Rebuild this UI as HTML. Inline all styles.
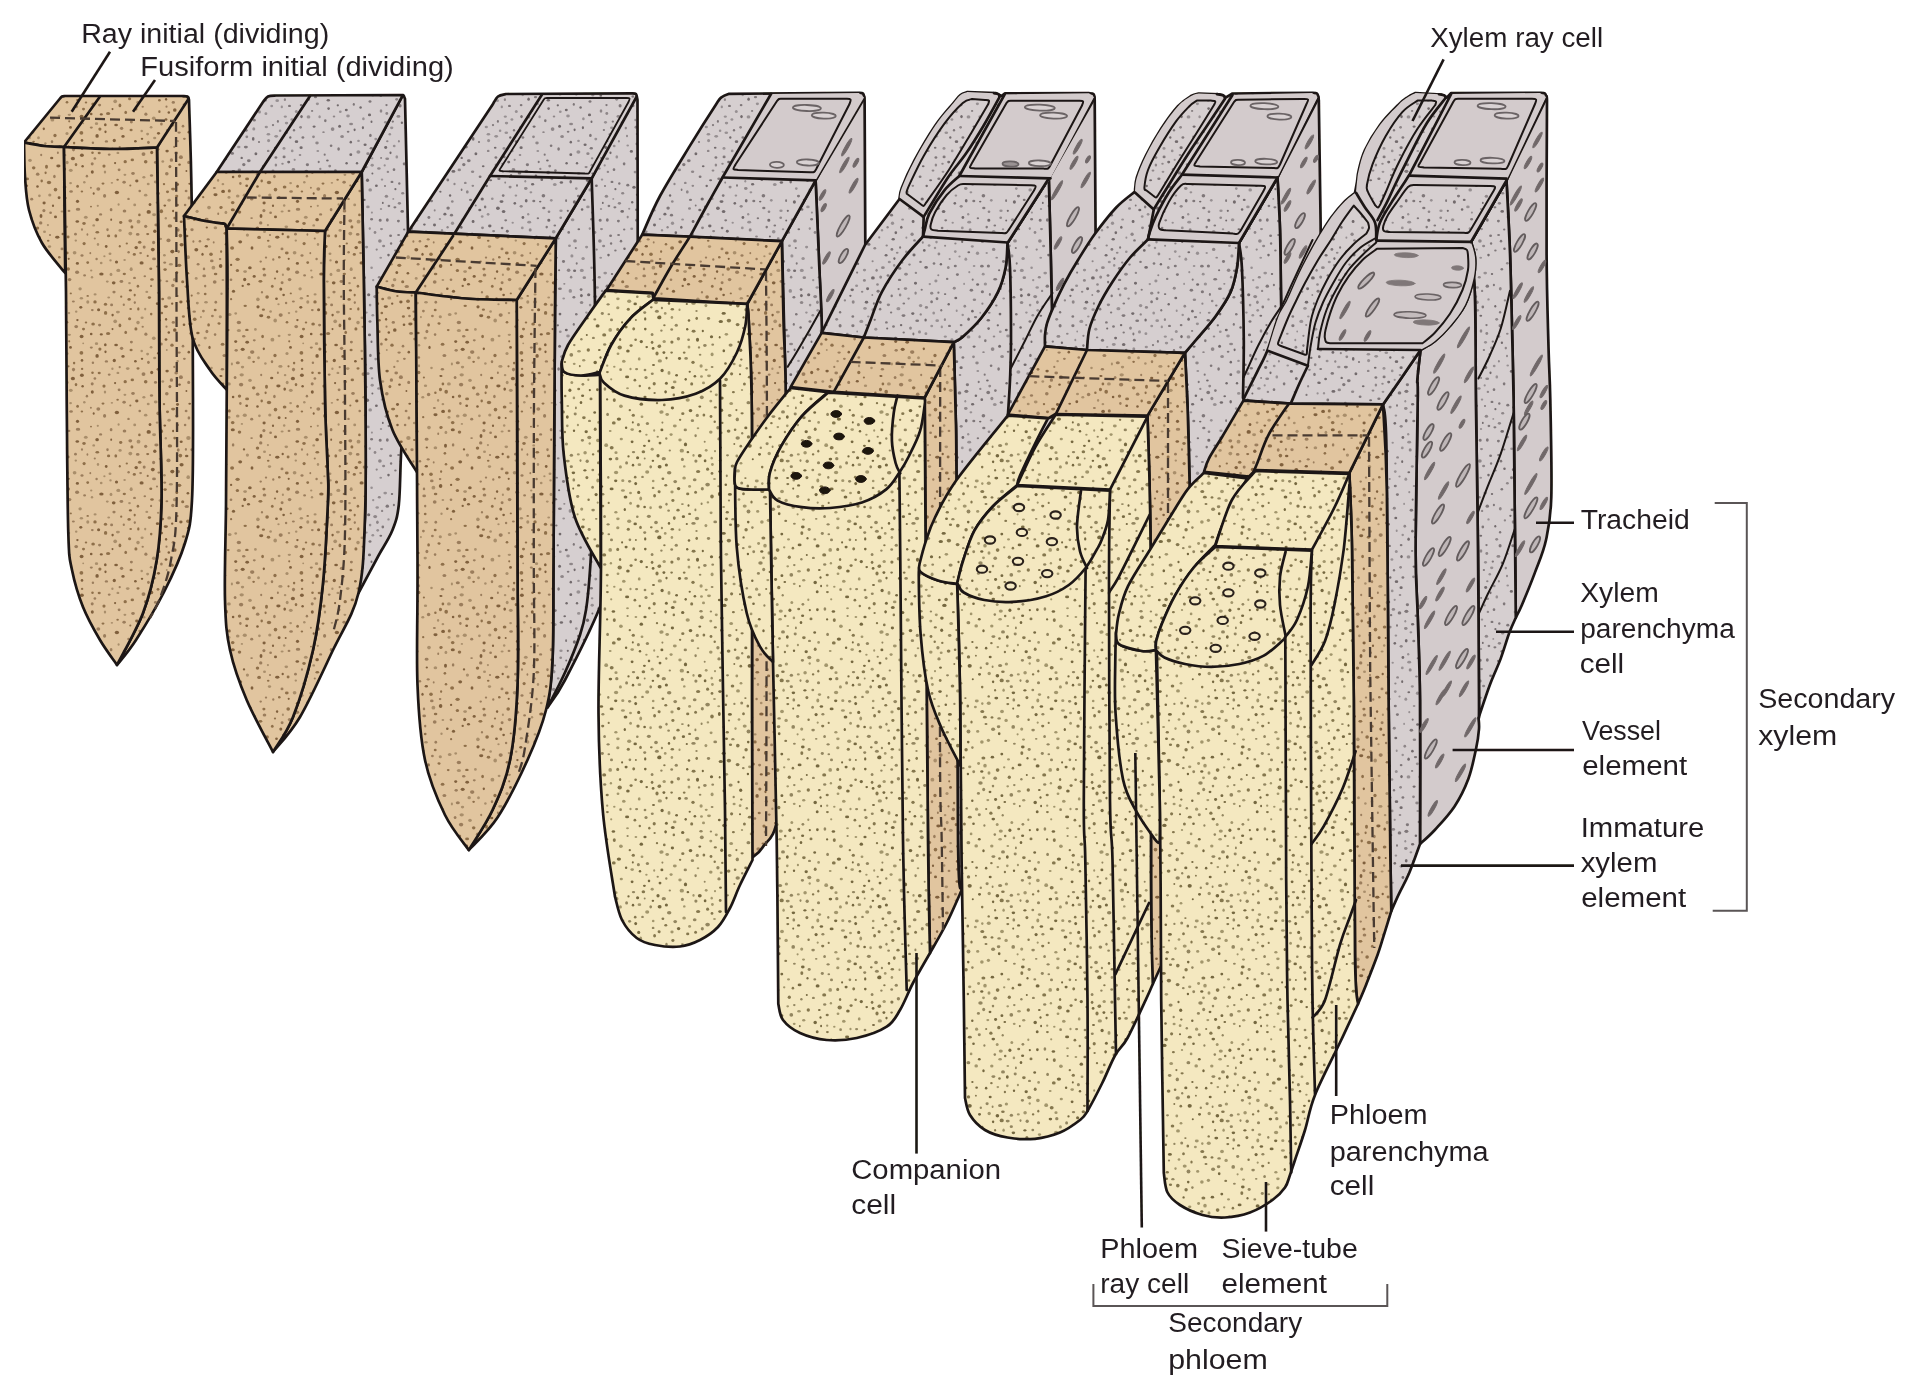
<!DOCTYPE html>
<html><head><meta charset="utf-8"><title>Vascular cambium derivatives</title>
<style>
html,body{margin:0;padding:0;background:#fff;}
svg{display:block;}
text{font-family:"Liberation Sans",sans-serif;fill:#231f20;}
</style></head><body>
<svg width="1920" height="1392" viewBox="0 0 1920 1392" stroke-linejoin="round" stroke-linecap="round">
<defs><pattern id="ptan" width="220" height="220" patternUnits="userSpaceOnUse"><rect width="220" height="220" fill="#e1c59f"/><g fill="#8f6f4a"><ellipse cx="81.4" cy="132.9" rx="1.89" ry="1.83"/><ellipse cx="219" cy="103.5" rx="1.60" ry="1.16"/><ellipse cx="-1" cy="103.5" rx="1.60" ry="1.16"/><ellipse cx="147.7" cy="14.1" rx="1.56" ry="1.05"/><ellipse cx="137.9" cy="66.2" rx="1.27" ry="1.44"/><ellipse cx="147.7" cy="35.9" rx="1.05" ry="1.12"/><ellipse cx="19.5" cy="176.1" rx="1.68" ry="1.69"/><ellipse cx="68.1" cy="16.9" rx="1.47" ry="1.49"/><ellipse cx="131.9" cy="6.9" rx="1.46" ry="1.54"/><ellipse cx="43.4" cy="89.7" rx="1.63" ry="1.15"/><ellipse cx="134.3" cy="34.4" rx="1.60" ry="1.36"/><ellipse cx="9.3" cy="190.9" rx="1.52" ry="1.71"/><ellipse cx="52.3" cy="66.2" rx="1.37" ry="1.53"/><ellipse cx="120.7" cy="2.5" rx="1.68" ry="1.42"/><ellipse cx="120.7" cy="222.5" rx="1.68" ry="1.42"/><ellipse cx="149.4" cy="77.6" rx="1.69" ry="1.37"/><ellipse cx="4.9" cy="13.3" rx="1.32" ry="1.38"/><ellipse cx="169.9" cy="5.9" rx="2.25" ry="1.56"/><ellipse cx="125.2" cy="161.7" rx="1.66" ry="1.67"/><ellipse cx="68.2" cy="49" rx="1.82" ry="1.67"/><ellipse cx="70.8" cy="73.4" rx="1.07" ry="0.96"/><ellipse cx="183.4" cy="96.5" rx="1.54" ry="1.21"/><ellipse cx="74.1" cy="143.1" rx="1.20" ry="1.45"/><ellipse cx="194.7" cy="99.2" rx="1.87" ry="1.71"/><ellipse cx="40.4" cy="61.3" rx="1.93" ry="1.38"/><ellipse cx="177.4" cy="76" rx="1.19" ry="0.97"/><ellipse cx="1" cy="207.5" rx="1.66" ry="1.48"/><ellipse cx="221" cy="207.5" rx="1.66" ry="1.48"/><ellipse cx="164" cy="184.1" rx="1.21" ry="1.20"/><ellipse cx="198.8" cy="152.6" rx="1.61" ry="1.74"/><ellipse cx="203.2" cy="197.2" rx="1.16" ry="1.12"/><ellipse cx="2.9" cy="164" rx="1.36" ry="1.45"/><ellipse cx="222.9" cy="164" rx="1.36" ry="1.45"/><ellipse cx="91" cy="206.6" rx="0.96" ry="0.90"/><ellipse cx="134.7" cy="75.1" rx="1.10" ry="1.47"/><ellipse cx="55.5" cy="189.6" rx="1.79" ry="1.85"/><ellipse cx="117.6" cy="179.7" rx="1.28" ry="0.93"/><ellipse cx="93.1" cy="104" rx="1.81" ry="1.51"/><ellipse cx="12.1" cy="27.9" rx="2.00" ry="1.75"/><ellipse cx="129.1" cy="79.4" rx="1.71" ry="1.43"/><ellipse cx="17.6" cy="39.3" rx="2.14" ry="1.58"/><ellipse cx="95" cy="81.9" rx="1.70" ry="1.59"/><ellipse cx="92.5" cy="152.7" rx="1.28" ry="1.21"/><ellipse cx="27.1" cy="178.9" rx="1.98" ry="1.45"/><ellipse cx="1.1" cy="31.6" rx="1.07" ry="1.34"/><ellipse cx="221.1" cy="31.6" rx="1.07" ry="1.34"/><ellipse cx="55" cy="135.5" rx="1.63" ry="1.82"/><ellipse cx="105.5" cy="84.2" rx="1.64" ry="1.51"/><ellipse cx="103" cy="183.6" rx="1.47" ry="1.15"/><ellipse cx="161.4" cy="211.3" rx="1.66" ry="1.98"/><ellipse cx="119.8" cy="26.2" rx="1.04" ry="1.20"/><ellipse cx="169.9" cy="166.6" rx="1.46" ry="1.63"/><ellipse cx="158" cy="149.3" rx="1.40" ry="1.34"/><ellipse cx="162.7" cy="79" rx="1.42" ry="1.34"/><ellipse cx="77.6" cy="186.3" rx="1.38" ry="1.51"/><ellipse cx="87.7" cy="42.6" rx="1.39" ry="1.28"/><ellipse cx="176.7" cy="196.1" rx="1.63" ry="1.34"/><ellipse cx="139.4" cy="214.9" rx="1.28" ry="1.41"/><ellipse cx="132.3" cy="159.9" rx="1.73" ry="1.39"/><ellipse cx="0.5" cy="169.5" rx="1.51" ry="1.73"/><ellipse cx="220.5" cy="169.5" rx="1.51" ry="1.73"/><ellipse cx="42.6" cy="116.5" rx="1.38" ry="1.64"/><ellipse cx="8.2" cy="110.1" rx="1.41" ry="1.06"/><ellipse cx="11.1" cy="79.2" rx="1.12" ry="1.12"/><ellipse cx="203.9" cy="157.5" rx="1.07" ry="1.02"/><ellipse cx="67" cy="102.2" rx="1.35" ry="1.24"/><ellipse cx="6" cy="24.2" rx="1.29" ry="1.28"/><ellipse cx="48.2" cy="20.7" rx="1.30" ry="1.04"/><ellipse cx="55" cy="58.5" rx="1.15" ry="1.07"/><ellipse cx="37.5" cy="8.1" rx="1.73" ry="1.66"/><ellipse cx="64.6" cy="187" rx="1.84" ry="1.58"/><ellipse cx="25.2" cy="85.8" rx="1.67" ry="1.17"/><ellipse cx="59.3" cy="37.3" rx="1.30" ry="1.23"/><ellipse cx="33.6" cy="141.8" rx="1.33" ry="1.09"/><ellipse cx="39.1" cy="17.4" rx="1.89" ry="1.60"/><ellipse cx="49" cy="182.5" rx="2.14" ry="1.81"/><ellipse cx="167.5" cy="191.8" rx="1.53" ry="1.34"/><ellipse cx="179.3" cy="45.3" rx="2.01" ry="1.60"/><ellipse cx="161.8" cy="93" rx="1.34" ry="1.33"/><ellipse cx="47.1" cy="77.1" rx="1.80" ry="1.75"/><ellipse cx="33.7" cy="167.8" rx="1.75" ry="1.67"/><ellipse cx="215.4" cy="172.8" rx="1.24" ry="1.31"/><ellipse cx="138" cy="148.5" rx="1.57" ry="1.13"/><ellipse cx="211" cy="34.2" rx="1.80" ry="1.80"/><ellipse cx="17.4" cy="50.5" rx="1.65" ry="1.56"/><ellipse cx="41.7" cy="181" rx="1.23" ry="1.46"/><ellipse cx="84.1" cy="23.6" rx="1.58" ry="1.65"/><ellipse cx="215.6" cy="54.1" rx="1.77" ry="1.26"/><ellipse cx="76" cy="164.6" rx="1.30" ry="1.56"/><ellipse cx="172" cy="125.2" rx="1.71" ry="1.62"/><ellipse cx="215.2" cy="90" rx="1.46" ry="1.23"/><ellipse cx="174.7" cy="218.1" rx="1.41" ry="1.34"/><ellipse cx="174.7" cy="-1.9" rx="1.41" ry="1.34"/><ellipse cx="105.6" cy="92.9" rx="1.67" ry="1.87"/><ellipse cx="48.5" cy="97.3" rx="1.74" ry="1.44"/><ellipse cx="124.3" cy="54" rx="1.69" ry="1.16"/><ellipse cx="97.3" cy="12.3" rx="1.84" ry="1.22"/><ellipse cx="173.1" cy="189.1" rx="2.06" ry="1.41"/><ellipse cx="150.8" cy="48.8" rx="1.51" ry="1.28"/><ellipse cx="126.8" cy="23.5" rx="1.18" ry="1.11"/><ellipse cx="208.6" cy="104.9" rx="1.34" ry="1.65"/><ellipse cx="125.7" cy="112.4" rx="1.35" ry="1.65"/><ellipse cx="43.9" cy="49.1" rx="1.57" ry="1.34"/><ellipse cx="165.1" cy="49.6" rx="1.73" ry="1.34"/><ellipse cx="81.9" cy="191.5" rx="1.26" ry="1.11"/><ellipse cx="151.2" cy="94.1" rx="1.24" ry="1.36"/><ellipse cx="46.5" cy="166.8" rx="1.50" ry="1.95"/><ellipse cx="145.7" cy="161.8" rx="1.79" ry="1.69"/><ellipse cx="26.9" cy="109.9" rx="1.76" ry="1.19"/><ellipse cx="19.5" cy="212.1" rx="1.75" ry="1.59"/><ellipse cx="86" cy="102.4" rx="1.24" ry="1.01"/><ellipse cx="180.4" cy="15.6" rx="1.76" ry="1.84"/><ellipse cx="68.5" cy="146.3" rx="1.06" ry="1.10"/><ellipse cx="87.7" cy="75.9" rx="1.24" ry="0.96"/><ellipse cx="191.7" cy="75.6" rx="1.08" ry="1.05"/><ellipse cx="119.9" cy="105.4" rx="1.41" ry="1.91"/><ellipse cx="182.7" cy="61.7" rx="1.54" ry="1.57"/><ellipse cx="130.7" cy="89" rx="1.33" ry="1.08"/><ellipse cx="135.9" cy="108.9" rx="1.54" ry="1.69"/><ellipse cx="12.7" cy="202.6" rx="1.80" ry="1.62"/><ellipse cx="194.3" cy="0" rx="1.31" ry="0.97"/><ellipse cx="194.3" cy="220" rx="1.31" ry="0.97"/><ellipse cx="129.6" cy="98.7" rx="1.58" ry="1.53"/><ellipse cx="104" cy="166.1" rx="1.59" ry="1.54"/><ellipse cx="2.6" cy="124.3" rx="1.84" ry="1.51"/><ellipse cx="222.6" cy="124.3" rx="1.84" ry="1.51"/><ellipse cx="45.6" cy="172.8" rx="1.11" ry="1.36"/><ellipse cx="83.5" cy="109.1" rx="1.50" ry="1.43"/><ellipse cx="82.1" cy="148.9" rx="1.20" ry="1.06"/><ellipse cx="138.3" cy="88.9" rx="1.18" ry="1.57"/><ellipse cx="159.4" cy="100.3" rx="1.36" ry="1.18"/><ellipse cx="130.3" cy="185.5" rx="1.06" ry="0.99"/><ellipse cx="159.4" cy="111.7" rx="1.18" ry="1.34"/><ellipse cx="121.2" cy="76.7" rx="1.12" ry="1.14"/><ellipse cx="205.2" cy="74" rx="1.36" ry="1.28"/><ellipse cx="115.8" cy="15.9" rx="1.38" ry="1.57"/><ellipse cx="139.7" cy="22.3" rx="1.73" ry="1.56"/><ellipse cx="188" cy="81.2" rx="1.91" ry="1.73"/><ellipse cx="66.8" cy="33" rx="1.87" ry="1.49"/><ellipse cx="99.9" cy="129.1" rx="1.58" ry="1.69"/><ellipse cx="131.1" cy="130.1" rx="1.52" ry="1.27"/><ellipse cx="152" cy="59.6" rx="1.82" ry="1.24"/><ellipse cx="69.2" cy="121.3" rx="1.03" ry="1.11"/><ellipse cx="99.2" cy="153" rx="1.54" ry="1.32"/><ellipse cx="108.6" cy="15.9" rx="1.59" ry="1.43"/><ellipse cx="84" cy="3.5" rx="1.75" ry="1.40"/><ellipse cx="108.1" cy="113.5" rx="2.09" ry="1.61"/><ellipse cx="6.2" cy="171.7" rx="1.81" ry="1.93"/></g><g fill="#9b7d5c"><ellipse cx="137.7" cy="14.4" rx="1.79" ry="1.40"/><ellipse cx="140.6" cy="33.1" rx="1.42" ry="1.08"/><ellipse cx="139.7" cy="191" rx="1.29" ry="1.26"/><ellipse cx="158.1" cy="193.3" rx="1.72" ry="1.92"/><ellipse cx="86.9" cy="176.2" rx="1.21" ry="1.40"/><ellipse cx="193.4" cy="21.4" rx="1.00" ry="1.25"/><ellipse cx="212.4" cy="96" rx="1.39" ry="1.27"/><ellipse cx="111.6" cy="84.9" rx="1.49" ry="1.44"/><ellipse cx="128.5" cy="198.9" rx="1.26" ry="1.17"/><ellipse cx="157" cy="46.4" rx="1.04" ry="1.01"/><ellipse cx="183" cy="126.2" rx="1.33" ry="1.38"/><ellipse cx="90.3" cy="33.2" rx="0.93" ry="1.12"/><ellipse cx="192" cy="9.7" rx="1.66" ry="1.47"/><ellipse cx="69" cy="210.9" rx="1.44" ry="1.06"/><ellipse cx="206.9" cy="111.5" rx="1.48" ry="1.72"/><ellipse cx="94.9" cy="158.5" rx="1.35" ry="1.36"/><ellipse cx="215.1" cy="114.6" rx="1.27" ry="1.43"/><ellipse cx="91.3" cy="127.6" rx="1.56" ry="1.04"/><ellipse cx="4.4" cy="135.5" rx="1.92" ry="1.53"/><ellipse cx="155.5" cy="162.4" rx="1.60" ry="1.32"/><ellipse cx="66.1" cy="83" rx="1.19" ry="1.35"/><ellipse cx="153.6" cy="22.4" rx="1.58" ry="1.73"/><ellipse cx="92.3" cy="90.1" rx="1.42" ry="1.15"/><ellipse cx="204" cy="48.9" rx="1.22" ry="1.32"/><ellipse cx="145.9" cy="114.2" rx="1.59" ry="1.59"/><ellipse cx="50" cy="15" rx="1.10" ry="0.96"/><ellipse cx="178.2" cy="9.9" rx="1.45" ry="1.73"/><ellipse cx="37.7" cy="174.2" rx="1.77" ry="1.59"/><ellipse cx="11" cy="59.7" rx="1.35" ry="1.28"/><ellipse cx="214.4" cy="188" rx="1.51" ry="1.12"/><ellipse cx="42" cy="72.3" rx="1.04" ry="1.21"/><ellipse cx="109.2" cy="154.6" rx="1.35" ry="1.21"/><ellipse cx="174.3" cy="146.9" rx="1.12" ry="1.06"/><ellipse cx="161.4" cy="124" rx="1.36" ry="1.53"/><ellipse cx="124.1" cy="182.2" rx="1.73" ry="1.46"/><ellipse cx="53.3" cy="39.5" rx="1.11" ry="1.26"/><ellipse cx="106.4" cy="141.4" rx="1.62" ry="1.22"/><ellipse cx="21.1" cy="164.6" rx="2.15" ry="1.88"/><ellipse cx="90.9" cy="187.8" rx="0.99" ry="0.95"/><ellipse cx="31.6" cy="218.1" rx="1.32" ry="0.93"/><ellipse cx="31.6" cy="-1.9" rx="1.32" ry="0.93"/><ellipse cx="41.2" cy="155" rx="1.07" ry="1.16"/><ellipse cx="188.9" cy="197.9" rx="1.34" ry="1.61"/><ellipse cx="20.4" cy="183.5" rx="1.26" ry="1.40"/><ellipse cx="199.9" cy="21.3" rx="1.28" ry="1.19"/><ellipse cx="144.2" cy="27.1" rx="1.49" ry="1.70"/><ellipse cx="131.4" cy="122.1" rx="1.49" ry="1.34"/><ellipse cx="15.1" cy="157.5" rx="1.39" ry="1.54"/><ellipse cx="119.1" cy="169.8" rx="1.44" ry="1.41"/><ellipse cx="171.4" cy="160" rx="1.67" ry="1.84"/><ellipse cx="40.7" cy="41.6" rx="1.26" ry="1.11"/><ellipse cx="44.5" cy="55" rx="1.83" ry="1.61"/><ellipse cx="121.6" cy="128.3" rx="1.67" ry="1.67"/><ellipse cx="151.1" cy="65.9" rx="1.10" ry="1.18"/><ellipse cx="124.5" cy="211" rx="1.80" ry="1.60"/><ellipse cx="71.1" cy="191.5" rx="1.82" ry="1.36"/><ellipse cx="189.5" cy="96.1" rx="1.29" ry="1.26"/><ellipse cx="166.5" cy="106.7" rx="1.06" ry="1.08"/><ellipse cx="92.9" cy="142.8" rx="1.21" ry="1.23"/><ellipse cx="46" cy="37.6" rx="1.19" ry="1.05"/><ellipse cx="13.1" cy="4.9" rx="1.28" ry="1.66"/><ellipse cx="173.3" cy="102.4" rx="1.67" ry="1.44"/><ellipse cx="205.2" cy="66.1" rx="1.17" ry="1.32"/><ellipse cx="130.3" cy="0.8" rx="1.87" ry="1.61"/><ellipse cx="130.3" cy="220.8" rx="1.87" ry="1.61"/><ellipse cx="198.1" cy="44.2" rx="1.45" ry="1.26"/><ellipse cx="208.2" cy="19.3" rx="1.51" ry="1.17"/><ellipse cx="73.5" cy="149.6" rx="1.57" ry="1.82"/><ellipse cx="156.4" cy="5" rx="2.08" ry="1.39"/><ellipse cx="73.4" cy="81.4" rx="1.50" ry="0.98"/><ellipse cx="17.8" cy="142.8" rx="2.01" ry="1.53"/><ellipse cx="50.6" cy="212.8" rx="1.34" ry="1.31"/><ellipse cx="133" cy="173.5" rx="1.80" ry="1.49"/><ellipse cx="18.9" cy="102.4" rx="2.16" ry="1.75"/><ellipse cx="76.2" cy="106.6" rx="1.86" ry="1.60"/><ellipse cx="94.8" cy="18.5" rx="1.09" ry="1.10"/><ellipse cx="60.7" cy="95.1" rx="2.05" ry="1.81"/><ellipse cx="82" cy="35.5" rx="1.56" ry="1.17"/><ellipse cx="40.7" cy="2.9" rx="1.68" ry="1.68"/><ellipse cx="40.7" cy="222.9" rx="1.68" ry="1.68"/><ellipse cx="54.4" cy="176.5" rx="1.29" ry="1.73"/><ellipse cx="166.8" cy="173.7" rx="1.79" ry="1.77"/><ellipse cx="121.4" cy="61.5" rx="1.87" ry="1.46"/><ellipse cx="179.1" cy="132.6" rx="1.73" ry="1.15"/><ellipse cx="69.6" cy="59.6" rx="1.80" ry="1.58"/><ellipse cx="62" cy="28.9" rx="1.51" ry="1.41"/><ellipse cx="184.4" cy="138.8" rx="1.43" ry="1.13"/><ellipse cx="31.7" cy="199.2" rx="1.55" ry="1.33"/><ellipse cx="148.4" cy="142.3" rx="1.36" ry="1.65"/><ellipse cx="206.6" cy="219.3" rx="1.95" ry="1.47"/><ellipse cx="206.6" cy="-0.7" rx="1.95" ry="1.47"/><ellipse cx="78" cy="209.2" rx="2.25" ry="1.52"/><ellipse cx="168.5" cy="20.4" rx="2.11" ry="1.82"/><ellipse cx="32.2" cy="132.1" rx="2.21" ry="1.78"/><ellipse cx="99.6" cy="105.1" rx="1.55" ry="1.35"/><ellipse cx="128.6" cy="32.2" rx="1.22" ry="1.28"/><ellipse cx="104.6" cy="195.9" rx="1.58" ry="1.78"/><ellipse cx="188.7" cy="162.4" rx="1.49" ry="1.54"/><ellipse cx="57.9" cy="152.7" rx="1.01" ry="1.25"/><ellipse cx="23.7" cy="116.2" rx="1.69" ry="1.29"/><ellipse cx="194.6" cy="119.1" rx="1.38" ry="1.41"/><ellipse cx="2.4" cy="149.3" rx="1.66" ry="1.27"/><ellipse cx="222.4" cy="149.3" rx="1.66" ry="1.27"/><ellipse cx="123.8" cy="84.8" rx="1.10" ry="1.19"/><ellipse cx="191.1" cy="113.4" rx="1.90" ry="1.35"/><ellipse cx="87.4" cy="14.5" rx="0.90" ry="1.24"/><ellipse cx="211.8" cy="40.9" rx="1.80" ry="1.38"/><ellipse cx="100.6" cy="214.4" rx="1.53" ry="1.17"/><ellipse cx="111.1" cy="209.7" rx="1.35" ry="1.65"/><ellipse cx="82" cy="9.6" rx="1.04" ry="1.25"/><ellipse cx="119.7" cy="147.1" rx="1.13" ry="1.20"/><ellipse cx="134.5" cy="57.9" rx="1.44" ry="1.18"/><ellipse cx="114" cy="72.1" rx="1.62" ry="1.34"/><ellipse cx="213.7" cy="22.4" rx="0.95" ry="1.16"/><ellipse cx="203.4" cy="91.1" rx="1.40" ry="1.34"/><ellipse cx="204.2" cy="55.9" rx="1.85" ry="1.34"/><ellipse cx="214.7" cy="62" rx="1.87" ry="1.65"/><ellipse cx="145.7" cy="6.3" rx="1.60" ry="1.66"/><ellipse cx="172.8" cy="65.6" rx="1.67" ry="1.73"/><ellipse cx="0.1" cy="39.1" rx="1.30" ry="1.14"/><ellipse cx="220.1" cy="39.1" rx="1.30" ry="1.14"/><ellipse cx="43.9" cy="210.6" rx="1.56" ry="1.55"/><ellipse cx="107.5" cy="9.8" rx="1.23" ry="1.45"/><ellipse cx="75.5" cy="14.2" rx="1.42" ry="1.40"/><ellipse cx="185.1" cy="205" rx="1.30" ry="1.31"/><ellipse cx="185.9" cy="9.4" rx="1.07" ry="1.32"/><ellipse cx="142.7" cy="106.8" rx="1.16" ry="1.04"/><ellipse cx="166.9" cy="61.2" rx="1.43" ry="0.98"/><ellipse cx="218.2" cy="213.8" rx="0.97" ry="1.31"/><ellipse cx="-1.8" cy="213.8" rx="0.97" ry="1.31"/><ellipse cx="52" cy="141.8" rx="1.27" ry="1.49"/><ellipse cx="92.2" cy="163.8" rx="1.50" ry="1.66"/><ellipse cx="180.9" cy="157.2" rx="1.98" ry="1.88"/><ellipse cx="84.6" cy="55.4" rx="1.46" ry="1.15"/><ellipse cx="34.3" cy="120.3" rx="1.47" ry="1.13"/><ellipse cx="178.7" cy="31.6" rx="1.19" ry="1.59"/><ellipse cx="16.2" cy="130.3" rx="1.68" ry="1.41"/><ellipse cx="134.8" cy="82.6" rx="1.13" ry="1.35"/><ellipse cx="154" cy="38.9" rx="1.93" ry="1.45"/><ellipse cx="208.6" cy="174.4" rx="1.74" ry="1.77"/><ellipse cx="186.8" cy="66.5" rx="2.18" ry="1.60"/><ellipse cx="62.1" cy="62.8" rx="1.48" ry="1.45"/><ellipse cx="144.8" cy="56.2" rx="1.27" ry="1.00"/><ellipse cx="194.2" cy="91.7" rx="1.80" ry="1.14"/><ellipse cx="198.8" cy="137.6" rx="1.34" ry="1.23"/><ellipse cx="143.5" cy="154.1" rx="1.95" ry="1.85"/><ellipse cx="77.1" cy="52.3" rx="2.03" ry="1.80"/><ellipse cx="215.8" cy="82.2" rx="1.36" ry="1.48"/><ellipse cx="151.5" cy="175.6" rx="1.62" ry="1.23"/><ellipse cx="164.7" cy="42.6" rx="1.43" ry="1.19"/><ellipse cx="96.6" cy="39" rx="1.21" ry="1.28"/><ellipse cx="176.2" cy="152.9" rx="1.83" ry="1.49"/><ellipse cx="186.1" cy="191" rx="1.42" ry="1.35"/><ellipse cx="98.3" cy="189" rx="1.94" ry="1.65"/><ellipse cx="158.8" cy="32.6" rx="1.43" ry="1.12"/></g><g fill="#a98e6b"><ellipse cx="52.4" cy="119.7" rx="1.93" ry="1.88"/><ellipse cx="2.9" cy="184.2" rx="1.37" ry="1.09"/><ellipse cx="222.9" cy="184.2" rx="1.37" ry="1.09"/><ellipse cx="166.8" cy="130" rx="0.97" ry="1.07"/><ellipse cx="66.3" cy="6.8" rx="1.79" ry="1.36"/><ellipse cx="157.1" cy="202.6" rx="1.28" ry="1.20"/><ellipse cx="97.8" cy="205.8" rx="1.12" ry="1.15"/><ellipse cx="188.4" cy="218" rx="2.20" ry="1.96"/><ellipse cx="188.4" cy="-2" rx="2.20" ry="1.96"/><ellipse cx="199" cy="125.2" rx="1.27" ry="1.28"/><ellipse cx="158.1" cy="72.8" rx="1.20" ry="1.16"/><ellipse cx="197.3" cy="83.1" rx="1.49" ry="1.44"/><ellipse cx="141.7" cy="131" rx="1.23" ry="1.22"/><ellipse cx="138" cy="102.6" rx="1.73" ry="1.79"/><ellipse cx="55.2" cy="100.4" rx="1.79" ry="2.00"/><ellipse cx="80.1" cy="68.8" rx="1.69" ry="1.67"/><ellipse cx="188.2" cy="37.2" rx="1.78" ry="1.90"/><ellipse cx="49.5" cy="26.6" rx="1.68" ry="1.31"/><ellipse cx="177.6" cy="141.2" rx="1.27" ry="1.09"/><ellipse cx="174.6" cy="59.7" rx="1.75" ry="1.67"/><ellipse cx="76.2" cy="91.7" rx="1.27" ry="1.13"/><ellipse cx="129.5" cy="63.1" rx="1.35" ry="1.17"/><ellipse cx="105" cy="172.1" rx="1.21" ry="1.51"/><ellipse cx="202.8" cy="177.3" rx="1.52" ry="1.27"/><ellipse cx="59.1" cy="116" rx="1.44" ry="1.14"/><ellipse cx="27.4" cy="15.1" rx="1.60" ry="1.66"/><ellipse cx="18.9" cy="110.5" rx="2.05" ry="1.59"/><ellipse cx="117.9" cy="152.9" rx="1.43" ry="1.20"/><ellipse cx="15.7" cy="93.5" rx="1.46" ry="1.13"/><ellipse cx="206" cy="82.3" rx="1.78" ry="1.32"/><ellipse cx="197.5" cy="174" rx="1.51" ry="1.22"/><ellipse cx="145.7" cy="195.2" rx="1.73" ry="1.35"/><ellipse cx="148.2" cy="184" rx="1.46" ry="1.30"/><ellipse cx="164.4" cy="35.3" rx="1.39" ry="1.29"/><ellipse cx="65.1" cy="155.2" rx="1.30" ry="1.12"/><ellipse cx="47.9" cy="5.1" rx="1.11" ry="1.12"/><ellipse cx="37.9" cy="79.3" rx="1.75" ry="1.91"/><ellipse cx="70.8" cy="170.3" rx="1.90" ry="1.60"/><ellipse cx="69" cy="93.1" rx="1.27" ry="1.12"/><ellipse cx="160.4" cy="18.9" rx="1.68" ry="1.08"/><ellipse cx="127.7" cy="148.6" rx="1.82" ry="1.31"/><ellipse cx="1.5" cy="73.7" rx="1.16" ry="1.31"/><ellipse cx="221.5" cy="73.7" rx="1.16" ry="1.31"/><ellipse cx="60.4" cy="146.4" rx="2.09" ry="1.38"/><ellipse cx="24.8" cy="195.2" rx="2.07" ry="1.70"/><ellipse cx="143.9" cy="177.3" rx="1.52" ry="1.24"/><ellipse cx="211.5" cy="148" rx="1.30" ry="1.16"/><ellipse cx="108.7" cy="77.5" rx="1.42" ry="1.09"/><ellipse cx="124.6" cy="40" rx="1.27" ry="0.92"/><ellipse cx="39.4" cy="195.8" rx="1.37" ry="1.34"/><ellipse cx="58.5" cy="84.3" rx="1.16" ry="1.00"/><ellipse cx="111" cy="54.4" rx="1.42" ry="1.64"/><ellipse cx="169.2" cy="77.9" rx="1.98" ry="1.55"/><ellipse cx="115.2" cy="101.3" rx="1.85" ry="1.85"/><ellipse cx="142.1" cy="97.7" rx="1.56" ry="1.25"/><ellipse cx="118.6" cy="204.6" rx="1.03" ry="1.27"/><ellipse cx="35.4" cy="109.4" rx="1.37" ry="1.39"/><ellipse cx="153.8" cy="118.2" rx="1.86" ry="1.72"/><ellipse cx="131.2" cy="49.2" rx="1.49" ry="1.89"/><ellipse cx="101.2" cy="43" rx="1.35" ry="1.31"/><ellipse cx="5.9" cy="212.4" rx="1.40" ry="1.56"/><ellipse cx="104.4" cy="36.2" rx="1.14" ry="1.01"/><ellipse cx="160.1" cy="60.5" rx="1.54" ry="1.30"/><ellipse cx="75.8" cy="20.6" rx="1.24" ry="1.13"/><ellipse cx="11.9" cy="143.9" rx="1.10" ry="1.48"/><ellipse cx="67" cy="133.5" rx="1.57" ry="1.54"/><ellipse cx="162.8" cy="161.5" rx="1.39" ry="1.37"/><ellipse cx="91.2" cy="50.5" rx="1.16" ry="1.04"/><ellipse cx="98" cy="24.4" rx="1.21" ry="1.48"/><ellipse cx="134.7" cy="204.9" rx="1.45" ry="1.40"/><ellipse cx="117.9" cy="92.1" rx="1.98" ry="1.42"/><ellipse cx="64.2" cy="205.5" rx="1.23" ry="1.36"/><ellipse cx="8.9" cy="163.9" rx="1.90" ry="1.55"/><ellipse cx="154.1" cy="214.8" rx="1.97" ry="1.44"/><ellipse cx="215.4" cy="7.7" rx="1.81" ry="1.56"/><ellipse cx="95.1" cy="74.4" rx="1.51" ry="1.05"/><ellipse cx="92" cy="57.3" rx="1.19" ry="1.32"/><ellipse cx="9.7" cy="94.5" rx="1.84" ry="1.55"/><ellipse cx="111.9" cy="182.8" rx="1.23" ry="0.91"/><ellipse cx="69.3" cy="114.8" rx="1.69" ry="1.13"/><ellipse cx="107.3" cy="61.6" rx="1.46" ry="1.14"/><ellipse cx="22.5" cy="147.1" rx="1.70" ry="1.30"/><ellipse cx="197.1" cy="211.3" rx="1.57" ry="1.63"/><ellipse cx="84.3" cy="182.2" rx="1.26" ry="1.18"/><ellipse cx="209" cy="207.6" rx="1.86" ry="1.79"/><ellipse cx="62.1" cy="211.5" rx="1.51" ry="1.03"/><ellipse cx="120.1" cy="10.4" rx="1.62" ry="1.34"/><ellipse cx="85.8" cy="217.3" rx="1.86" ry="1.52"/><ellipse cx="85.8" cy="-2.7" rx="1.86" ry="1.52"/><ellipse cx="44.5" cy="11.7" rx="1.49" ry="1.27"/><ellipse cx="87.8" cy="82" rx="1.53" ry="1.71"/><ellipse cx="200.9" cy="97.1" rx="1.03" ry="1.15"/><ellipse cx="165.8" cy="218.2" rx="1.15" ry="1.30"/><ellipse cx="165.8" cy="-1.8" rx="1.15" ry="1.30"/><ellipse cx="169.1" cy="200.2" rx="1.73" ry="1.47"/><ellipse cx="147.6" cy="134.1" rx="1.46" ry="1.35"/><ellipse cx="21.7" cy="154.8" rx="2.17" ry="1.58"/><ellipse cx="146.8" cy="71.9" rx="1.47" ry="1.16"/><ellipse cx="50.6" cy="91.5" rx="1.33" ry="1.24"/><ellipse cx="21.9" cy="203.9" rx="1.19" ry="0.93"/><ellipse cx="29.2" cy="137.7" rx="1.73" ry="1.61"/><ellipse cx="67.2" cy="162.4" rx="1.45" ry="1.73"/><ellipse cx="198.2" cy="73.3" rx="1.42" ry="1.22"/><ellipse cx="205.5" cy="165.7" rx="1.65" ry="1.30"/><ellipse cx="17.7" cy="196" rx="1.80" ry="1.53"/><ellipse cx="213.4" cy="47.7" rx="1.89" ry="1.88"/><ellipse cx="30" cy="160.3" rx="1.81" ry="1.60"/><ellipse cx="0.3" cy="96.7" rx="1.58" ry="1.51"/><ellipse cx="220.3" cy="96.7" rx="1.58" ry="1.51"/><ellipse cx="62.9" cy="54.8" rx="1.07" ry="1.21"/><ellipse cx="81.4" cy="78.2" rx="1.67" ry="1.21"/><ellipse cx="45.4" cy="143.6" rx="1.26" ry="1.23"/><ellipse cx="199" cy="145.8" rx="1.10" ry="1.51"/><ellipse cx="83.2" cy="123.3" rx="0.94" ry="0.90"/><ellipse cx="110" cy="33.8" rx="1.46" ry="1.19"/><ellipse cx="93.7" cy="5.4" rx="1.36" ry="1.21"/><ellipse cx="49.8" cy="195" rx="1.59" ry="1.53"/><ellipse cx="25.1" cy="51.6" rx="1.86" ry="1.47"/><ellipse cx="130.3" cy="13.6" rx="1.94" ry="1.79"/><ellipse cx="154.7" cy="138" rx="1.61" ry="1.18"/><ellipse cx="96.5" cy="123.7" rx="1.65" ry="1.33"/><ellipse cx="138.5" cy="1.7" rx="1.89" ry="1.92"/><ellipse cx="138.5" cy="221.7" rx="1.89" ry="1.92"/><ellipse cx="151.1" cy="127.3" rx="1.39" ry="1.31"/><ellipse cx="112.4" cy="148.7" rx="1.15" ry="1.28"/><ellipse cx="74.6" cy="32.8" rx="1.84" ry="1.80"/><ellipse cx="110.5" cy="40.4" rx="1.22" ry="1.16"/><ellipse cx="70.6" cy="183.1" rx="1.36" ry="1.17"/><ellipse cx="170.9" cy="44.3" rx="1.93" ry="1.23"/><ellipse cx="218.1" cy="180.4" rx="1.13" ry="1.30"/><ellipse cx="-1.9" cy="180.4" rx="1.13" ry="1.30"/><ellipse cx="2.9" cy="60" rx="1.38" ry="1.04"/><ellipse cx="222.9" cy="60" rx="1.38" ry="1.04"/><ellipse cx="155.7" cy="182" rx="1.87" ry="1.48"/><ellipse cx="196.2" cy="58.4" rx="1.46" ry="1.34"/><ellipse cx="9" cy="197.4" rx="1.53" ry="1.39"/><ellipse cx="38.5" cy="137.8" rx="1.39" ry="1.55"/><ellipse cx="124.9" cy="174.8" rx="1.45" ry="1.16"/><ellipse cx="118.3" cy="50.4" rx="2.02" ry="1.67"/><ellipse cx="205.2" cy="118.1" rx="1.66" ry="1.34"/><ellipse cx="145.2" cy="89.1" rx="1.11" ry="1.29"/><ellipse cx="194.3" cy="202.9" rx="1.40" ry="1.27"/></g><g fill="#80603d"><ellipse cx="57.1" cy="51.6" rx="1.17" ry="1.47"/><ellipse cx="184" cy="104.8" rx="1.31" ry="1.27"/><ellipse cx="115.1" cy="163.1" rx="1.11" ry="1.10"/><ellipse cx="190.4" cy="104" rx="2.17" ry="1.47"/><ellipse cx="29.9" cy="47.7" rx="1.81" ry="1.54"/><ellipse cx="150" cy="204.4" rx="1.39" ry="1.51"/><ellipse cx="62.7" cy="14" rx="1.14" ry="1.26"/><ellipse cx="64.7" cy="169.1" rx="1.34" ry="1.56"/><ellipse cx="111.2" cy="219.7" rx="0.96" ry="1.14"/><ellipse cx="111.2" cy="-0.3" rx="0.96" ry="1.14"/><ellipse cx="101.3" cy="114.4" rx="1.62" ry="1.13"/><ellipse cx="123" cy="136.4" rx="1.65" ry="1.45"/><ellipse cx="148.7" cy="211.9" rx="2.16" ry="1.91"/><ellipse cx="130.4" cy="70.4" rx="1.63" ry="1.14"/><ellipse cx="176.8" cy="52.5" rx="1.38" ry="1.50"/><ellipse cx="41.2" cy="95.8" rx="2.10" ry="1.48"/><ellipse cx="116.5" cy="42" rx="1.56" ry="1.58"/><ellipse cx="177.5" cy="184.5" rx="1.52" ry="1.40"/><ellipse cx="28.5" cy="64.2" rx="1.52" ry="1.29"/><ellipse cx="202.5" cy="34.3" rx="1.15" ry="1.51"/><ellipse cx="63.6" cy="75" rx="1.33" ry="1.15"/><ellipse cx="77.4" cy="43.4" rx="1.59" ry="1.46"/><ellipse cx="181.2" cy="1.7" rx="1.53" ry="1.25"/><ellipse cx="181.2" cy="221.7" rx="1.53" ry="1.25"/><ellipse cx="27.2" cy="122.2" rx="1.83" ry="1.48"/><ellipse cx="157.5" cy="83.7" rx="1.69" ry="1.38"/><ellipse cx="172.2" cy="83.7" rx="1.18" ry="1.16"/><ellipse cx="101.4" cy="53.9" rx="2.20" ry="1.52"/><ellipse cx="93.7" cy="193.5" rx="1.01" ry="1.30"/><ellipse cx="22.7" cy="129.3" rx="2.02" ry="1.60"/><ellipse cx="20.2" cy="21.8" rx="1.93" ry="1.59"/><ellipse cx="26.7" cy="185.7" rx="1.38" ry="1.20"/><ellipse cx="209.5" cy="127.4" rx="1.18" ry="1.56"/><ellipse cx="168.8" cy="112.5" rx="1.25" ry="1.36"/><ellipse cx="164.8" cy="205.6" rx="1.38" ry="1.07"/><ellipse cx="13.5" cy="71.3" rx="1.62" ry="1.52"/><ellipse cx="165.8" cy="86.6" rx="2.13" ry="1.47"/><ellipse cx="80.8" cy="87.3" rx="1.55" ry="1.40"/><ellipse cx="43.8" cy="128.8" rx="1.14" ry="1.39"/><ellipse cx="105.5" cy="131.8" rx="1.12" ry="1.37"/><ellipse cx="188.5" cy="88.1" rx="1.72" ry="1.40"/><ellipse cx="51.7" cy="157.9" rx="1.64" ry="1.27"/><ellipse cx="187.9" cy="53.3" rx="1.33" ry="1.29"/><ellipse cx="58.4" cy="165.9" rx="2.13" ry="1.48"/><ellipse cx="142" cy="138.8" rx="1.25" ry="1.11"/><ellipse cx="72.9" cy="158.5" rx="2.03" ry="1.86"/><ellipse cx="68.7" cy="38.8" rx="1.06" ry="1.14"/><ellipse cx="166" cy="119.5" rx="1.40" ry="1.19"/><ellipse cx="24.7" cy="59.5" rx="1.61" ry="1.79"/><ellipse cx="179.5" cy="164.7" rx="1.37" ry="1.11"/><ellipse cx="116.1" cy="125" rx="1.86" ry="1.37"/><ellipse cx="196.3" cy="29.8" rx="1.97" ry="1.72"/><ellipse cx="152.8" cy="29.6" rx="1.98" ry="1.83"/><ellipse cx="188.8" cy="132.2" rx="1.26" ry="1.34"/><ellipse cx="177.5" cy="205" rx="1.27" ry="1.21"/><ellipse cx="24" cy="9.4" rx="1.19" ry="1.16"/><ellipse cx="81.6" cy="116.5" rx="1.96" ry="1.82"/><ellipse cx="0.6" cy="46" rx="1.76" ry="1.89"/><ellipse cx="220.6" cy="46" rx="1.76" ry="1.89"/><ellipse cx="172.3" cy="31.6" rx="2.09" ry="1.82"/><ellipse cx="98.6" cy="89.7" rx="1.57" ry="1.53"/><ellipse cx="154.8" cy="11.2" rx="1.66" ry="1.80"/><ellipse cx="206.8" cy="7.5" rx="1.14" ry="1.00"/><ellipse cx="158.5" cy="133.3" rx="1.53" ry="1.40"/><ellipse cx="197.3" cy="161.2" rx="1.53" ry="1.23"/><ellipse cx="92.3" cy="171.9" rx="1.51" ry="1.76"/><ellipse cx="181.6" cy="24.8" rx="2.05" ry="1.78"/><ellipse cx="135.4" cy="141.2" rx="1.35" ry="1.22"/><ellipse cx="15.7" cy="121.6" rx="1.53" ry="1.31"/><ellipse cx="114.3" cy="140.6" rx="1.62" ry="1.73"/><ellipse cx="22.7" cy="65.9" rx="1.19" ry="1.14"/><ellipse cx="11.1" cy="44.9" rx="1.17" ry="1.11"/><ellipse cx="91.2" cy="114.1" rx="1.33" ry="1.24"/><ellipse cx="77.4" cy="100.1" rx="1.22" ry="1.10"/><ellipse cx="141.6" cy="42.9" rx="2.04" ry="1.58"/><ellipse cx="32" cy="27.9" rx="1.42" ry="1.77"/><ellipse cx="77.5" cy="201.3" rx="1.58" ry="1.60"/><ellipse cx="3.1" cy="191.4" rx="1.89" ry="1.65"/><ellipse cx="189.7" cy="183.7" rx="1.38" ry="0.97"/><ellipse cx="116.9" cy="192.5" rx="2.15" ry="1.79"/><ellipse cx="97.1" cy="135.9" rx="1.70" ry="1.84"/><ellipse cx="186.4" cy="171" rx="0.96" ry="1.03"/><ellipse cx="77.3" cy="1.6" rx="1.80" ry="1.27"/><ellipse cx="77.3" cy="221.6" rx="1.80" ry="1.27"/><ellipse cx="112.6" cy="95.1" rx="1.18" ry="1.45"/><ellipse cx="196.8" cy="181.8" rx="1.43" ry="1.48"/><ellipse cx="65.7" cy="198" rx="1.00" ry="1.01"/><ellipse cx="206.3" cy="26.3" rx="1.68" ry="1.19"/><ellipse cx="59.1" cy="197.7" rx="1.48" ry="1.43"/><ellipse cx="105.3" cy="124.8" rx="1.31" ry="1.52"/><ellipse cx="38" cy="86.8" rx="1.58" ry="1.62"/><ellipse cx="60.8" cy="69.1" rx="1.49" ry="1.54"/><ellipse cx="5.5" cy="5.8" rx="1.49" ry="1.98"/><ellipse cx="174.8" cy="110" rx="1.77" ry="1.84"/><ellipse cx="1" cy="155.9" rx="1.54" ry="1.01"/><ellipse cx="221" cy="155.9" rx="1.54" ry="1.01"/><ellipse cx="56.5" cy="78.7" rx="1.36" ry="1.21"/><ellipse cx="44.1" cy="203" rx="1.60" ry="1.45"/><ellipse cx="106.2" cy="26.5" rx="1.37" ry="1.49"/><ellipse cx="37.5" cy="186.5" rx="1.29" ry="1.17"/><ellipse cx="41" cy="215.9" rx="1.42" ry="1.98"/><ellipse cx="57.3" cy="17.2" rx="2.15" ry="1.43"/><ellipse cx="166.1" cy="99.3" rx="1.13" ry="1.33"/><ellipse cx="186.7" cy="16" rx="1.75" ry="1.30"/><ellipse cx="167.1" cy="151.1" rx="1.74" ry="1.46"/><ellipse cx="113.7" cy="62.8" rx="1.86" ry="1.62"/><ellipse cx="215.5" cy="194.8" rx="2.06" ry="1.45"/><ellipse cx="136.2" cy="27.6" rx="1.72" ry="1.71"/><ellipse cx="136.8" cy="180.9" rx="1.66" ry="1.49"/><ellipse cx="70.5" cy="127.4" rx="1.41" ry="1.47"/><ellipse cx="34.2" cy="56.4" rx="1.58" ry="1.43"/><ellipse cx="81.9" cy="155.2" rx="1.93" ry="1.79"/><ellipse cx="55.5" cy="216.9" rx="1.49" ry="1.35"/><ellipse cx="180.9" cy="82" rx="1.67" ry="1.43"/><ellipse cx="97.1" cy="219.6" rx="1.78" ry="1.72"/><ellipse cx="97.1" cy="-0.4" rx="1.78" ry="1.72"/><ellipse cx="82" cy="140.4" rx="1.30" ry="1.41"/><ellipse cx="7.3" cy="68.7" rx="1.30" ry="1.26"/><ellipse cx="82.6" cy="166.2" rx="1.23" ry="1.31"/><ellipse cx="151.7" cy="152.6" rx="1.52" ry="1.77"/><ellipse cx="12.8" cy="209.8" rx="2.03" ry="1.57"/><ellipse cx="13.1" cy="177" rx="1.29" ry="1.29"/><ellipse cx="53" cy="205.7" rx="1.10" ry="1.20"/><ellipse cx="112.5" cy="109.1" rx="1.02" ry="1.04"/><ellipse cx="173.1" cy="211" rx="1.02" ry="1.28"/><ellipse cx="197.9" cy="112.9" rx="1.72" ry="1.26"/></g></pattern><pattern id="pgrey" width="220" height="220" patternUnits="userSpaceOnUse"><rect width="220" height="220" fill="#d6cfd0"/><g fill="#7f7779"><ellipse cx="174.9" cy="207.3" rx="1.55" ry="1.12"/><ellipse cx="6.4" cy="102.4" rx="1.33" ry="1.22"/><ellipse cx="175.4" cy="30.5" rx="1.24" ry="1.09"/><ellipse cx="135.8" cy="27.9" rx="1.05" ry="1.01"/><ellipse cx="118.6" cy="149.1" rx="1.32" ry="1.77"/><ellipse cx="45.1" cy="207" rx="1.25" ry="1.43"/><ellipse cx="0.7" cy="149.1" rx="1.37" ry="1.01"/><ellipse cx="220.7" cy="149.1" rx="1.37" ry="1.01"/><ellipse cx="180.1" cy="105.8" rx="1.52" ry="1.71"/><ellipse cx="69.5" cy="105.9" rx="1.46" ry="1.19"/><ellipse cx="165" cy="185.9" rx="0.99" ry="1.00"/><ellipse cx="115.4" cy="170.6" rx="1.34" ry="1.32"/><ellipse cx="23.8" cy="164.6" rx="1.66" ry="1.54"/><ellipse cx="8.1" cy="208.1" rx="1.73" ry="1.61"/><ellipse cx="119.9" cy="68.7" rx="1.95" ry="1.29"/><ellipse cx="151.6" cy="219.3" rx="1.53" ry="1.19"/><ellipse cx="151.6" cy="-0.7" rx="1.53" ry="1.19"/><ellipse cx="217.1" cy="117.4" rx="1.25" ry="0.87"/><ellipse cx="-2.9" cy="117.4" rx="1.25" ry="0.87"/><ellipse cx="23.5" cy="95.6" rx="1.92" ry="1.32"/><ellipse cx="214.7" cy="99.8" rx="1.20" ry="1.13"/><ellipse cx="109.9" cy="74.5" rx="1.04" ry="1.42"/><ellipse cx="19.6" cy="59.9" rx="1.64" ry="1.19"/><ellipse cx="79.5" cy="172.9" rx="1.83" ry="1.66"/><ellipse cx="2.5" cy="120.3" rx="1.57" ry="1.50"/><ellipse cx="222.5" cy="120.3" rx="1.57" ry="1.50"/><ellipse cx="77" cy="185.4" rx="1.00" ry="1.25"/><ellipse cx="11.9" cy="29.4" rx="1.42" ry="1.38"/><ellipse cx="0.1" cy="89.2" rx="1.25" ry="1.42"/><ellipse cx="220.1" cy="89.2" rx="1.25" ry="1.42"/><ellipse cx="61.3" cy="90.2" rx="1.04" ry="1.23"/><ellipse cx="180.1" cy="92.2" rx="1.19" ry="1.22"/><ellipse cx="133.9" cy="77.2" rx="1.47" ry="1.25"/><ellipse cx="138.5" cy="196.1" rx="1.54" ry="1.36"/><ellipse cx="213.9" cy="83.6" rx="1.04" ry="1.24"/><ellipse cx="211.5" cy="201" rx="1.51" ry="1.28"/><ellipse cx="91.4" cy="70.2" rx="1.76" ry="1.43"/><ellipse cx="172" cy="181.9" rx="1.46" ry="1.20"/><ellipse cx="133.8" cy="104.4" rx="1.09" ry="1.42"/><ellipse cx="167.3" cy="66.2" rx="1.73" ry="1.67"/><ellipse cx="163.9" cy="130" rx="1.12" ry="1.10"/><ellipse cx="8" cy="55.5" rx="1.44" ry="1.28"/><ellipse cx="200.3" cy="31.4" rx="1.45" ry="1.32"/><ellipse cx="105.3" cy="120.8" rx="1.26" ry="1.49"/><ellipse cx="178.6" cy="15.1" rx="1.46" ry="1.00"/><ellipse cx="23.8" cy="83.4" rx="1.34" ry="0.99"/><ellipse cx="12.3" cy="153.4" rx="1.72" ry="1.29"/><ellipse cx="57.9" cy="121.4" rx="1.05" ry="1.28"/><ellipse cx="51.6" cy="81.7" rx="1.38" ry="1.56"/><ellipse cx="20.1" cy="27.5" rx="1.04" ry="1.21"/><ellipse cx="192.9" cy="105.7" rx="1.62" ry="1.45"/><ellipse cx="71.1" cy="175.2" rx="1.23" ry="1.13"/><ellipse cx="162.8" cy="87" rx="1.33" ry="1.41"/><ellipse cx="167.3" cy="0.1" rx="1.44" ry="1.77"/><ellipse cx="167.3" cy="220.1" rx="1.44" ry="1.77"/><ellipse cx="103.4" cy="195.8" rx="1.82" ry="1.76"/><ellipse cx="136.3" cy="94.3" rx="1.28" ry="1.27"/><ellipse cx="151.3" cy="148.2" rx="1.65" ry="1.25"/><ellipse cx="103.8" cy="208" rx="1.67" ry="1.21"/><ellipse cx="25.9" cy="147.1" rx="2.00" ry="1.33"/><ellipse cx="161.1" cy="157.9" rx="0.96" ry="0.94"/><ellipse cx="18.6" cy="69.1" rx="1.07" ry="1.06"/><ellipse cx="82.9" cy="137.5" rx="1.42" ry="1.23"/><ellipse cx="181.8" cy="49.3" rx="1.32" ry="1.20"/><ellipse cx="197.1" cy="143.9" rx="1.57" ry="1.36"/><ellipse cx="58.9" cy="178.7" rx="1.62" ry="1.27"/><ellipse cx="206.5" cy="174.9" rx="1.08" ry="1.07"/><ellipse cx="95.5" cy="97.1" rx="1.64" ry="1.22"/><ellipse cx="168.9" cy="206" rx="1.35" ry="1.14"/><ellipse cx="11.5" cy="215.2" rx="1.61" ry="1.41"/><ellipse cx="77.4" cy="54.6" rx="1.54" ry="1.32"/><ellipse cx="104.7" cy="154.7" rx="1.07" ry="1.14"/><ellipse cx="197.1" cy="52.6" rx="1.06" ry="1.10"/><ellipse cx="67.2" cy="58.9" rx="1.26" ry="1.12"/><ellipse cx="40.5" cy="41.9" rx="1.30" ry="1.15"/><ellipse cx="13.5" cy="106.6" rx="1.35" ry="1.27"/><ellipse cx="34.5" cy="20.4" rx="1.31" ry="1.17"/><ellipse cx="11.1" cy="92.6" rx="1.19" ry="1.00"/><ellipse cx="178.4" cy="1.1" rx="1.44" ry="1.47"/><ellipse cx="178.4" cy="221.1" rx="1.44" ry="1.47"/><ellipse cx="86.4" cy="171.3" rx="2.00" ry="1.63"/><ellipse cx="92.7" cy="59.6" rx="0.98" ry="1.20"/><ellipse cx="37.2" cy="100.7" rx="1.89" ry="1.26"/><ellipse cx="33.4" cy="114" rx="1.02" ry="1.41"/><ellipse cx="214.5" cy="154.4" rx="1.29" ry="1.65"/><ellipse cx="81.1" cy="105.1" rx="1.37" ry="1.17"/><ellipse cx="53" cy="125.1" rx="1.11" ry="1.16"/><ellipse cx="92.1" cy="110.9" rx="1.15" ry="0.91"/><ellipse cx="208.9" cy="217.4" rx="1.46" ry="1.49"/><ellipse cx="208.9" cy="-2.6" rx="1.46" ry="1.49"/><ellipse cx="98.7" cy="162" rx="1.05" ry="1.15"/><ellipse cx="116.3" cy="85.5" rx="1.25" ry="1.00"/><ellipse cx="192.8" cy="96.5" rx="1.35" ry="1.20"/><ellipse cx="65.7" cy="0.3" rx="1.45" ry="1.09"/><ellipse cx="65.7" cy="220.3" rx="1.45" ry="1.09"/><ellipse cx="126.1" cy="200.7" rx="1.00" ry="1.35"/><ellipse cx="57" cy="78.7" rx="1.40" ry="1.45"/><ellipse cx="23.7" cy="112.5" rx="1.21" ry="0.93"/><ellipse cx="74" cy="130.2" rx="1.16" ry="1.21"/><ellipse cx="160.2" cy="0.2" rx="1.43" ry="1.53"/><ellipse cx="160.2" cy="220.2" rx="1.43" ry="1.53"/><ellipse cx="174" cy="169.7" rx="1.35" ry="1.33"/><ellipse cx="184.2" cy="9.5" rx="1.17" ry="1.12"/><ellipse cx="114.8" cy="5.5" rx="1.35" ry="1.05"/><ellipse cx="19.6" cy="48.4" rx="1.74" ry="1.41"/><ellipse cx="166.5" cy="105.1" rx="1.16" ry="1.11"/><ellipse cx="75.3" cy="46" rx="1.54" ry="1.21"/><ellipse cx="150" cy="101.6" rx="1.51" ry="1.26"/><ellipse cx="21.6" cy="189.7" rx="0.91" ry="1.23"/><ellipse cx="187.8" cy="185.2" rx="1.53" ry="1.41"/><ellipse cx="7.8" cy="180" rx="1.41" ry="1.46"/><ellipse cx="35.7" cy="205.5" rx="0.93" ry="0.93"/><ellipse cx="62.1" cy="8" rx="1.33" ry="1.19"/><ellipse cx="184.1" cy="163.8" rx="1.33" ry="1.66"/><ellipse cx="173.9" cy="65" rx="1.06" ry="1.28"/><ellipse cx="26.2" cy="130.2" rx="1.44" ry="1.57"/><ellipse cx="111.1" cy="145.7" rx="1.32" ry="1.25"/><ellipse cx="218.1" cy="71.2" rx="1.58" ry="1.49"/><ellipse cx="-1.9" cy="71.2" rx="1.58" ry="1.49"/><ellipse cx="93.8" cy="200.9" rx="1.52" ry="1.25"/><ellipse cx="115.2" cy="59.2" rx="1.90" ry="1.23"/><ellipse cx="108.4" cy="46.1" rx="1.58" ry="1.51"/><ellipse cx="64.1" cy="156.9" rx="1.54" ry="1.39"/><ellipse cx="108.2" cy="172.5" rx="1.87" ry="1.73"/><ellipse cx="63.2" cy="195.6" rx="1.34" ry="1.34"/><ellipse cx="58.4" cy="72.7" rx="1.09" ry="1.14"/><ellipse cx="128.1" cy="131.7" rx="1.33" ry="0.99"/><ellipse cx="28.8" cy="160.8" rx="1.85" ry="1.44"/><ellipse cx="181" cy="21.2" rx="1.26" ry="1.37"/><ellipse cx="196.7" cy="134" rx="0.90" ry="0.94"/><ellipse cx="101.9" cy="46.2" rx="1.77" ry="1.42"/><ellipse cx="196.4" cy="209.7" rx="1.38" ry="1.18"/><ellipse cx="102.4" cy="71.7" rx="1.58" ry="1.57"/><ellipse cx="40.1" cy="176.7" rx="1.42" ry="1.29"/><ellipse cx="150.4" cy="135.4" rx="1.31" ry="1.54"/><ellipse cx="8.1" cy="62.1" rx="1.13" ry="1.35"/><ellipse cx="191.5" cy="37.8" rx="1.49" ry="1.43"/><ellipse cx="97.9" cy="218.3" rx="1.23" ry="1.07"/><ellipse cx="97.9" cy="-1.7" rx="1.23" ry="1.07"/><ellipse cx="54" cy="43.6" rx="1.33" ry="1.24"/><ellipse cx="203.4" cy="125.6" rx="1.13" ry="1.39"/><ellipse cx="179.3" cy="183.5" rx="1.19" ry="1.36"/><ellipse cx="39" cy="142" rx="1.08" ry="1.08"/><ellipse cx="128.7" cy="12.4" rx="1.33" ry="1.33"/><ellipse cx="136.7" cy="43.5" rx="1.03" ry="1.13"/><ellipse cx="106.7" cy="7.1" rx="1.22" ry="1.35"/><ellipse cx="41.7" cy="69.7" rx="1.10" ry="1.00"/><ellipse cx="30.5" cy="199.9" rx="1.55" ry="1.12"/><ellipse cx="11.7" cy="75.9" rx="1.20" ry="1.39"/><ellipse cx="170.6" cy="15.7" rx="1.43" ry="1.22"/><ellipse cx="34.3" cy="120.2" rx="1.49" ry="1.39"/><ellipse cx="55.9" cy="157.4" rx="1.43" ry="1.25"/><ellipse cx="141.1" cy="69.6" rx="1.42" ry="1.45"/><ellipse cx="123.5" cy="41.5" rx="1.56" ry="1.38"/><ellipse cx="87.4" cy="164.8" rx="1.61" ry="1.43"/><ellipse cx="172.8" cy="121.6" rx="1.19" ry="1.10"/><ellipse cx="171.1" cy="23.5" rx="1.17" ry="1.32"/></g><g fill="#8e8688"><ellipse cx="2.9" cy="47.7" rx="1.87" ry="1.37"/><ellipse cx="222.9" cy="47.7" rx="1.87" ry="1.37"/><ellipse cx="32.1" cy="14.3" rx="1.65" ry="1.79"/><ellipse cx="74.3" cy="68.2" rx="1.54" ry="1.43"/><ellipse cx="155" cy="12.5" rx="1.37" ry="1.42"/><ellipse cx="80.6" cy="127.3" rx="1.37" ry="1.39"/><ellipse cx="204.5" cy="207.2" rx="0.95" ry="0.95"/><ellipse cx="20.1" cy="75" rx="1.31" ry="1.49"/><ellipse cx="69.7" cy="39" rx="1.07" ry="1.12"/><ellipse cx="17.2" cy="32.8" rx="1.34" ry="1.03"/><ellipse cx="12.3" cy="201.5" rx="1.33" ry="1.25"/><ellipse cx="32.8" cy="185.8" rx="1.31" ry="1.14"/><ellipse cx="64.9" cy="99.7" rx="1.14" ry="1.33"/><ellipse cx="146.1" cy="167.1" rx="1.61" ry="1.13"/><ellipse cx="80" cy="155" rx="1.30" ry="1.00"/><ellipse cx="214.7" cy="210.4" rx="0.99" ry="1.04"/><ellipse cx="114" cy="116.5" rx="1.27" ry="1.07"/><ellipse cx="206.2" cy="105" rx="1.09" ry="1.12"/><ellipse cx="97" cy="143" rx="1.74" ry="1.38"/><ellipse cx="48.2" cy="150.9" rx="1.34" ry="1.18"/><ellipse cx="42.5" cy="7.8" rx="1.44" ry="1.37"/><ellipse cx="102.4" cy="83.7" rx="1.11" ry="1.09"/><ellipse cx="25.3" cy="182.9" rx="1.34" ry="1.17"/><ellipse cx="135" cy="20.9" rx="1.88" ry="1.56"/><ellipse cx="178.9" cy="141.3" rx="0.92" ry="1.25"/><ellipse cx="131.1" cy="124" rx="1.98" ry="1.30"/><ellipse cx="196.6" cy="0.2" rx="1.60" ry="1.43"/><ellipse cx="196.6" cy="220.2" rx="1.60" ry="1.43"/><ellipse cx="131.1" cy="57.2" rx="1.25" ry="1.40"/><ellipse cx="26.8" cy="136.8" rx="1.40" ry="1.42"/><ellipse cx="58.9" cy="34" rx="1.39" ry="1.43"/><ellipse cx="217.5" cy="64.5" rx="1.31" ry="1.24"/><ellipse cx="-2.5" cy="64.5" rx="1.31" ry="1.24"/><ellipse cx="163.6" cy="26" rx="1.56" ry="1.22"/><ellipse cx="84.8" cy="86.2" rx="1.37" ry="1.46"/><ellipse cx="187.4" cy="43.2" rx="1.41" ry="1.23"/><ellipse cx="65.2" cy="182.6" rx="0.95" ry="1.16"/><ellipse cx="14.5" cy="184" rx="1.12" ry="1.25"/><ellipse cx="156.7" cy="29.6" rx="1.11" ry="1.11"/><ellipse cx="122.1" cy="136.6" rx="1.84" ry="1.50"/><ellipse cx="55.9" cy="165.1" rx="1.24" ry="1.52"/><ellipse cx="113.7" cy="29.4" rx="1.72" ry="1.56"/><ellipse cx="209.4" cy="149.8" rx="1.39" ry="1.12"/><ellipse cx="51.7" cy="73.3" rx="1.63" ry="1.48"/><ellipse cx="187.3" cy="113.8" rx="1.31" ry="1.01"/><ellipse cx="102.4" cy="21.9" rx="1.52" ry="0.99"/><ellipse cx="81.2" cy="206.3" rx="1.59" ry="1.38"/><ellipse cx="35.9" cy="52.9" rx="1.24" ry="1.16"/><ellipse cx="90.2" cy="9.9" rx="1.50" ry="1.62"/><ellipse cx="120.7" cy="217.7" rx="1.35" ry="1.19"/><ellipse cx="120.7" cy="-2.3" rx="1.35" ry="1.19"/><ellipse cx="205.9" cy="11.8" rx="1.77" ry="1.42"/><ellipse cx="53.6" cy="11.1" rx="1.46" ry="1.20"/><ellipse cx="25.5" cy="68.6" rx="1.74" ry="1.47"/><ellipse cx="19.3" cy="169.9" rx="1.72" ry="1.30"/><ellipse cx="180.3" cy="68.8" rx="1.43" ry="1.81"/><ellipse cx="28.6" cy="78.6" rx="1.31" ry="1.09"/><ellipse cx="94.4" cy="79.7" rx="1.75" ry="1.31"/><ellipse cx="159.9" cy="21" rx="1.83" ry="1.64"/><ellipse cx="116.7" cy="37.7" rx="1.31" ry="0.88"/><ellipse cx="187" cy="136" rx="1.00" ry="1.25"/><ellipse cx="112.6" cy="129.1" rx="1.82" ry="1.84"/><ellipse cx="179.4" cy="203.3" rx="1.63" ry="1.40"/><ellipse cx="204.4" cy="60.4" rx="1.48" ry="1.39"/><ellipse cx="157.4" cy="82.3" rx="1.33" ry="1.78"/><ellipse cx="182.7" cy="193.3" rx="1.56" ry="1.24"/><ellipse cx="212.6" cy="41.2" rx="1.06" ry="0.93"/><ellipse cx="6.7" cy="25.4" rx="1.20" ry="1.01"/><ellipse cx="70.1" cy="187.1" rx="1.54" ry="1.32"/><ellipse cx="22.2" cy="42.6" rx="1.19" ry="1.05"/><ellipse cx="109" cy="211.8" rx="1.35" ry="1.29"/><ellipse cx="167.2" cy="158.7" rx="1.91" ry="1.32"/><ellipse cx="65.1" cy="25.7" rx="1.03" ry="1.02"/><ellipse cx="166.4" cy="196.2" rx="1.71" ry="1.57"/><ellipse cx="32.6" cy="171.8" rx="1.65" ry="1.29"/><ellipse cx="40.7" cy="94.4" rx="1.11" ry="1.18"/><ellipse cx="141.6" cy="82.5" rx="1.73" ry="1.52"/><ellipse cx="8.4" cy="84.8" rx="1.67" ry="1.33"/><ellipse cx="15.3" cy="141.5" rx="1.10" ry="1.32"/><ellipse cx="166.8" cy="113.5" rx="1.43" ry="1.42"/><ellipse cx="77.6" cy="17.4" rx="1.38" ry="1.19"/><ellipse cx="93.5" cy="136.8" rx="1.36" ry="1.41"/><ellipse cx="30.5" cy="108.1" rx="1.45" ry="1.64"/><ellipse cx="185.8" cy="128.1" rx="1.18" ry="1.42"/><ellipse cx="159.3" cy="57.3" rx="1.48" ry="1.18"/><ellipse cx="124.3" cy="63.8" rx="1.08" ry="0.91"/><ellipse cx="118.2" cy="18.4" rx="1.39" ry="1.11"/><ellipse cx="202.1" cy="71.7" rx="1.25" ry="0.94"/><ellipse cx="178.4" cy="116.4" rx="1.93" ry="1.40"/><ellipse cx="62.5" cy="163.7" rx="1.25" ry="1.06"/><ellipse cx="29.5" cy="44.6" rx="1.35" ry="1.06"/><ellipse cx="214.8" cy="28.2" rx="1.44" ry="1.32"/><ellipse cx="161" cy="111.1" rx="1.30" ry="1.74"/><ellipse cx="100.3" cy="168.9" rx="1.17" ry="1.04"/><ellipse cx="184.9" cy="80.4" rx="1.18" ry="1.07"/><ellipse cx="20.8" cy="133.2" rx="1.07" ry="1.14"/><ellipse cx="176.7" cy="99.3" rx="1.44" ry="1.39"/><ellipse cx="161.5" cy="9.1" rx="1.51" ry="1.10"/><ellipse cx="35.6" cy="73.1" rx="1.24" ry="1.59"/><ellipse cx="85.8" cy="188.5" rx="1.79" ry="1.49"/><ellipse cx="128.6" cy="50.2" rx="1.82" ry="1.81"/><ellipse cx="103.5" cy="132.2" rx="1.26" ry="0.89"/><ellipse cx="42.8" cy="22.5" rx="0.98" ry="1.23"/><ellipse cx="203.6" cy="155.7" rx="0.93" ry="1.00"/><ellipse cx="158.9" cy="168.4" rx="1.78" ry="1.25"/><ellipse cx="208.1" cy="166.3" rx="0.98" ry="1.20"/><ellipse cx="73.4" cy="169.4" rx="1.73" ry="1.29"/><ellipse cx="0.7" cy="57.1" rx="1.43" ry="1.60"/><ellipse cx="220.7" cy="57.1" rx="1.43" ry="1.60"/><ellipse cx="195.9" cy="127.2" rx="1.39" ry="1.47"/><ellipse cx="29.5" cy="208.5" rx="1.47" ry="1.21"/><ellipse cx="162.1" cy="70.9" rx="1.14" ry="1.21"/><ellipse cx="215.2" cy="144.7" rx="1.30" ry="1.47"/><ellipse cx="144.3" cy="57.7" rx="1.76" ry="1.40"/><ellipse cx="187.7" cy="217.1" rx="1.08" ry="1.47"/><ellipse cx="187.7" cy="-2.9" rx="1.08" ry="1.47"/><ellipse cx="109.2" cy="92.8" rx="1.41" ry="0.97"/><ellipse cx="216.6" cy="50.3" rx="1.15" ry="1.50"/><ellipse cx="109.7" cy="166.1" rx="1.41" ry="1.35"/><ellipse cx="75.4" cy="23.4" rx="1.14" ry="0.98"/><ellipse cx="96.5" cy="16.5" rx="1.43" ry="1.09"/><ellipse cx="193.2" cy="82" rx="1.48" ry="1.76"/><ellipse cx="167.9" cy="171.9" rx="1.26" ry="1.13"/><ellipse cx="46.4" cy="87.4" rx="1.62" ry="1.42"/><ellipse cx="203.4" cy="115.8" rx="1.11" ry="1.08"/><ellipse cx="26" cy="54.3" rx="1.84" ry="1.44"/><ellipse cx="111.9" cy="178.4" rx="1.53" ry="1.76"/><ellipse cx="112.2" cy="81" rx="1.30" ry="1.17"/><ellipse cx="155.2" cy="76.6" rx="1.94" ry="1.71"/><ellipse cx="7.6" cy="7.3" rx="1.14" ry="1.18"/><ellipse cx="53" cy="170.6" rx="1.41" ry="1.11"/><ellipse cx="58.3" cy="55.2" rx="1.02" ry="0.95"/><ellipse cx="68.3" cy="47.5" rx="1.33" ry="1.50"/><ellipse cx="27.3" cy="191.9" rx="1.39" ry="1.53"/><ellipse cx="167.3" cy="141.2" rx="1.22" ry="1.03"/><ellipse cx="219.2" cy="17.4" rx="1.04" ry="1.13"/><ellipse cx="-0.8" cy="17.4" rx="1.04" ry="1.13"/><ellipse cx="147.9" cy="153.7" rx="1.64" ry="1.40"/><ellipse cx="212.3" cy="75.1" rx="0.93" ry="0.98"/></g><g fill="#726a6c"><ellipse cx="137" cy="163.2" rx="1.19" ry="1.24"/><ellipse cx="162.8" cy="202.9" rx="0.93" ry="1.03"/><ellipse cx="198.2" cy="24.9" rx="1.50" ry="1.11"/><ellipse cx="119.6" cy="126.3" rx="1.42" ry="1.56"/><ellipse cx="61.5" cy="201.6" rx="2.01" ry="1.34"/><ellipse cx="168.5" cy="35.1" rx="1.27" ry="1.42"/><ellipse cx="0.4" cy="191.7" rx="1.11" ry="0.96"/><ellipse cx="220.4" cy="191.7" rx="1.11" ry="0.96"/><ellipse cx="46.1" cy="47.4" rx="1.76" ry="1.31"/><ellipse cx="63.6" cy="211.5" rx="1.80" ry="1.53"/><ellipse cx="214.5" cy="5" rx="1.51" ry="1.40"/><ellipse cx="39.8" cy="210.1" rx="1.55" ry="1.25"/><ellipse cx="43.2" cy="166.3" rx="1.35" ry="0.96"/><ellipse cx="75.8" cy="78.1" rx="1.46" ry="1.24"/><ellipse cx="175.4" cy="189.1" rx="1.07" ry="1.20"/><ellipse cx="134.4" cy="202" rx="1.56" ry="1.63"/><ellipse cx="74.8" cy="203.3" rx="1.31" ry="1.35"/><ellipse cx="130.7" cy="181.8" rx="1.24" ry="1.68"/><ellipse cx="7.2" cy="108.6" rx="1.07" ry="1.00"/><ellipse cx="184.5" cy="28.7" rx="1.27" ry="1.32"/><ellipse cx="107.4" cy="160.5" rx="1.35" ry="1.08"/><ellipse cx="88.8" cy="32.2" rx="1.40" ry="0.98"/><ellipse cx="82.9" cy="217.4" rx="1.40" ry="1.49"/><ellipse cx="82.9" cy="-2.6" rx="1.40" ry="1.49"/><ellipse cx="211.2" cy="137.9" rx="1.28" ry="1.06"/><ellipse cx="170.5" cy="152.8" rx="1.07" ry="1.35"/><ellipse cx="142.9" cy="127.7" rx="1.12" ry="1.46"/><ellipse cx="55.2" cy="147.8" rx="1.31" ry="0.99"/><ellipse cx="101.8" cy="179.7" rx="1.36" ry="1.42"/><ellipse cx="76.5" cy="141.7" rx="1.76" ry="1.38"/><ellipse cx="191.4" cy="151.4" rx="1.59" ry="1.37"/><ellipse cx="6.1" cy="35.2" rx="1.48" ry="1.27"/><ellipse cx="138.8" cy="9.2" rx="1.31" ry="0.99"/><ellipse cx="134.6" cy="129.8" rx="1.07" ry="1.41"/><ellipse cx="127.8" cy="210.8" rx="1.09" ry="1.11"/><ellipse cx="23.7" cy="124.5" rx="1.73" ry="1.61"/><ellipse cx="97.6" cy="64.5" rx="1.50" ry="1.27"/><ellipse cx="172" cy="54" rx="1.20" ry="1.02"/><ellipse cx="100.2" cy="201.6" rx="1.21" ry="0.90"/><ellipse cx="94.1" cy="126.6" rx="1.47" ry="1.21"/><ellipse cx="50.6" cy="180.3" rx="1.50" ry="1.03"/><ellipse cx="5.6" cy="159" rx="1.40" ry="1.21"/><ellipse cx="142.1" cy="209.5" rx="1.26" ry="1.35"/><ellipse cx="15.8" cy="12.7" rx="1.31" ry="1.49"/><ellipse cx="126.6" cy="163.3" rx="1.20" ry="1.21"/><ellipse cx="193.3" cy="29.6" rx="1.39" ry="1.54"/><ellipse cx="206.5" cy="82.3" rx="1.72" ry="1.45"/><ellipse cx="33.2" cy="138.9" rx="1.32" ry="1.79"/><ellipse cx="21.3" cy="7.3" rx="1.24" ry="1.50"/><ellipse cx="34" cy="35" rx="1.57" ry="1.44"/><ellipse cx="35.5" cy="63.2" rx="1.50" ry="1.49"/><ellipse cx="50.7" cy="17.2" rx="1.42" ry="1.60"/><ellipse cx="13.4" cy="171.4" rx="1.91" ry="1.40"/><ellipse cx="67.3" cy="11.3" rx="1.45" ry="1.49"/><ellipse cx="202.7" cy="131.6" rx="1.32" ry="1.69"/><ellipse cx="82.2" cy="21.7" rx="1.05" ry="1.35"/><ellipse cx="134.6" cy="50.8" rx="1.58" ry="1.23"/><ellipse cx="60.9" cy="44.3" rx="1.19" ry="1.29"/><ellipse cx="216.1" cy="184.8" rx="1.45" ry="1.36"/><ellipse cx="21.7" cy="157.9" rx="1.19" ry="1.18"/><ellipse cx="198" cy="43.8" rx="1.15" ry="1.24"/><ellipse cx="68.7" cy="84.2" rx="1.22" ry="1.20"/><ellipse cx="149.5" cy="114.9" rx="1.55" ry="1.31"/><ellipse cx="165.7" cy="147.4" rx="1.55" ry="1.49"/><ellipse cx="151.5" cy="121.8" rx="0.97" ry="1.18"/><ellipse cx="130.8" cy="142.2" rx="1.23" ry="1.36"/><ellipse cx="65.1" cy="74.1" rx="1.23" ry="0.95"/><ellipse cx="21.1" cy="105.1" rx="1.20" ry="1.19"/><ellipse cx="197.4" cy="194.8" rx="1.51" ry="1.20"/><ellipse cx="182.2" cy="211.4" rx="1.78" ry="1.29"/><ellipse cx="81.5" cy="116.6" rx="1.27" ry="1.53"/><ellipse cx="121.4" cy="182.5" rx="1.70" ry="1.37"/><ellipse cx="45.6" cy="99.9" rx="1.24" ry="1.51"/><ellipse cx="13.2" cy="19.3" rx="1.64" ry="1.23"/><ellipse cx="212.9" cy="57.9" rx="1.91" ry="1.62"/><ellipse cx="208.8" cy="24.4" rx="1.71" ry="1.32"/><ellipse cx="196.3" cy="158.6" rx="1.38" ry="1.56"/><ellipse cx="57.9" cy="208.3" rx="1.89" ry="1.69"/><ellipse cx="49.8" cy="5.9" rx="1.71" ry="1.49"/><ellipse cx="126.3" cy="110" rx="1.48" ry="1.29"/><ellipse cx="35.9" cy="153.7" rx="1.41" ry="1.51"/><ellipse cx="140.6" cy="107.5" rx="1.22" ry="1.33"/><ellipse cx="192.2" cy="202.3" rx="1.18" ry="1.28"/><ellipse cx="92.4" cy="91.2" rx="1.32" ry="1.36"/><ellipse cx="207.6" cy="68.7" rx="1.51" ry="1.48"/><ellipse cx="92.6" cy="184.3" rx="1.60" ry="1.18"/><ellipse cx="148.7" cy="74.8" rx="1.59" ry="1.55"/><ellipse cx="108.8" cy="0.3" rx="1.53" ry="1.56"/><ellipse cx="108.8" cy="220.3" rx="1.53" ry="1.56"/><ellipse cx="117.8" cy="105.3" rx="1.16" ry="1.13"/><ellipse cx="88.6" cy="99.2" rx="1.31" ry="1.65"/><ellipse cx="145.1" cy="144.8" rx="1.57" ry="1.25"/><ellipse cx="32.8" cy="93.6" rx="1.60" ry="1.47"/><ellipse cx="203.4" cy="17.6" rx="1.24" ry="1.17"/><ellipse cx="33.1" cy="1.5" rx="1.42" ry="1.55"/><ellipse cx="33.1" cy="221.5" rx="1.42" ry="1.55"/><ellipse cx="12.9" cy="132.4" rx="1.41" ry="1.47"/><ellipse cx="15.6" cy="118.1" rx="1.46" ry="1.32"/><ellipse cx="70.3" cy="137.5" rx="1.15" ry="1.31"/><ellipse cx="219" cy="162.8" rx="1.78" ry="1.29"/><ellipse cx="-1" cy="162.8" rx="1.78" ry="1.29"/><ellipse cx="14.4" cy="38.6" rx="1.10" ry="1.30"/><ellipse cx="204.4" cy="4.6" rx="1.36" ry="1.09"/><ellipse cx="108.6" cy="108.6" rx="1.29" ry="1.28"/><ellipse cx="192.2" cy="69.8" rx="1.74" ry="1.38"/><ellipse cx="219.3" cy="136.7" rx="1.29" ry="1.46"/><ellipse cx="-0.7" cy="136.7" rx="1.29" ry="1.46"/><ellipse cx="10.1" cy="195.6" rx="1.17" ry="1.24"/><ellipse cx="144.2" cy="199.9" rx="1.46" ry="1.08"/><ellipse cx="160.8" cy="95.8" rx="1.41" ry="1.07"/><ellipse cx="42.2" cy="199.1" rx="1.64" ry="1.52"/><ellipse cx="0.3" cy="82.3" rx="1.33" ry="1.51"/><ellipse cx="220.3" cy="82.3" rx="1.33" ry="1.51"/><ellipse cx="120" cy="94.1" rx="1.37" ry="1.33"/><ellipse cx="181.9" cy="122.8" rx="1.16" ry="1.24"/><ellipse cx="86.2" cy="200.7" rx="1.37" ry="1.75"/><ellipse cx="95.9" cy="175.8" rx="1.26" ry="1.30"/><ellipse cx="109.9" cy="16.4" rx="1.01" ry="1.02"/><ellipse cx="147.5" cy="180.3" rx="1.58" ry="1.77"/><ellipse cx="175.3" cy="86.2" rx="1.05" ry="1.19"/><ellipse cx="81.1" cy="147.7" rx="1.60" ry="1.41"/><ellipse cx="194" cy="187.3" rx="1.72" ry="1.52"/><ellipse cx="44.3" cy="30.4" rx="1.34" ry="1.28"/><ellipse cx="108.3" cy="100.3" rx="1.71" ry="1.25"/><ellipse cx="126.2" cy="0.5" rx="0.96" ry="1.01"/><ellipse cx="126.2" cy="220.5" rx="0.96" ry="1.01"/><ellipse cx="141.4" cy="75.6" rx="1.41" ry="1.53"/><ellipse cx="4.9" cy="214.2" rx="1.56" ry="1.33"/><ellipse cx="156.4" cy="185.8" rx="1.41" ry="1.30"/><ellipse cx="190.4" cy="75.8" rx="1.15" ry="1.09"/><ellipse cx="130.8" cy="154.7" rx="1.43" ry="1.39"/><ellipse cx="119.1" cy="50.2" rx="1.07" ry="1.00"/><ellipse cx="46.7" cy="186" rx="1.23" ry="1.14"/><ellipse cx="124.7" cy="176.2" rx="1.30" ry="1.07"/><ellipse cx="68.7" cy="162.1" rx="1.52" ry="1.29"/><ellipse cx="208.5" cy="191.6" rx="1.29" ry="0.93"/><ellipse cx="152.4" cy="173.5" rx="0.99" ry="1.03"/></g><g fill="#979092"><ellipse cx="207.5" cy="142.8" rx="1.72" ry="1.58"/><ellipse cx="103.2" cy="54.2" rx="1.46" ry="1.42"/><ellipse cx="151.9" cy="212.6" rx="1.03" ry="1.11"/><ellipse cx="196.6" cy="65.7" rx="1.49" ry="1.25"/><ellipse cx="79.5" cy="36.5" rx="1.11" ry="0.89"/><ellipse cx="66.3" cy="132.7" rx="1.79" ry="1.25"/><ellipse cx="4" cy="173.3" rx="1.07" ry="1.26"/><ellipse cx="2" cy="10.3" rx="1.12" ry="1.26"/><ellipse cx="222" cy="10.3" rx="1.12" ry="1.26"/><ellipse cx="89.3" cy="52.2" rx="1.03" ry="1.09"/><ellipse cx="100.2" cy="92.8" rx="0.89" ry="0.99"/><ellipse cx="161" cy="209" rx="1.19" ry="0.94"/><ellipse cx="138.7" cy="173.4" rx="1.70" ry="1.36"/><ellipse cx="105.4" cy="64" rx="1.62" ry="1.54"/><ellipse cx="61.8" cy="106.9" rx="1.16" ry="1.45"/><ellipse cx="152.1" cy="158.3" rx="1.30" ry="1.12"/><ellipse cx="160.7" cy="37.8" rx="1.39" ry="1.06"/><ellipse cx="171.7" cy="127.8" rx="1.67" ry="1.35"/><ellipse cx="146.4" cy="92.6" rx="1.30" ry="1.12"/><ellipse cx="52.3" cy="198.7" rx="1.35" ry="1.22"/><ellipse cx="82.3" cy="7.9" rx="1.40" ry="1.31"/><ellipse cx="82.7" cy="95" rx="1.24" ry="1.14"/><ellipse cx="49.8" cy="64.1" rx="1.23" ry="1.14"/><ellipse cx="215.8" cy="109.2" rx="1.58" ry="1.44"/><ellipse cx="65.3" cy="116.6" rx="1.56" ry="1.21"/><ellipse cx="195.3" cy="120" rx="0.99" ry="1.26"/><ellipse cx="155.8" cy="139.1" rx="1.46" ry="1.31"/><ellipse cx="152.8" cy="95.2" rx="1.40" ry="1.22"/><ellipse cx="63" cy="171.8" rx="1.40" ry="1.13"/><ellipse cx="33.8" cy="128.9" rx="1.47" ry="1.59"/><ellipse cx="174.2" cy="146" rx="1.37" ry="1.32"/><ellipse cx="111.3" cy="200.3" rx="1.33" ry="1.40"/><ellipse cx="18.8" cy="146.9" rx="1.72" ry="1.25"/><ellipse cx="49.1" cy="25.5" rx="1.39" ry="1.32"/><ellipse cx="55.9" cy="61" rx="1.59" ry="1.43"/><ellipse cx="51.7" cy="106" rx="1.45" ry="1.36"/><ellipse cx="64" cy="148.4" rx="1.52" ry="1.41"/><ellipse cx="88.2" cy="214.2" rx="1.14" ry="1.30"/><ellipse cx="147.9" cy="206.9" rx="1.78" ry="1.31"/><ellipse cx="39.5" cy="111.9" rx="1.52" ry="1.53"/><ellipse cx="88.5" cy="116.9" rx="1.90" ry="1.69"/><ellipse cx="165.5" cy="122.3" rx="1.51" ry="1.40"/><ellipse cx="189.2" cy="208.8" rx="1.10" ry="0.98"/><ellipse cx="72.7" cy="2.7" rx="1.18" ry="1.00"/><ellipse cx="72.7" cy="222.7" rx="1.18" ry="1.00"/><ellipse cx="201.3" cy="101.4" rx="1.96" ry="1.59"/><ellipse cx="7.2" cy="126.9" rx="1.12" ry="0.90"/><ellipse cx="123.7" cy="78.5" rx="1.35" ry="0.91"/><ellipse cx="165.2" cy="53.1" rx="1.81" ry="1.46"/><ellipse cx="150.2" cy="189.9" rx="1.79" ry="1.64"/><ellipse cx="40.6" cy="85.6" rx="1.73" ry="1.63"/><ellipse cx="62.5" cy="17.1" rx="0.91" ry="1.18"/><ellipse cx="157.2" cy="67.5" rx="1.75" ry="1.26"/><ellipse cx="45.9" cy="113.7" rx="1.43" ry="1.41"/><ellipse cx="85.8" cy="39.2" rx="1.42" ry="1.59"/><ellipse cx="13.8" cy="124.5" rx="1.91" ry="1.44"/><ellipse cx="162" cy="179.6" rx="1.25" ry="1.16"/><ellipse cx="176.8" cy="156.9" rx="1.32" ry="1.62"/><ellipse cx="14.2" cy="45.4" rx="1.22" ry="1.29"/><ellipse cx="18.4" cy="88.7" rx="1.98" ry="1.62"/><ellipse cx="84.1" cy="63.9" rx="0.92" ry="1.12"/><ellipse cx="168.5" cy="79.4" rx="1.12" ry="1.19"/><ellipse cx="113.7" cy="11.7" rx="1.84" ry="1.71"/><ellipse cx="48.1" cy="214.3" rx="1.39" ry="1.33"/><ellipse cx="97.4" cy="103.8" rx="1.58" ry="1.37"/><ellipse cx="90.9" cy="192.3" rx="1.39" ry="1.12"/><ellipse cx="146.6" cy="27.1" rx="1.54" ry="1.43"/><ellipse cx="75.3" cy="31.6" rx="1.34" ry="1.41"/><ellipse cx="191.7" cy="8.7" rx="1.47" ry="1.27"/><ellipse cx="129.5" cy="25.8" rx="1.45" ry="1.21"/><ellipse cx="143.1" cy="38.5" rx="1.71" ry="1.55"/><ellipse cx="138.5" cy="140.9" rx="1.37" ry="1.12"/><ellipse cx="157.7" cy="90.3" rx="1.37" ry="1.35"/><ellipse cx="197.2" cy="111.4" rx="0.88" ry="0.99"/><ellipse cx="94.1" cy="46" rx="1.34" ry="1.04"/><ellipse cx="22.6" cy="219.5" rx="1.39" ry="1.12"/><ellipse cx="22.6" cy="-0.5" rx="1.39" ry="1.12"/><ellipse cx="136.3" cy="188.6" rx="1.31" ry="1.34"/><ellipse cx="187.7" cy="145.5" rx="1.30" ry="0.97"/><ellipse cx="141.8" cy="50.4" rx="1.95" ry="1.70"/><ellipse cx="97.8" cy="151" rx="1.41" ry="1.06"/><ellipse cx="12.5" cy="3.2" rx="1.63" ry="1.72"/><ellipse cx="151.6" cy="47.7" rx="1.26" ry="1.26"/><ellipse cx="121" cy="210.7" rx="1.65" ry="1.27"/><ellipse cx="97.5" cy="33.3" rx="1.67" ry="1.69"/><ellipse cx="72.2" cy="150.9" rx="1.35" ry="1.29"/><ellipse cx="76.3" cy="111.5" rx="1.47" ry="1.56"/><ellipse cx="205" cy="88.4" rx="1.78" ry="1.36"/><ellipse cx="56.2" cy="136.3" rx="1.86" ry="1.37"/><ellipse cx="217.6" cy="173.4" rx="1.10" ry="1.13"/><ellipse cx="-2.4" cy="173.4" rx="1.10" ry="1.13"/><ellipse cx="42.2" cy="216.5" rx="1.38" ry="1.32"/><ellipse cx="202.5" cy="183.9" rx="1.33" ry="1.23"/><ellipse cx="57.2" cy="100.7" rx="1.81" ry="1.37"/><ellipse cx="26.4" cy="17.7" rx="0.99" ry="1.09"/><ellipse cx="130.3" cy="70.9" rx="1.72" ry="1.84"/><ellipse cx="138.4" cy="152" rx="2.00" ry="1.82"/><ellipse cx="114.8" cy="184.5" rx="1.87" ry="1.54"/><ellipse cx="66.5" cy="123.1" rx="1.69" ry="1.35"/><ellipse cx="106.7" cy="32.9" rx="1.21" ry="1.02"/><ellipse cx="143.4" cy="118.7" rx="1.28" ry="1.52"/><ellipse cx="9.3" cy="41.9" rx="1.52" ry="1.24"/><ellipse cx="53.7" cy="93" rx="1.35" ry="1.51"/><ellipse cx="89.2" cy="2.2" rx="1.96" ry="1.36"/><ellipse cx="89.2" cy="222.2" rx="1.96" ry="1.36"/><ellipse cx="149.8" cy="8.6" rx="1.14" ry="1.46"/><ellipse cx="76.7" cy="90.7" rx="0.99" ry="1.22"/><ellipse cx="48.6" cy="140.6" rx="1.53" ry="1.64"/><ellipse cx="208.3" cy="96.5" rx="1.24" ry="1.05"/><ellipse cx="153.2" cy="60.1" rx="1.14" ry="1.17"/><ellipse cx="0.5" cy="129.9" rx="1.65" ry="1.51"/><ellipse cx="220.5" cy="129.9" rx="1.65" ry="1.51"/><ellipse cx="150.1" cy="85.1" rx="1.27" ry="1.46"/><ellipse cx="48.4" cy="134.2" rx="1.77" ry="1.22"/><ellipse cx="210.4" cy="130" rx="1.21" ry="1.25"/><ellipse cx="128" cy="116" rx="1.83" ry="1.47"/><ellipse cx="60.1" cy="130.8" rx="1.28" ry="1.23"/><ellipse cx="204.5" cy="50.1" rx="1.62" ry="1.41"/><ellipse cx="132.6" cy="219.8" rx="1.81" ry="1.54"/><ellipse cx="132.6" cy="-0.2" rx="1.81" ry="1.54"/><ellipse cx="219.9" cy="219.1" rx="1.18" ry="1.00"/><ellipse cx="219.9" cy="-0.9" rx="1.18" ry="1.00"/><ellipse cx="-0.1" cy="219.1" rx="1.18" ry="1.00"/><ellipse cx="-0.1" cy="-0.9" rx="1.18" ry="1.00"/><ellipse cx="56.5" cy="22.1" rx="1.22" ry="1.38"/><ellipse cx="55" cy="28" rx="1.26" ry="1.16"/><ellipse cx="46.3" cy="127.1" rx="1.64" ry="1.27"/><ellipse cx="75.9" cy="195.6" rx="1.33" ry="1.04"/><ellipse cx="71.9" cy="119.6" rx="1.45" ry="1.26"/><ellipse cx="85.3" cy="181.3" rx="0.98" ry="1.32"/><ellipse cx="26.3" cy="31.8" rx="1.29" ry="1.26"/><ellipse cx="152.2" cy="165.2" rx="1.63" ry="1.48"/><ellipse cx="74.7" cy="159.8" rx="1.15" ry="1.16"/><ellipse cx="164.7" cy="165.4" rx="1.10" ry="1.04"/><ellipse cx="169.8" cy="134.2" rx="1.30" ry="1.29"/><ellipse cx="7.1" cy="141.1" rx="1.46" ry="1.23"/><ellipse cx="195.1" cy="172.1" rx="1.45" ry="1.31"/><ellipse cx="131.9" cy="35.9" rx="1.53" ry="1.65"/><ellipse cx="92.3" cy="26.5" rx="1.59" ry="1.15"/><ellipse cx="99.6" cy="116.8" rx="1.21" ry="1.53"/><ellipse cx="213.1" cy="89.7" rx="1.69" ry="1.36"/><ellipse cx="173.3" cy="198.9" rx="0.96" ry="0.90"/><ellipse cx="120.3" cy="111.7" rx="1.38" ry="1.20"/><ellipse cx="123" cy="9.3" rx="1.24" ry="0.98"/></g></pattern><pattern id="pcream" width="220" height="220" patternUnits="userSpaceOnUse"><rect width="220" height="220" fill="#f4e8c0"/><g fill="#85774e"><ellipse cx="111.4" cy="203.2" rx="1.29" ry="1.14"/><ellipse cx="84.4" cy="164.1" rx="1.46" ry="1.51"/><ellipse cx="43.9" cy="195" rx="1.37" ry="1.59"/><ellipse cx="11.9" cy="122.1" rx="1.59" ry="1.53"/><ellipse cx="155.2" cy="209.2" rx="1.48" ry="1.70"/><ellipse cx="148.3" cy="129.9" rx="1.66" ry="1.74"/><ellipse cx="76.4" cy="190.1" rx="1.09" ry="1.16"/><ellipse cx="88.5" cy="216.9" rx="1.68" ry="1.53"/><ellipse cx="177.7" cy="109.4" rx="1.47" ry="1.70"/><ellipse cx="146.9" cy="37.6" rx="1.51" ry="1.59"/><ellipse cx="217" cy="133.4" rx="1.56" ry="2.00"/><ellipse cx="153.1" cy="14.4" rx="1.26" ry="1.05"/><ellipse cx="195.2" cy="37.2" rx="1.30" ry="1.36"/><ellipse cx="193.7" cy="108.8" rx="1.43" ry="1.64"/><ellipse cx="2.9" cy="38.7" rx="1.40" ry="1.30"/><ellipse cx="222.9" cy="38.7" rx="1.40" ry="1.30"/><ellipse cx="85.4" cy="38.1" rx="1.16" ry="0.97"/><ellipse cx="195.6" cy="119.8" rx="1.31" ry="1.23"/><ellipse cx="66.1" cy="159.5" rx="1.81" ry="1.71"/><ellipse cx="11.6" cy="132.6" rx="1.35" ry="1.07"/><ellipse cx="82.1" cy="193.3" rx="1.62" ry="1.13"/><ellipse cx="14.3" cy="78.1" rx="1.45" ry="1.82"/><ellipse cx="73.4" cy="172.2" rx="1.49" ry="1.09"/><ellipse cx="217" cy="183.2" rx="1.17" ry="1.10"/><ellipse cx="81.3" cy="139.6" rx="1.25" ry="1.15"/><ellipse cx="52" cy="56.4" rx="1.79" ry="1.98"/><ellipse cx="55.3" cy="187.4" rx="1.64" ry="1.15"/><ellipse cx="12.9" cy="60.5" rx="1.60" ry="1.40"/><ellipse cx="214.6" cy="173" rx="1.18" ry="0.97"/><ellipse cx="132.9" cy="108.2" rx="1.30" ry="1.40"/><ellipse cx="87.8" cy="46" rx="1.34" ry="1.51"/><ellipse cx="70.5" cy="84.7" rx="1.59" ry="1.20"/><ellipse cx="191.1" cy="125.6" rx="1.59" ry="1.28"/><ellipse cx="4.4" cy="105.3" rx="1.23" ry="1.07"/><ellipse cx="199.8" cy="166" rx="1.20" ry="1.31"/><ellipse cx="119.5" cy="198.5" rx="1.31" ry="1.35"/><ellipse cx="212.1" cy="122.3" rx="1.32" ry="1.65"/><ellipse cx="118.8" cy="147.5" rx="1.60" ry="1.87"/><ellipse cx="127.8" cy="44.1" rx="1.52" ry="1.05"/><ellipse cx="38.1" cy="31.6" rx="2.07" ry="1.50"/><ellipse cx="173.8" cy="202.9" rx="1.91" ry="1.57"/><ellipse cx="211.3" cy="87.3" rx="1.36" ry="1.09"/><ellipse cx="102.2" cy="27.1" rx="1.25" ry="1.39"/><ellipse cx="4.3" cy="184.9" rx="1.35" ry="1.29"/><ellipse cx="68.9" cy="100.6" rx="2.14" ry="1.87"/><ellipse cx="22.8" cy="193.7" rx="1.62" ry="1.36"/><ellipse cx="141.8" cy="93.1" rx="1.50" ry="1.86"/><ellipse cx="31.7" cy="163.9" rx="1.49" ry="1.54"/><ellipse cx="129.3" cy="117.2" rx="1.63" ry="1.79"/><ellipse cx="33" cy="142.3" rx="1.68" ry="1.61"/><ellipse cx="71.6" cy="153.8" rx="1.55" ry="1.66"/><ellipse cx="106" cy="64" rx="1.48" ry="1.01"/><ellipse cx="214.2" cy="163.7" rx="1.57" ry="1.73"/><ellipse cx="89.8" cy="157.2" rx="1.99" ry="1.36"/><ellipse cx="29.6" cy="73.9" rx="1.44" ry="1.19"/><ellipse cx="13.8" cy="174.9" rx="1.25" ry="1.29"/><ellipse cx="52" cy="33.4" rx="1.38" ry="1.45"/><ellipse cx="91.5" cy="61.9" rx="1.20" ry="1.52"/><ellipse cx="104.9" cy="57.2" rx="1.91" ry="1.37"/><ellipse cx="164.2" cy="114.9" rx="2.02" ry="1.65"/><ellipse cx="74.3" cy="4" rx="0.98" ry="1.09"/><ellipse cx="95.9" cy="215.7" rx="0.98" ry="0.91"/><ellipse cx="200.5" cy="87.4" rx="1.32" ry="1.58"/><ellipse cx="12.3" cy="89.3" rx="1.73" ry="1.26"/><ellipse cx="75.1" cy="209.7" rx="1.31" ry="1.29"/><ellipse cx="77.8" cy="85.6" rx="1.80" ry="1.88"/><ellipse cx="106.2" cy="149" rx="1.05" ry="0.90"/><ellipse cx="158.3" cy="11.2" rx="1.07" ry="1.38"/><ellipse cx="117.6" cy="110.1" rx="1.86" ry="1.81"/><ellipse cx="5.8" cy="45.3" rx="1.52" ry="1.20"/><ellipse cx="194.9" cy="160.2" rx="1.38" ry="1.38"/><ellipse cx="20.1" cy="199.8" rx="1.20" ry="1.14"/><ellipse cx="83.5" cy="53.7" rx="1.36" ry="1.56"/><ellipse cx="148.6" cy="59.7" rx="1.21" ry="1.26"/><ellipse cx="219.3" cy="126.2" rx="1.83" ry="1.75"/><ellipse cx="-0.7" cy="126.2" rx="1.83" ry="1.75"/><ellipse cx="60.2" cy="20.4" rx="1.40" ry="1.48"/><ellipse cx="102.3" cy="51.5" rx="1.97" ry="1.58"/><ellipse cx="188.3" cy="89.3" rx="1.57" ry="1.56"/><ellipse cx="108.7" cy="36.4" rx="1.19" ry="1.19"/><ellipse cx="138.7" cy="168.9" rx="1.49" ry="1.23"/><ellipse cx="72.5" cy="26" rx="1.82" ry="1.57"/><ellipse cx="193.3" cy="195.2" rx="1.63" ry="1.56"/><ellipse cx="112" cy="57.4" rx="1.44" ry="1.21"/><ellipse cx="125.7" cy="80.9" rx="1.47" ry="1.07"/><ellipse cx="219.1" cy="51.7" rx="1.53" ry="1.46"/><ellipse cx="-0.9" cy="51.7" rx="1.53" ry="1.46"/><ellipse cx="103.4" cy="98" rx="1.99" ry="1.56"/><ellipse cx="167.4" cy="152.1" rx="1.45" ry="1.15"/><ellipse cx="24.2" cy="132.6" rx="1.30" ry="1.19"/><ellipse cx="189.8" cy="190.2" rx="1.18" ry="1.13"/><ellipse cx="35.6" cy="52.3" rx="1.42" ry="1.53"/><ellipse cx="143.9" cy="197.8" rx="1.79" ry="1.43"/><ellipse cx="195.9" cy="100" rx="1.00" ry="1.00"/><ellipse cx="18" cy="70.2" rx="1.64" ry="1.37"/><ellipse cx="51" cy="196.4" rx="1.42" ry="1.49"/><ellipse cx="110.9" cy="153.2" rx="1.66" ry="1.67"/><ellipse cx="36.7" cy="98.3" rx="1.30" ry="1.61"/><ellipse cx="214.6" cy="55.8" rx="1.47" ry="1.75"/><ellipse cx="122.9" cy="11.8" rx="1.78" ry="1.28"/><ellipse cx="203.4" cy="11.8" rx="1.77" ry="1.54"/><ellipse cx="168.7" cy="62.9" rx="1.08" ry="1.08"/><ellipse cx="162.7" cy="66.1" rx="1.60" ry="1.35"/><ellipse cx="27.7" cy="53.9" rx="1.61" ry="1.38"/><ellipse cx="47.6" cy="29.2" rx="1.53" ry="1.67"/><ellipse cx="125.2" cy="175.9" rx="1.23" ry="1.25"/><ellipse cx="151" cy="178.9" rx="1.51" ry="1.46"/><ellipse cx="54.7" cy="201.7" rx="1.20" ry="1.30"/><ellipse cx="121.7" cy="20.4" rx="2.05" ry="1.85"/><ellipse cx="124.9" cy="211.9" rx="1.14" ry="1.27"/><ellipse cx="209.3" cy="168.2" rx="1.19" ry="1.38"/><ellipse cx="167.2" cy="135" rx="1.55" ry="1.35"/><ellipse cx="86.1" cy="89.7" rx="1.70" ry="1.73"/><ellipse cx="77.6" cy="104.6" rx="1.89" ry="1.57"/><ellipse cx="80.8" cy="6.2" rx="1.37" ry="1.36"/><ellipse cx="179.7" cy="127.5" rx="2.19" ry="2.02"/><ellipse cx="67.3" cy="72.2" rx="1.61" ry="1.31"/><ellipse cx="68.6" cy="211.1" rx="1.84" ry="1.62"/><ellipse cx="115.1" cy="30.2" rx="1.01" ry="1.21"/><ellipse cx="171.7" cy="7.7" rx="1.94" ry="1.73"/><ellipse cx="198" cy="66.1" rx="1.66" ry="1.66"/><ellipse cx="174.3" cy="180.1" rx="1.52" ry="1.93"/><ellipse cx="180.1" cy="119.5" rx="1.17" ry="1.61"/><ellipse cx="33.6" cy="111.3" rx="1.97" ry="1.48"/><ellipse cx="139.8" cy="146.2" rx="0.95" ry="1.16"/><ellipse cx="62.3" cy="202.9" rx="1.23" ry="1.07"/></g><g fill="#938660"><ellipse cx="1.4" cy="110.6" rx="1.16" ry="1.17"/><ellipse cx="221.4" cy="110.6" rx="1.16" ry="1.17"/><ellipse cx="154.8" cy="99.4" rx="1.45" ry="1.15"/><ellipse cx="22.4" cy="64.1" rx="1.41" ry="0.97"/><ellipse cx="193.5" cy="12.1" rx="1.68" ry="1.22"/><ellipse cx="83.3" cy="108.2" rx="1.36" ry="1.14"/><ellipse cx="131.3" cy="26.7" rx="1.61" ry="1.39"/><ellipse cx="44.7" cy="1.8" rx="0.98" ry="1.04"/><ellipse cx="44.7" cy="221.8" rx="0.98" ry="1.04"/><ellipse cx="18.4" cy="118.7" rx="1.68" ry="1.81"/><ellipse cx="3.8" cy="18.7" rx="2.13" ry="1.65"/><ellipse cx="92.4" cy="87.6" rx="1.25" ry="1.41"/><ellipse cx="140.5" cy="20.6" rx="1.01" ry="1.31"/><ellipse cx="59" cy="218.9" rx="1.65" ry="1.56"/><ellipse cx="59" cy="-1.1" rx="1.65" ry="1.56"/><ellipse cx="162.3" cy="93.5" rx="1.56" ry="1.38"/><ellipse cx="99.3" cy="154.8" rx="1.53" ry="1.44"/><ellipse cx="168.1" cy="84.3" rx="1.52" ry="1.17"/><ellipse cx="100.5" cy="123" rx="2.23" ry="1.83"/><ellipse cx="6.3" cy="218.5" rx="1.14" ry="1.27"/><ellipse cx="6.3" cy="-1.5" rx="1.14" ry="1.27"/><ellipse cx="115.2" cy="118.2" rx="1.86" ry="1.73"/><ellipse cx="141.4" cy="119.3" rx="1.20" ry="1.21"/><ellipse cx="158.5" cy="22.7" rx="1.55" ry="1.51"/><ellipse cx="131.3" cy="134.9" rx="1.87" ry="1.79"/><ellipse cx="149.2" cy="89.5" rx="1.59" ry="1.43"/><ellipse cx="15.2" cy="41.6" rx="1.83" ry="1.56"/><ellipse cx="133.8" cy="39.9" rx="1.36" ry="1.61"/><ellipse cx="50.9" cy="171.6" rx="1.20" ry="0.99"/><ellipse cx="42.3" cy="48.7" rx="1.56" ry="1.73"/><ellipse cx="198.4" cy="204.7" rx="1.50" ry="1.59"/><ellipse cx="134.3" cy="125.1" rx="1.27" ry="1.06"/><ellipse cx="88.5" cy="71.5" rx="1.94" ry="1.91"/><ellipse cx="98.4" cy="133.4" rx="1.55" ry="1.44"/><ellipse cx="167.6" cy="194.4" rx="1.39" ry="1.69"/><ellipse cx="2.4" cy="202.6" rx="1.02" ry="1.03"/><ellipse cx="222.4" cy="202.6" rx="1.02" ry="1.03"/><ellipse cx="9.2" cy="32.8" rx="2.22" ry="1.79"/><ellipse cx="35.9" cy="21.1" rx="1.59" ry="1.56"/><ellipse cx="40.1" cy="134.8" rx="1.30" ry="1.06"/><ellipse cx="164.6" cy="76.5" rx="1.34" ry="1.60"/><ellipse cx="41" cy="171.3" rx="1.66" ry="1.19"/><ellipse cx="147.2" cy="21.2" rx="1.63" ry="1.71"/><ellipse cx="47.6" cy="44.6" rx="2.28" ry="1.89"/><ellipse cx="206" cy="157.4" rx="1.60" ry="1.52"/><ellipse cx="171.5" cy="99.9" rx="1.50" ry="1.46"/><ellipse cx="33.5" cy="83.4" rx="2.16" ry="1.46"/><ellipse cx="212.1" cy="114.5" rx="1.41" ry="1.59"/><ellipse cx="208.9" cy="76.3" rx="2.01" ry="1.65"/><ellipse cx="156.2" cy="78.8" rx="1.26" ry="0.92"/><ellipse cx="122.7" cy="155.2" rx="1.10" ry="1.24"/><ellipse cx="197.3" cy="76.7" rx="1.29" ry="1.28"/><ellipse cx="113.4" cy="196.6" rx="1.95" ry="1.44"/><ellipse cx="180.6" cy="149.7" rx="1.34" ry="1.40"/><ellipse cx="6.5" cy="64.3" rx="1.16" ry="1.48"/><ellipse cx="134.4" cy="83.7" rx="1.44" ry="0.96"/><ellipse cx="104.4" cy="165.4" rx="1.07" ry="1.25"/><ellipse cx="16.3" cy="105.2" rx="1.63" ry="1.51"/><ellipse cx="153.4" cy="117.9" rx="1.47" ry="1.21"/><ellipse cx="212.3" cy="153.8" rx="1.48" ry="1.18"/><ellipse cx="168.3" cy="37.4" rx="1.14" ry="1.32"/><ellipse cx="35.6" cy="215.7" rx="1.20" ry="1.45"/><ellipse cx="153.1" cy="70.1" rx="1.76" ry="1.47"/><ellipse cx="55.2" cy="81.9" rx="1.88" ry="1.47"/><ellipse cx="204.7" cy="18.5" rx="0.98" ry="1.05"/><ellipse cx="48.5" cy="98.5" rx="1.66" ry="1.48"/><ellipse cx="137.7" cy="56.5" rx="1.59" ry="1.48"/><ellipse cx="142.4" cy="0.3" rx="1.66" ry="1.39"/><ellipse cx="142.4" cy="220.3" rx="1.66" ry="1.39"/><ellipse cx="1.9" cy="88" rx="1.11" ry="1.19"/><ellipse cx="221.9" cy="88" rx="1.11" ry="1.19"/><ellipse cx="41.8" cy="177.3" rx="1.92" ry="1.86"/><ellipse cx="39" cy="127.4" rx="1.12" ry="1.21"/><ellipse cx="73.7" cy="137" rx="1.16" ry="1.35"/><ellipse cx="213.1" cy="47.9" rx="1.37" ry="1.20"/><ellipse cx="113.1" cy="69.2" rx="2.01" ry="1.68"/><ellipse cx="9.8" cy="10.5" rx="1.18" ry="1.09"/><ellipse cx="216.9" cy="91.2" rx="1.95" ry="1.53"/><ellipse cx="34.7" cy="39.7" rx="1.84" ry="1.51"/><ellipse cx="74.4" cy="43.9" rx="1.17" ry="1.03"/><ellipse cx="202.5" cy="36.9" rx="1.31" ry="1.19"/><ellipse cx="187.6" cy="175.9" rx="1.12" ry="1.00"/><ellipse cx="0.4" cy="67.1" rx="1.83" ry="1.61"/><ellipse cx="220.4" cy="67.1" rx="1.83" ry="1.61"/><ellipse cx="112.6" cy="6.8" rx="0.97" ry="1.27"/><ellipse cx="186.6" cy="22.9" rx="1.46" ry="1.57"/><ellipse cx="103.7" cy="129.5" rx="1.52" ry="1.73"/><ellipse cx="72.9" cy="79.2" rx="1.61" ry="1.17"/><ellipse cx="168.8" cy="94.2" rx="1.34" ry="1.03"/><ellipse cx="164.9" cy="169" rx="1.36" ry="1.70"/><ellipse cx="100.8" cy="7.7" rx="1.16" ry="1.20"/><ellipse cx="205" cy="150" rx="1.36" ry="1.30"/><ellipse cx="77.7" cy="218" rx="2.20" ry="1.78"/><ellipse cx="77.7" cy="-2" rx="2.20" ry="1.78"/><ellipse cx="204.7" cy="92.6" rx="1.54" ry="1.45"/><ellipse cx="135.2" cy="194" rx="1.54" ry="1.40"/><ellipse cx="86.8" cy="148.2" rx="1.23" ry="1.26"/><ellipse cx="120.1" cy="5.6" rx="2.05" ry="1.51"/><ellipse cx="133.2" cy="66.9" rx="1.83" ry="1.93"/><ellipse cx="135.9" cy="187.9" rx="0.98" ry="1.28"/><ellipse cx="70.6" cy="125.1" rx="2.04" ry="1.61"/><ellipse cx="22.4" cy="19.4" rx="1.50" ry="1.55"/><ellipse cx="41.6" cy="63.8" rx="1.06" ry="1.25"/><ellipse cx="52.7" cy="124.7" rx="1.42" ry="1.11"/><ellipse cx="28.6" cy="119.8" rx="1.36" ry="1.19"/><ellipse cx="216" cy="82.6" rx="1.87" ry="1.76"/><ellipse cx="88.4" cy="182.7" rx="1.90" ry="1.58"/><ellipse cx="152.6" cy="47.2" rx="1.36" ry="1.56"/><ellipse cx="107.1" cy="3.7" rx="1.58" ry="1.44"/><ellipse cx="113" cy="126.1" rx="1.27" ry="1.39"/><ellipse cx="196.6" cy="149.1" rx="1.51" ry="1.21"/><ellipse cx="11.7" cy="109.5" rx="1.40" ry="1.33"/><ellipse cx="69" cy="60.5" rx="1.15" ry="0.94"/><ellipse cx="189.6" cy="41.3" rx="1.56" ry="1.39"/><ellipse cx="119.1" cy="58.4" rx="1.77" ry="1.18"/><ellipse cx="189.9" cy="99.8" rx="1.34" ry="1.42"/><ellipse cx="164.7" cy="124.4" rx="1.65" ry="1.26"/><ellipse cx="67.5" cy="15.3" rx="1.51" ry="1.13"/><ellipse cx="36.5" cy="91.1" rx="1.19" ry="1.00"/><ellipse cx="77.3" cy="199.4" rx="1.65" ry="1.93"/><ellipse cx="93.7" cy="111.8" rx="1.43" ry="1.43"/><ellipse cx="69.7" cy="195.5" rx="1.82" ry="1.39"/><ellipse cx="123" cy="191.9" rx="1.97" ry="1.61"/><ellipse cx="26.1" cy="138.4" rx="1.79" ry="1.40"/><ellipse cx="162.9" cy="54.2" rx="1.53" ry="1.22"/><ellipse cx="210.7" cy="26.8" rx="1.35" ry="1.58"/><ellipse cx="25.3" cy="209.9" rx="1.66" ry="1.35"/><ellipse cx="149.5" cy="200.9" rx="1.50" ry="1.22"/><ellipse cx="142.9" cy="164.3" rx="1.39" ry="1.33"/><ellipse cx="37.3" cy="195.4" rx="1.56" ry="1.53"/><ellipse cx="66.8" cy="35.8" rx="1.02" ry="1.36"/><ellipse cx="207.4" cy="203.6" rx="1.63" ry="1.50"/><ellipse cx="44.9" cy="125.4" rx="1.77" ry="1.48"/><ellipse cx="127.7" cy="21.1" rx="2.02" ry="1.44"/><ellipse cx="131.4" cy="15.3" rx="1.68" ry="1.50"/><ellipse cx="35.4" cy="69.9" rx="1.04" ry="1.46"/><ellipse cx="8.6" cy="70.7" rx="1.40" ry="1.14"/><ellipse cx="32.4" cy="200.7" rx="1.70" ry="1.37"/><ellipse cx="82.2" cy="213.3" rx="1.12" ry="1.20"/><ellipse cx="52.1" cy="147" rx="1.42" ry="0.97"/><ellipse cx="217.7" cy="216.7" rx="1.16" ry="1.04"/><ellipse cx="-2.3" cy="216.7" rx="1.16" ry="1.04"/><ellipse cx="149.3" cy="217.5" rx="2.06" ry="1.76"/><ellipse cx="149.3" cy="-2.5" rx="2.06" ry="1.76"/><ellipse cx="57.9" cy="207.7" rx="1.64" ry="1.71"/><ellipse cx="176.8" cy="18.7" rx="1.66" ry="1.63"/><ellipse cx="114.8" cy="174.6" rx="1.25" ry="1.29"/><ellipse cx="152.8" cy="29.9" rx="1.40" ry="1.24"/><ellipse cx="37" cy="78.5" rx="2.13" ry="1.83"/><ellipse cx="118.6" cy="66.8" rx="1.79" ry="1.43"/><ellipse cx="81.7" cy="43" rx="1.48" ry="1.53"/></g><g fill="#75673f"><ellipse cx="30.5" cy="190.6" rx="1.80" ry="1.71"/><ellipse cx="197.6" cy="17.8" rx="1.56" ry="1.57"/><ellipse cx="121.9" cy="135.7" rx="1.44" ry="1.34"/><ellipse cx="9" cy="83.4" rx="1.22" ry="1.46"/><ellipse cx="129.9" cy="170.3" rx="1.54" ry="1.74"/><ellipse cx="92.8" cy="19.3" rx="1.03" ry="0.99"/><ellipse cx="61.9" cy="178.1" rx="1.80" ry="1.55"/><ellipse cx="127.3" cy="197" rx="1.44" ry="1.63"/><ellipse cx="127.6" cy="38" rx="1.47" ry="1.11"/><ellipse cx="134" cy="210.8" rx="1.16" ry="1.22"/><ellipse cx="133.4" cy="32.8" rx="1.76" ry="1.35"/><ellipse cx="219.6" cy="26.7" rx="1.96" ry="1.78"/><ellipse cx="-0.4" cy="26.7" rx="1.96" ry="1.78"/><ellipse cx="170.4" cy="19.1" rx="1.80" ry="1.47"/><ellipse cx="19.5" cy="138.5" rx="1.57" ry="1.45"/><ellipse cx="22.7" cy="172.5" rx="1.67" ry="1.58"/><ellipse cx="5.6" cy="171.8" rx="1.32" ry="1.60"/><ellipse cx="156.1" cy="54.6" rx="1.57" ry="1.65"/><ellipse cx="88.2" cy="82.1" rx="1.29" ry="1.46"/><ellipse cx="185.5" cy="57" rx="1.86" ry="1.53"/><ellipse cx="157.4" cy="169.8" rx="1.33" ry="1.47"/><ellipse cx="116.3" cy="38.1" rx="1.93" ry="1.33"/><ellipse cx="171.6" cy="48.9" rx="2.00" ry="1.47"/><ellipse cx="106.1" cy="208.2" rx="1.25" ry="1.41"/><ellipse cx="160.5" cy="137.5" rx="1.10" ry="1.36"/><ellipse cx="1.9" cy="209.9" rx="1.49" ry="1.46"/><ellipse cx="221.9" cy="209.9" rx="1.49" ry="1.46"/><ellipse cx="23.4" cy="76.7" rx="1.64" ry="1.42"/><ellipse cx="96.6" cy="207.7" rx="1.35" ry="1.11"/><ellipse cx="133.2" cy="48.6" rx="1.02" ry="1.11"/><ellipse cx="192.8" cy="202.4" rx="1.00" ry="1.06"/><ellipse cx="212.9" cy="20.8" rx="1.29" ry="1.15"/><ellipse cx="69.9" cy="54.4" rx="1.97" ry="1.43"/><ellipse cx="60.8" cy="101.6" rx="2.15" ry="1.52"/><ellipse cx="37.5" cy="119.7" rx="1.59" ry="1.99"/><ellipse cx="144.9" cy="30.3" rx="1.53" ry="1.17"/><ellipse cx="161.4" cy="46.5" rx="1.77" ry="1.24"/><ellipse cx="119.2" cy="73.8" rx="1.33" ry="1.46"/><ellipse cx="103.5" cy="190.7" rx="1.21" ry="1.56"/><ellipse cx="113.1" cy="21.8" rx="1.21" ry="1.35"/><ellipse cx="117.4" cy="15.7" rx="1.81" ry="1.71"/><ellipse cx="142.8" cy="87" rx="1.84" ry="1.49"/><ellipse cx="29.7" cy="151.8" rx="1.13" ry="0.95"/><ellipse cx="2.1" cy="150.5" rx="1.61" ry="1.65"/><ellipse cx="222.1" cy="150.5" rx="1.61" ry="1.65"/><ellipse cx="60" cy="31.6" rx="1.78" ry="1.31"/><ellipse cx="204.4" cy="5.8" rx="1.48" ry="1.08"/><ellipse cx="12.4" cy="187.9" rx="1.65" ry="1.49"/><ellipse cx="28.5" cy="65.5" rx="1.00" ry="1.25"/><ellipse cx="146.8" cy="115.1" rx="1.01" ry="0.98"/><ellipse cx="39.8" cy="186.6" rx="1.47" ry="1.14"/><ellipse cx="201.3" cy="121.6" rx="1.64" ry="1.61"/><ellipse cx="6.4" cy="163.2" rx="1.45" ry="1.50"/><ellipse cx="16.6" cy="155.3" rx="1.40" ry="1.27"/><ellipse cx="99.5" cy="14.3" rx="1.47" ry="1.37"/><ellipse cx="142.6" cy="175.7" rx="1.56" ry="1.25"/><ellipse cx="85.8" cy="207.9" rx="1.58" ry="1.42"/><ellipse cx="195.7" cy="43.6" rx="1.45" ry="1.57"/><ellipse cx="149.8" cy="170.1" rx="1.08" ry="1.18"/><ellipse cx="139.6" cy="104.9" rx="1.98" ry="1.47"/><ellipse cx="206.7" cy="127.1" rx="1.30" ry="1.16"/><ellipse cx="112.4" cy="97.2" rx="1.74" ry="1.41"/><ellipse cx="200" cy="211.3" rx="1.23" ry="1.28"/><ellipse cx="99.3" cy="179.2" rx="1.42" ry="1.24"/><ellipse cx="167.1" cy="179.3" rx="1.02" ry="1.17"/><ellipse cx="59.3" cy="54" rx="1.44" ry="1.94"/><ellipse cx="110" cy="132" rx="1.44" ry="1.14"/><ellipse cx="39.8" cy="15.8" rx="1.93" ry="1.80"/><ellipse cx="157.2" cy="151.8" rx="1.43" ry="1.57"/><ellipse cx="124.8" cy="142" rx="1.35" ry="1.01"/><ellipse cx="186.1" cy="207.7" rx="1.22" ry="1.27"/><ellipse cx="187.1" cy="156.9" rx="2.06" ry="1.35"/><ellipse cx="45.1" cy="20.7" rx="1.35" ry="1.56"/><ellipse cx="219.3" cy="97.4" rx="2.08" ry="1.91"/><ellipse cx="-0.7" cy="97.4" rx="2.08" ry="1.91"/><ellipse cx="93.5" cy="163.7" rx="1.31" ry="1.23"/><ellipse cx="141" cy="182.5" rx="1.31" ry="1.58"/><ellipse cx="159.3" cy="130" rx="1.35" ry="1.08"/><ellipse cx="78.5" cy="122" rx="1.09" ry="1.20"/><ellipse cx="26.8" cy="84" rx="1.10" ry="1.02"/><ellipse cx="193" cy="25.2" rx="1.25" ry="1.38"/><ellipse cx="63.7" cy="93.4" rx="2.07" ry="1.38"/><ellipse cx="173.4" cy="171.6" rx="1.77" ry="1.27"/><ellipse cx="61.7" cy="190.2" rx="1.52" ry="1.77"/><ellipse cx="182.1" cy="102.4" rx="1.05" ry="1.03"/><ellipse cx="184.8" cy="69.5" rx="1.17" ry="1.58"/><ellipse cx="3.9" cy="132.6" rx="1.44" ry="1.31"/><ellipse cx="188.5" cy="16.4" rx="1.14" ry="1.09"/><ellipse cx="155.2" cy="142.5" rx="1.73" ry="1.78"/><ellipse cx="59.7" cy="117.3" rx="0.91" ry="1.24"/><ellipse cx="154.7" cy="192.5" rx="1.42" ry="1.21"/><ellipse cx="201.3" cy="184.2" rx="1.75" ry="1.64"/><ellipse cx="65.5" cy="143.5" rx="1.29" ry="1.20"/><ellipse cx="192.1" cy="1.8" rx="1.43" ry="1.38"/><ellipse cx="192.1" cy="221.8" rx="1.43" ry="1.38"/><ellipse cx="60.5" cy="7.6" rx="1.44" ry="1.22"/><ellipse cx="213.1" cy="128.4" rx="1.41" ry="1.45"/><ellipse cx="187.9" cy="130.9" rx="1.78" ry="1.51"/><ellipse cx="42.8" cy="111.1" rx="1.08" ry="1.25"/><ellipse cx="205.2" cy="98.9" rx="1.16" ry="1.54"/><ellipse cx="92.4" cy="202.1" rx="1.16" ry="1.00"/><ellipse cx="92.3" cy="140.7" rx="1.22" ry="1.26"/><ellipse cx="178.9" cy="199.1" rx="2.12" ry="1.68"/><ellipse cx="175.7" cy="40.8" rx="1.64" ry="1.38"/><ellipse cx="27.9" cy="12.2" rx="1.33" ry="1.16"/><ellipse cx="147.5" cy="98.3" rx="1.06" ry="1.30"/><ellipse cx="12.8" cy="167.6" rx="1.91" ry="1.52"/><ellipse cx="198.7" cy="52.4" rx="1.54" ry="1.60"/><ellipse cx="6.5" cy="138.1" rx="1.12" ry="1.38"/><ellipse cx="18.6" cy="48.6" rx="1.71" ry="1.58"/><ellipse cx="205" cy="177" rx="1.60" ry="1.26"/><ellipse cx="186.1" cy="107.1" rx="1.51" ry="1.36"/><ellipse cx="157.6" cy="105.9" rx="1.95" ry="1.61"/><ellipse cx="65.8" cy="44.8" rx="1.28" ry="1.19"/><ellipse cx="161.1" cy="146" rx="0.95" ry="1.20"/><ellipse cx="195.2" cy="83.9" rx="1.75" ry="1.43"/><ellipse cx="34.9" cy="156.2" rx="1.32" ry="1.20"/><ellipse cx="213.5" cy="145" rx="1.52" ry="1.07"/><ellipse cx="110.2" cy="217" rx="1.50" ry="1.24"/><ellipse cx="110.2" cy="-3" rx="1.50" ry="1.24"/><ellipse cx="59.3" cy="160" rx="1.40" ry="1.31"/><ellipse cx="121.8" cy="94.1" rx="1.43" ry="1.30"/><ellipse cx="138.6" cy="45.4" rx="1.55" ry="1.21"/><ellipse cx="115.6" cy="139.5" rx="1.53" ry="1.38"/><ellipse cx="87.9" cy="114" rx="1.18" ry="1.20"/><ellipse cx="101.8" cy="111.5" rx="1.61" ry="1.34"/><ellipse cx="89.7" cy="5.8" rx="2.10" ry="1.88"/><ellipse cx="27.2" cy="109.2" rx="1.19" ry="1.24"/><ellipse cx="113.3" cy="159.1" rx="1.79" ry="1.45"/><ellipse cx="218" cy="15.7" rx="1.59" ry="1.68"/><ellipse cx="-2" cy="15.7" rx="1.59" ry="1.68"/><ellipse cx="29" cy="100.4" rx="1.28" ry="1.27"/><ellipse cx="83.6" cy="97.4" rx="1.12" ry="1.22"/><ellipse cx="146.2" cy="211.8" rx="1.65" ry="1.43"/><ellipse cx="63.8" cy="130.7" rx="1.29" ry="1.53"/><ellipse cx="66.5" cy="78.8" rx="1.44" ry="1.21"/><ellipse cx="204.6" cy="66.9" rx="1.32" ry="1.27"/><ellipse cx="51.5" cy="116.7" rx="1.59" ry="1.54"/><ellipse cx="0" cy="3.1" rx="1.45" ry="1.36"/><ellipse cx="220" cy="3.1" rx="1.45" ry="1.36"/><ellipse cx="25.5" cy="4.4" rx="1.59" ry="1.92"/><ellipse cx="209" cy="0.9" rx="1.25" ry="1.29"/><ellipse cx="209" cy="220.9" rx="1.25" ry="1.29"/><ellipse cx="205.3" cy="109.1" rx="1.28" ry="1.43"/><ellipse cx="80.7" cy="130.2" rx="1.61" ry="1.73"/><ellipse cx="6.4" cy="25" rx="1.57" ry="1.57"/><ellipse cx="25.7" cy="159.3" rx="1.21" ry="1.35"/><ellipse cx="80" cy="154.3" rx="1.08" ry="0.93"/><ellipse cx="64.4" cy="165.4" rx="2.22" ry="1.66"/></g><g fill="#a2966c"><ellipse cx="101.9" cy="82.1" rx="1.80" ry="1.74"/><ellipse cx="159.5" cy="34.6" rx="1.65" ry="1.37"/><ellipse cx="52.4" cy="24.4" rx="1.40" ry="1.49"/><ellipse cx="148.3" cy="159.7" rx="1.08" ry="1.19"/><ellipse cx="58.7" cy="46.2" rx="1.46" ry="0.95"/><ellipse cx="5.2" cy="93.4" rx="1.36" ry="1.40"/><ellipse cx="199.4" cy="24.7" rx="1.81" ry="1.37"/><ellipse cx="52.1" cy="134.4" rx="1.52" ry="1.79"/><ellipse cx="128.5" cy="99.3" rx="1.44" ry="1.17"/><ellipse cx="126.4" cy="4" rx="1.64" ry="1.53"/><ellipse cx="175.9" cy="72.3" rx="1.59" ry="1.32"/><ellipse cx="95.4" cy="47" rx="1.44" ry="1.36"/><ellipse cx="97.7" cy="71.4" rx="1.60" ry="1.38"/><ellipse cx="50.8" cy="212.1" rx="1.77" ry="1.66"/><ellipse cx="189.2" cy="81.3" rx="2.09" ry="1.71"/><ellipse cx="11.1" cy="214.6" rx="1.57" ry="1.45"/><ellipse cx="38" cy="208.2" rx="1.28" ry="1.06"/><ellipse cx="45.9" cy="85.6" rx="1.45" ry="1.62"/><ellipse cx="78" cy="30.9" rx="1.93" ry="1.70"/><ellipse cx="123.6" cy="30.2" rx="1.19" ry="1.59"/><ellipse cx="21.8" cy="10.7" rx="2.16" ry="1.90"/><ellipse cx="117.8" cy="207.1" rx="1.31" ry="1.12"/><ellipse cx="107.8" cy="140.1" rx="1.52" ry="1.07"/><ellipse cx="50.8" cy="181.1" rx="1.49" ry="1.31"/><ellipse cx="103.5" cy="117.8" rx="1.43" ry="1.39"/><ellipse cx="24.3" cy="26.4" rx="1.23" ry="1.19"/><ellipse cx="206.4" cy="214.8" rx="1.20" ry="1.02"/><ellipse cx="176" cy="12.7" rx="1.58" ry="1.41"/><ellipse cx="96.8" cy="41" rx="1.98" ry="1.45"/><ellipse cx="41.5" cy="156.6" rx="1.46" ry="1.27"/><ellipse cx="137.6" cy="74.3" rx="1.08" ry="1.11"/><ellipse cx="4.2" cy="121.5" rx="1.66" ry="1.50"/><ellipse cx="71.2" cy="183.4" rx="1.86" ry="1.50"/><ellipse cx="157.7" cy="62.6" rx="1.01" ry="1.21"/><ellipse cx="181.3" cy="219" rx="1.57" ry="1.28"/><ellipse cx="181.3" cy="-1" rx="1.57" ry="1.28"/><ellipse cx="79" cy="59.4" rx="1.36" ry="1.23"/><ellipse cx="190.5" cy="149" rx="1.10" ry="1.27"/><ellipse cx="51.1" cy="72.8" rx="1.48" ry="1.42"/><ellipse cx="29.6" cy="46.4" rx="1.49" ry="1.43"/><ellipse cx="109.2" cy="13.4" rx="1.67" ry="1.76"/><ellipse cx="177.8" cy="87.7" rx="1.62" ry="1.51"/><ellipse cx="213.2" cy="41" rx="1.30" ry="1.29"/><ellipse cx="212.2" cy="9.2" rx="1.60" ry="1.44"/><ellipse cx="127.8" cy="185.9" rx="1.36" ry="0.99"/><ellipse cx="46.2" cy="10.3" rx="1.42" ry="1.36"/><ellipse cx="111.8" cy="186.1" rx="1.70" ry="1.51"/><ellipse cx="80.1" cy="145.7" rx="1.38" ry="1.40"/><ellipse cx="117.2" cy="164.5" rx="1.46" ry="1.59"/><ellipse cx="214.2" cy="210.5" rx="1.01" ry="1.33"/><ellipse cx="141.7" cy="69.1" rx="1.53" ry="1.71"/><ellipse cx="19.5" cy="89.7" rx="1.05" ry="1.25"/><ellipse cx="171.2" cy="159.3" rx="1.09" ry="1.15"/><ellipse cx="1.5" cy="192.1" rx="2.14" ry="1.74"/><ellipse cx="221.5" cy="192.1" rx="2.14" ry="1.74"/><ellipse cx="82" cy="170" rx="1.16" ry="1.06"/><ellipse cx="56.3" cy="174.8" rx="1.49" ry="1.41"/><ellipse cx="133.9" cy="177.9" rx="1.30" ry="1.36"/><ellipse cx="190.6" cy="63.2" rx="1.36" ry="1.53"/><ellipse cx="49" cy="155.8" rx="1.90" ry="1.33"/><ellipse cx="120.1" cy="179.2" rx="1.78" ry="1.31"/><ellipse cx="177.9" cy="78.8" rx="1.74" ry="1.40"/><ellipse cx="180.4" cy="26.9" rx="1.51" ry="1.70"/><ellipse cx="51.7" cy="18.2" rx="1.17" ry="1.37"/><ellipse cx="182.8" cy="40.7" rx="1.58" ry="1.35"/><ellipse cx="126.1" cy="60.4" rx="1.68" ry="1.54"/><ellipse cx="9" cy="152.9" rx="1.48" ry="1.85"/><ellipse cx="187.5" cy="168.3" rx="1.44" ry="1.07"/><ellipse cx="76.8" cy="16" rx="1.40" ry="1.39"/><ellipse cx="108.8" cy="43.3" rx="2.02" ry="1.80"/><ellipse cx="98.6" cy="103.6" rx="1.47" ry="1.48"/><ellipse cx="33.5" cy="15.4" rx="1.10" ry="1.36"/><ellipse cx="14.8" cy="206" rx="1.94" ry="1.41"/><ellipse cx="127.3" cy="205.8" rx="1.31" ry="1.39"/><ellipse cx="167.2" cy="145.7" rx="1.16" ry="1.15"/><ellipse cx="210.6" cy="67.7" rx="1.31" ry="1.49"/><ellipse cx="143.7" cy="140.2" rx="1.63" ry="1.31"/><ellipse cx="143.5" cy="79.6" rx="1.56" ry="1.10"/><ellipse cx="131.8" cy="162.5" rx="1.44" ry="1.58"/><ellipse cx="157.9" cy="0.5" rx="1.79" ry="1.81"/><ellipse cx="157.9" cy="220.5" rx="1.79" ry="1.81"/><ellipse cx="12" cy="52.1" rx="1.64" ry="1.49"/><ellipse cx="192.2" cy="209.6" rx="1.79" ry="1.32"/><ellipse cx="20" cy="220" rx="1.71" ry="1.47"/><ellipse cx="20" cy="-0" rx="1.71" ry="1.47"/><ellipse cx="109" cy="112.9" rx="1.48" ry="1.77"/><ellipse cx="170.2" cy="211" rx="1.41" ry="1.10"/><ellipse cx="170.2" cy="109.9" rx="1.81" ry="1.88"/><ellipse cx="102.3" cy="43.6" rx="1.21" ry="1.34"/><ellipse cx="176.1" cy="32.5" rx="2.11" ry="1.77"/><ellipse cx="7.2" cy="194.5" rx="1.82" ry="1.44"/><ellipse cx="127.7" cy="126.3" rx="1.36" ry="1.10"/><ellipse cx="96.2" cy="185.9" rx="1.79" ry="1.58"/><ellipse cx="139" cy="131.3" rx="1.79" ry="1.31"/><ellipse cx="137.9" cy="205" rx="1.11" ry="1.18"/><ellipse cx="199.2" cy="138.9" rx="1.37" ry="1.57"/><ellipse cx="219.8" cy="140.9" rx="2.13" ry="1.59"/><ellipse cx="-0.2" cy="140.9" rx="2.13" ry="1.59"/><ellipse cx="178" cy="133.8" rx="1.41" ry="1.28"/><ellipse cx="74.1" cy="144" rx="1.53" ry="1.26"/><ellipse cx="207.2" cy="32" rx="2.07" ry="1.75"/><ellipse cx="180.9" cy="186.2" rx="1.88" ry="1.73"/><ellipse cx="174.3" cy="146.8" rx="1.24" ry="0.94"/><ellipse cx="190.5" cy="52.9" rx="1.45" ry="1.24"/><ellipse cx="55" cy="11.2" rx="1.06" ry="1.08"/><ellipse cx="183.8" cy="141.2" rx="1.78" ry="1.55"/><ellipse cx="91.1" cy="173.9" rx="1.34" ry="1.35"/><ellipse cx="54.5" cy="39" rx="1.41" ry="1.03"/><ellipse cx="158.6" cy="202.4" rx="1.35" ry="1.44"/><ellipse cx="81" cy="23.2" rx="1.42" ry="1.22"/><ellipse cx="108.4" cy="80.3" rx="1.65" ry="1.62"/><ellipse cx="138.3" cy="14.4" rx="1.51" ry="1.14"/><ellipse cx="61.2" cy="212.8" rx="1.48" ry="1.24"/><ellipse cx="105" cy="105.7" rx="1.76" ry="1.85"/><ellipse cx="195.9" cy="177" rx="1.39" ry="1.01"/><ellipse cx="120.8" cy="171.1" rx="2.04" ry="1.62"/><ellipse cx="145.1" cy="12.8" rx="1.74" ry="1.70"/><ellipse cx="27.7" cy="180" rx="2.10" ry="1.80"/><ellipse cx="47.9" cy="62.4" rx="1.30" ry="1.16"/><ellipse cx="29" cy="127" rx="1.40" ry="1.54"/><ellipse cx="75.5" cy="68.6" rx="1.15" ry="1.32"/><ellipse cx="63.6" cy="67" rx="1.49" ry="1.06"/><ellipse cx="41.1" cy="146" rx="1.62" ry="1.79"/><ellipse cx="14.7" cy="161.9" rx="1.79" ry="1.40"/><ellipse cx="202" cy="196.8" rx="1.41" ry="1.24"/><ellipse cx="182.9" cy="50.5" rx="1.96" ry="1.32"/><ellipse cx="66.4" cy="114.3" rx="1.74" ry="1.38"/><ellipse cx="89.7" cy="106.8" rx="1.65" ry="1.41"/><ellipse cx="166.2" cy="5.2" rx="1.90" ry="1.85"/><ellipse cx="122" cy="51.5" rx="1.93" ry="1.83"/><ellipse cx="46.2" cy="149.8" rx="1.53" ry="1.14"/><ellipse cx="11.9" cy="97.6" rx="1.31" ry="1.49"/><ellipse cx="24.1" cy="38" rx="1.81" ry="1.60"/><ellipse cx="43.5" cy="162.9" rx="1.50" ry="1.41"/><ellipse cx="124.2" cy="107.3" rx="1.20" ry="1.08"/><ellipse cx="170.9" cy="123.3" rx="1.18" ry="1.22"/><ellipse cx="157.8" cy="40.5" rx="1.49" ry="1.97"/><ellipse cx="200.7" cy="58.5" rx="1.39" ry="1.88"/><ellipse cx="84.7" cy="66.1" rx="2.02" ry="1.54"/><ellipse cx="134.2" cy="143.8" rx="1.37" ry="1.17"/><ellipse cx="149.7" cy="3.5" rx="1.13" ry="1.20"/><ellipse cx="96.6" cy="149.2" rx="1.60" ry="1.64"/></g></pattern><filter id="soft" x="0" y="0" width="100%" height="100%"><feGaussianBlur stdDeviation="0.7"/></filter></defs>
<rect width="1920" height="1392" fill="#fff"/>
<g filter="url(#soft)">
<path d="M157,147.5L185,97.5C185.5,97.4 187.3,96.6 188,97C188.7,97.4 188.8,99.5 189,100C189.4,117 191,152 191.7,202C192.4,252 192.9,350.3 193,400C193.1,449.7 193.3,476.2 192,500C190.7,523.8 189.7,527.7 185,543C180.3,558.3 172.2,575.8 164,592C155.8,608.2 143.8,627.8 136,640C128.2,652.2 120.2,660.8 117,665C121.3,656.3 136.4,630.5 143,613C149.6,595.5 153.6,578.8 156.7,560C159.8,541.2 161,526.7 161.5,500C162,473.3 159.9,434.7 159.5,400C159.1,365.3 159.4,334.1 159,292C158.6,249.9 157.3,171.6 157,147.5Z" fill="url(#ptan)" stroke="#1d1714" stroke-width="2.7"/>
<path d="M24,142.5L60,98.5C60.3,98.2 61.2,96.9 62,96.5C62.8,96.1 64.5,96.1 65,96L183,96C183.7,96.1 186.1,96 187,96.5C187.9,97 188.2,98.6 188.5,99L157,147.5C149.2,147.8 125.5,149.1 110,149C94.5,148.9 71.7,147.3 64,147C60.7,146.8 50.7,146.8 44,146C37.3,145.2 27.3,143.1 24,142.5Z" fill="url(#ptan)" stroke="#1d1714" stroke-width="2.7"/>
<path d="M100,96.5L64,147" fill="none" stroke="#1d1714" stroke-width="2.7"/>
<path d="M24,142.5C27.3,143.1 37.3,145.2 44,146C50.7,146.8 60.7,146.8 64,147L65.2,273C61.3,268 48,253.5 42,243C36,232.5 31.8,221 29,210C26.2,199 25.8,188.2 25,177C24.2,165.8 24.2,148.2 24,142.5Z" fill="url(#ptan)" stroke="#1d1714" stroke-width="2.7"/>
<path d="M64,147C71.7,147.3 94.5,148.9 110,149C125.5,149.1 149.2,147.8 157,147.5C157.3,171.6 158.6,249.9 159,292C159.4,334.1 159.1,365.3 159.5,400C159.9,434.7 162,473.3 161.5,500C161,526.7 159.8,541.2 156.7,560C153.6,578.8 149.6,595.5 143,613C136.4,630.5 121.3,656.3 117,665C114.2,660.8 105.7,649.7 100,640C94.3,630.3 87.7,618.7 83,607C78.3,595.3 74.5,582.3 72,570C69.5,557.7 69.2,561.3 68.3,533C67.4,504.7 67.1,440.2 66.7,400C66.3,359.8 66.5,334.2 66,292C65.5,249.8 64.3,171.2 64,147Z" fill="url(#ptan)" stroke="#1d1714" stroke-width="2.7"/>
<path d="M50,117.7L175,121" fill="none" stroke="#4a3b30" stroke-width="2.3" stroke-dasharray="10 5" stroke-linecap="butt"/>
<path d="M176,122C176.1,151.7 176.4,237 176.5,300C176.6,363 177.6,456.7 176.7,500C175.8,543.3 173.8,543.7 171,560C168.2,576.3 163.5,588.3 160,598C156.5,607.7 151.7,614.7 150,618" fill="none" stroke="#4a3b30" stroke-width="2.3" stroke-dasharray="10 5" stroke-linecap="butt"/>
<path d="M361.7,172L401.5,97C401.8,96.8 402.9,95.2 403.5,95.5C404.1,95.8 404.8,98.4 405,99L408,230C407.3,258.3 405.2,362.5 404,400C402.8,437.5 401.9,437.5 401,455C400.1,472.5 400.2,492.5 398.8,505C397.3,517.5 396,521.2 392.5,530C389,538.8 383.2,547 377.5,557.5C371.8,568 361.7,587.1 358.5,593C359.6,580.3 363.8,548.3 365,517C366.2,485.7 365.7,444.5 365.5,405C365.3,365.5 364.4,318.8 363.8,280C363.1,241.2 362,190 361.7,172Z" fill="url(#pgrey)" stroke="#1d1714" stroke-width="2.7"/>
<path d="M216.7,172L263,102C263.8,101.1 265.8,97.6 268,96.5C270.2,95.4 274.7,95.7 276,95.5L403,95L361.7,172Z" fill="url(#pgrey)" stroke="#1d1714" stroke-width="2.7"/>
<path d="M310,96L260,172" fill="none" stroke="#1d1714" stroke-width="2.7"/>
<path d="M325,231L361.7,172C362,190 363.1,241.2 363.8,280C364.4,318.8 365.3,365.5 365.5,405C365.7,444.5 366.2,485.7 365,517C363.8,548.3 363.8,570.8 358.5,593C353.2,615.2 342.8,629.3 333,650C323.2,670.7 310,700 300,717C290,734 277.5,746.2 273,752C276.3,746.2 286.3,734 293,717C299.7,700 308,672.3 313,650C318,627.7 320.5,608 323,583C325.5,558 327.2,518.8 328,500C328.8,481.2 328.2,486.7 327.7,470C327.2,453.3 325.6,431.7 325,400C324.4,368.3 323.8,308.2 323.8,280C323.8,251.8 324.8,239.2 325,231Z" fill="url(#ptan)" stroke="#1d1714" stroke-width="2.7"/>
<path d="M184,216L216.7,172L361.7,172L325,231L226.7,228.5L225,224C221.7,223.5 211.8,222.3 205,221C198.2,219.7 187.5,216.8 184,216Z" fill="url(#ptan)" stroke="#1d1714" stroke-width="2.7"/>
<path d="M260,172L226.7,228.5" fill="none" stroke="#1d1714" stroke-width="2.7"/>
<path d="M184,216C187.5,216.8 198.2,219.7 205,221C211.8,222.3 221.7,223.5 225,224L226.7,228.5L227,390C224.2,386.7 215.8,378.8 210,370C204.2,361.2 196.3,352.5 192.5,337.5C188.7,322.5 188.4,300.2 187,280C185.6,259.8 184.5,226.7 184,216Z" fill="url(#ptan)" stroke="#1d1714" stroke-width="2.7"/>
<path d="M226.7,228.5L325,231C324.8,239.2 323.8,251.8 323.8,280C323.8,308.2 324.4,368.3 325,400C325.6,431.7 327.2,453.3 327.7,470C328.2,486.7 328.8,481.2 328,500C327.2,518.8 325.5,558 323,583C320.5,608 318,627.7 313,650C308,672.3 299.7,700 293,717C286.3,734 276.3,746.2 273,752C268.6,743.3 253.9,717 246.7,700C239.5,683 233.6,666.7 230,650C226.4,633.3 225.7,624.2 225,600C224.3,575.8 225.7,538.3 226,505C226.3,471.7 226.4,437.5 226.7,400C226.9,362.5 227.5,308.6 227.5,280C227.5,251.4 226.8,237.1 226.7,228.5Z" fill="url(#ptan)" stroke="#1d1714" stroke-width="2.7"/>
<path d="M246.7,197.5L343,198.5" fill="none" stroke="#4a3b30" stroke-width="2.3" stroke-dasharray="10 5" stroke-linecap="butt"/>
<path d="M344.5,200C344.4,213.3 343.7,246.7 343.8,280C343.8,313.3 344.8,357.8 345,400C345.2,442.2 345.8,499.7 345,533C344.2,566.3 342,583.3 340,600C338,616.7 334.2,627.5 333,633" fill="none" stroke="#4a3b30" stroke-width="2.3" stroke-dasharray="10 5" stroke-linecap="butt"/>
<path d="M555.8,238.3L591.7,178.3L634,96C634.4,96 635.9,95.3 636.5,96C637.1,96.7 637.3,99.3 637.5,100L638,400C636.7,420 636.3,485.5 630,520C623.7,554.5 610.8,580.3 600,607C589.2,633.7 573.8,663.2 565,680C556.2,696.8 550.4,702.9 547.5,707.5C548.3,699.6 551.5,684.6 552.5,660C553.5,635.4 553.1,618 553.5,560C553.9,502 554.6,365.6 555,312C555.4,258.4 555.7,250.6 555.8,238.3Z" fill="url(#pgrey)" stroke="#1d1714" stroke-width="2.7"/>
<path d="M591.7,178.3C592.2,200.6 594.8,258.4 595,312C595.2,365.6 593.8,457 593,500C592.2,543 591.2,551.7 590,570C588.8,588.3 587.7,599.2 586,610C584.3,620.8 583.5,624.6 580,635C576.5,645.4 570.4,660.4 565,672.5C559.6,684.6 550.4,701.7 547.5,707.5" fill="none" stroke="#1d1714" stroke-width="2.7"/>
<path d="M408.3,231.7L493,104C493.8,102.8 495.8,98.2 498,96.5C500.2,94.8 504.7,94.4 506,94L632,93.3C632.7,93.4 635.2,93.4 636,94C636.8,94.6 636.4,96.5 636.5,97L591.7,178.3L555.8,238.3Z" fill="url(#pgrey)" stroke="#1d1714" stroke-width="2.7"/>
<path d="M541.7,95L490,176L453,236" fill="none" stroke="#1d1714" stroke-width="2.7"/>
<path d="M490,176L591.7,178.3" fill="none" stroke="#1d1714" stroke-width="2.7"/>
<path d="M547,98L626,98C626.6,98.1 629.1,97.8 629.5,98.5C629.9,99.2 628.7,101.4 628.5,102L590.5,170.5C590.2,171 589.4,173 588.5,173.5C587.6,174 585.6,173.5 585,173.5L503,171.2C502.4,171.1 499.8,171.1 499.5,170.5C499.2,169.9 500.8,168 501,167.5L543.5,100C543.8,99.7 544.4,98.6 545,98.3C545.6,98 546.7,98 547,98Z" fill="none" stroke="#1d1714" stroke-width="1.8"/>
<path d="M516.7,300L555.8,238.3C555.7,250.6 555.4,258.4 555,312C554.6,365.6 553.9,502 553.5,560C553.1,618 553.8,635 552.5,660C551.2,685 550.2,693.3 546,710C541.8,726.7 535.6,742.1 527.5,760C519.4,777.9 507.3,802.5 497.5,817.5C487.7,832.5 473.5,844.6 468.8,850C472.7,843.3 485.6,825 492.5,810C499.4,795 505.8,780.8 510,760C514.2,739.2 516.2,718.3 517.5,685C518.8,651.7 517.6,624.2 517.5,560C517.4,495.8 516.8,343.3 516.7,300Z" fill="url(#ptan)" stroke="#1d1714" stroke-width="2.7"/>
<path d="M376.7,286.7L408.3,231.7L555.8,238.3L516.7,300C508.1,299.8 481.8,299.8 465,298.5C448.2,297.2 424,293.5 415.8,292.5C412.7,292.3 403.5,292.5 397,291.5C390.5,290.5 380.1,287.5 376.7,286.7Z" fill="url(#ptan)" stroke="#1d1714" stroke-width="2.7"/>
<path d="M453,236L415.8,292.5" fill="none" stroke="#1d1714" stroke-width="2.7"/>
<path d="M376.7,286.7C380.1,287.5 390.5,290.5 397,291.5C403.5,292.5 412.7,292.3 415.8,292.5L417.5,473C413.3,465.8 398.8,445.5 392.5,430C386.2,414.5 382.5,398.3 380,380C377.5,361.7 377.9,335.6 377.3,320C376.8,304.4 376.8,292.2 376.7,286.7Z" fill="url(#ptan)" stroke="#1d1714" stroke-width="2.7"/>
<path d="M415.8,292.5C424,293.5 448.2,297.2 465,298.5C481.8,299.8 508.1,299.8 516.7,300C516.8,343.3 517.4,495.8 517.5,560C517.6,624.2 518.8,651.7 517.5,685C516.2,718.3 514.2,739.2 510,760C505.8,780.8 499.4,795 492.5,810C485.6,825 472.7,843.3 468.8,850C464.8,844.2 452.3,830 445,815C437.7,800 429.6,781.7 425,760C420.4,738.3 418.8,718.3 417.5,685C416.2,651.7 417.8,625.4 417.5,560C417.2,494.6 416.1,337.1 415.8,292.5Z" fill="url(#ptan)" stroke="#1d1714" stroke-width="2.7"/>
<path d="M395.8,257.5L536.7,265.8" fill="none" stroke="#4a3b30" stroke-width="2.3" stroke-dasharray="10 5" stroke-linecap="butt"/>
<path d="M535.5,268C535.2,290 534.3,351.3 534,400C533.7,448.7 533.8,514.6 533.8,560C533.7,605.4 535.2,641.2 533.8,672.5C532.3,703.8 527.5,730.8 525,747.5C522.5,764.2 519.8,768.3 518.8,772.5" fill="none" stroke="#4a3b30" stroke-width="2.3" stroke-dasharray="10 5" stroke-linecap="butt"/>
<path d="M815.6,180.3L862,95.5C862.3,95.6 863.6,95.2 864,96C864.4,96.8 864.5,99.3 864.6,100L865.3,243L866,420L822,420L821.9,329.4Z" fill="#d3cbcc" stroke="#1d1714" stroke-width="2.7"/>
<path d="M781.9,241.2L815.6,180.3C816.2,193.6 818,235.2 819,260C820,284.9 821.4,302.7 821.9,329.4C822.4,356.1 822,404.9 822,420L786,420L785.6,384Z" fill="url(#pgrey)" stroke="#1d1714" stroke-width="2.7"/>
<ellipse cx="846.7" cy="147.2" rx="10" ry="1.6" transform="rotate(-60 846.7 147.2)" fill="#706869" stroke="#706869" stroke-width="1.0"/>
<ellipse cx="844.4" cy="165" rx="9" ry="1.6" transform="rotate(-60 844.4 165)" fill="#706869" stroke="#706869" stroke-width="1.0"/>
<ellipse cx="855.9" cy="162.8" rx="5" ry="1.6" transform="rotate(-60 855.9 162.8)" fill="#706869" stroke="#706869" stroke-width="1.0"/>
<ellipse cx="853.6" cy="185.7" rx="8.5" ry="1.6" transform="rotate(-60 853.6 185.7)" fill="#706869" stroke="#706869" stroke-width="1.0"/>
<ellipse cx="822.5" cy="195" rx="6" ry="1.6" transform="rotate(-60 822.5 195)" fill="#706869" stroke="#706869" stroke-width="1.0"/>
<ellipse cx="823.7" cy="207.6" rx="4.5" ry="1.6" transform="rotate(-60 823.7 207.6)" fill="#706869" stroke="#706869" stroke-width="1.0"/>
<ellipse cx="843.2" cy="226" rx="12" ry="2.7" transform="rotate(-60 843.2 226)" fill="#bfb7b8" stroke="#635c5d" stroke-width="1.8"/>
<ellipse cx="826.5" cy="258" rx="7" ry="1.6" transform="rotate(-60 826.5 258)" fill="#706869" stroke="#706869" stroke-width="1.0"/>
<ellipse cx="843.4" cy="256" rx="8" ry="2.7" transform="rotate(-60 843.4 256)" fill="#bfb7b8" stroke="#635c5d" stroke-width="1.8"/>
<ellipse cx="830.3" cy="295.6" rx="7" ry="1.6" transform="rotate(-60 830.3 295.6)" fill="#706869" stroke="#706869" stroke-width="1.0"/>
<path d="M821.3,309C819.2,312.7 813,324.1 809,331C805,337.9 801,344.7 797.5,350.7C794,356.7 789.3,364.1 787.7,366.8" fill="none" stroke="#1d1714" stroke-width="2.0"/>
<path d="M642.2,234.7C645.2,228.2 652,210.8 660,196C668,181.2 680.7,160.9 690,145.6C699.3,130.3 710.7,112.5 716,104.4C721.3,96.3 719.8,98.8 722,97C724.2,95.2 727.8,94.3 729,93.8L858.8,92.8C859.5,92.9 862.1,92.6 863,93.5C863.9,94.4 864.1,97.2 864.3,98L815.6,180.3L781.9,241.2Z" fill="url(#pgrey)" stroke="#1d1714" stroke-width="2.7"/>
<path d="M771,94L858.8,92.9L864,97.5L815.6,180.3L722.8,177.5Z" fill="#d3cbcc"/>
<path d="M771,94L722.8,177C720.5,181.2 714.2,192.1 708.8,202C703.3,211.9 693.1,230.8 690,236.6" fill="none" stroke="#1d1714" stroke-width="2.7"/>
<path d="M722.8,177.5L815.6,180.3" fill="none" stroke="#1d1714" stroke-width="2.7"/>
<path d="M782,98.8L846,98.8C846.8,98.9 849.9,98.6 850.5,99.5C851.1,100.4 849.7,103.2 849.5,104L816.5,168.5C816.1,169.1 815.1,171.4 814,172C812.9,172.6 810.7,172.2 810,172.2L738,170C737.2,169.8 733.9,169.9 733.5,169C733.1,168.1 735.2,165.2 735.5,164.5L777,101C777.3,100.7 778.2,99.4 779,99C779.8,98.6 781.5,98.8 782,98.8Z" fill="#d3cbcc" stroke="#1d1714" stroke-width="2.0"/>
<ellipse cx="806.9" cy="108" rx="14" ry="3" transform="rotate(2 806.9 108)" fill="#d9d2d3" stroke="#6b6465" stroke-width="1.8"/>
<ellipse cx="823.8" cy="115.6" rx="12" ry="3" transform="rotate(2 823.8 115.6)" fill="#d9d2d3" stroke="#6b6465" stroke-width="1.8"/>
<ellipse cx="776.9" cy="164.8" rx="7" ry="3" transform="rotate(2 776.9 164.8)" fill="#d9d2d3" stroke="#6b6465" stroke-width="1.8"/>
<ellipse cx="807.8" cy="162.5" rx="11" ry="3" transform="rotate(2 807.8 162.5)" fill="#d9d2d3" stroke="#6b6465" stroke-width="1.8"/>
<path d="M747.2,304L781.9,241.2C782.2,254.4 782.9,296.2 783.5,320C784.1,343.8 785.2,354 785.6,384C786,414 786.4,447.3 786,500C785.6,552.7 784.3,647.5 783,700C781.7,752.5 781.4,790.4 778,815C774.6,839.6 766.9,840.3 762.5,847.5C758.1,854.7 753.5,856.2 751.7,858C751.8,831.7 752,773 752,700C752,627 752.4,482.3 751.9,420C751.4,357.7 749.8,345.3 749,326C748.2,306.7 747.5,307.7 747.2,304Z" fill="url(#ptan)" stroke="#1d1714" stroke-width="2.7"/>
<path d="M766,271C766.1,293.8 766.8,336.5 766.9,408C767,479.5 766.6,627 766.5,700C766.4,773 766.1,821.7 766,846" fill="none" stroke="#4a3b30" stroke-width="2.3" stroke-dasharray="10 5" stroke-linecap="butt"/>
<path d="M606.6,290L642.2,234.7L690,236.6L781.9,241.2L747.2,304L654.4,298.4L652.5,292.8Z" fill="url(#ptan)" stroke="#1d1714" stroke-width="2.7"/>
<path d="M690,236.6C686.8,241.6 676.9,256.6 671,266.5C665.1,276.4 657.2,291.1 654.4,296" fill="none" stroke="#1d1714" stroke-width="2.7"/>
<path d="M625.3,261L765,269.4" fill="none" stroke="#4a3b30" stroke-width="2.3" stroke-dasharray="10 5" stroke-linecap="butt"/>
<path d="M600,374L747.2,303.8C747.5,307.5 748.2,306.6 749,326C749.8,345.4 751.4,357.7 751.9,420C752.4,482.3 751.9,626.7 752,700C752.1,773.3 752.4,833.3 752.5,860C750.4,864.2 743.8,877 740,885C736.2,893 733.7,901 730,908C726.3,915 723,921.7 718,927C713,932.3 706.3,936.8 700,940C693.7,943.2 687.5,945.7 680,946.5C672.5,947.3 662.2,946.4 655,945C647.8,943.6 642.2,942.2 636.7,938C631.2,933.8 625.6,926.9 622,920C618.4,913.1 616.2,900.6 615,896.7C613,882.8 605.8,843.6 603,813C600.2,782.4 598.8,754.7 598.5,713C598.2,671.3 600.8,619.5 601,563C601.2,506.5 600.2,405.5 600,374Z" fill="url(#pcream)" stroke="#1d1714" stroke-width="2.7"/>
<path d="M720,380.6C720.2,410.5 720.2,488.4 721,560C721.8,631.6 724.2,751.3 725,810C725.8,868.7 725.8,895 726,912" fill="none" stroke="#1d1714" stroke-width="2.7"/>
<path d="M561.6,363.8C562.1,365.1 561.2,370 564.4,372C567.6,374 575.4,375 581,375.5C586.6,376 595.2,375.1 598,375L600,374L600.7,568C596.4,559.6 581.2,536.3 575,517.5C568.8,498.7 566,474.6 563.8,455C561.5,435.4 562.2,415.2 561.8,400C561.4,384.8 561.6,369.8 561.6,363.8Z" fill="url(#pcream)" stroke="#1d1714" stroke-width="2.7"/>
<path d="M605.6,290.6L652.5,293.4L653.4,299.5C649.5,302.7 637,311.2 630,318.8C623,326.3 616.2,336.1 611.2,345C606.2,353.9 601.9,367.5 600,372C596.8,372.6 586.9,375.5 581,375.5C575.1,375.5 567.6,374.2 564.4,372C561.2,369.8 562.1,363.7 561.6,362C562.7,359.2 563.8,352.5 568,345C572.2,337.5 580.6,326 586.9,316.9C593.2,307.8 602.5,295 605.6,290.6Z" fill="url(#pcream)" stroke="#1d1714" stroke-width="2.7"/>
<path d="M653.4,300L747.2,303.8C746.9,307.5 747,317.9 745.3,326C743.6,334.1 741.1,343.7 736.9,352.5C732.7,361.3 726.9,371.9 720,378.8C713.1,385.6 705.3,390.2 695.6,393.8C685.9,397.3 673.8,399.7 661.9,400C650,400.3 634.1,398.5 624.4,395.6C614.7,392.7 607.9,386.3 603.8,382.5C599.6,378.7 600.2,374.6 599.5,373C601.5,368.3 606.2,354 611.2,345C616.3,336 623,326.3 630,318.8C637,311.2 649.5,302.7 653.4,299.5Z" fill="url(#pcream)" stroke="#1d1714" stroke-width="2.7"/>
<path d="M1048.8,178.4L1091.9,95C1092.2,95.2 1093.5,95.2 1094,96C1094.5,96.8 1094.6,99.3 1094.7,100L1095.6,235.6L1096,430L1053,430C1052.9,415.2 1052.9,371.2 1052.5,341C1052.1,310.8 1051.2,275.9 1050.6,248.8C1050,221.7 1049.1,190.1 1048.8,178.4Z" fill="#d3cbcc" stroke="#1d1714" stroke-width="2.7"/>
<path d="M1007.5,243L1048.8,178.4C1049.1,190.1 1050,221.7 1050.6,248.8C1051.2,275.9 1052.1,310.8 1052.5,341C1052.9,371.2 1052.9,415.2 1053,430L1000,500L963,600L962,890C961.3,881.7 958.9,908.3 958,840C957.1,771.7 956.9,551.2 956.5,480C956.1,408.8 956.1,435.5 955.6,412.5C955.1,389.5 954.1,353.9 953.8,342.2C955.2,341.3 957.9,340.9 962.5,336.9C967.1,332.9 975.3,325.5 981.2,318C987.2,310.5 993.9,300.3 998,291.9C1002.1,283.5 1004,275.6 1005.6,267.5C1007.2,259.4 1007.2,247.1 1007.5,243Z" fill="url(#pgrey)" stroke="#1d1714" stroke-width="2.7"/>
<path d="M1007.5,243C1007.9,247.1 1009.4,251.2 1010,267.5C1010.6,283.8 1011,322.2 1011,341C1011,359.8 1010.5,367.8 1010,380C1009.5,392.2 1008.3,408.7 1008,414.4" fill="none" stroke="#1d1714" stroke-width="2.7"/>
<path d="M1052.5,293C1050,296.7 1042.3,307.4 1037.7,315.4C1033.1,323.3 1029.5,331.9 1025,340.7C1020.5,349.5 1013.3,363.4 1011,368" fill="none" stroke="#1d1714" stroke-width="2.0"/>
<ellipse cx="1077.7" cy="146.7" rx="8.5" ry="1.6" transform="rotate(-60 1077.7 146.7)" fill="#706869" stroke="#706869" stroke-width="1.0"/>
<ellipse cx="1074" cy="162.8" rx="7.5" ry="1.6" transform="rotate(-60 1074 162.8)" fill="#706869" stroke="#706869" stroke-width="1.0"/>
<ellipse cx="1088" cy="159.3" rx="4" ry="1.6" transform="rotate(-60 1088 159.3)" fill="#706869" stroke="#706869" stroke-width="1.0"/>
<ellipse cx="1085.7" cy="180" rx="9" ry="1.6" transform="rotate(-60 1085.7 180)" fill="#706869" stroke="#706869" stroke-width="1.0"/>
<ellipse cx="1057" cy="190.3" rx="11" ry="1.6" transform="rotate(-60 1057 190.3)" fill="#706869" stroke="#706869" stroke-width="1.0"/>
<ellipse cx="1073" cy="216.8" rx="11" ry="2.7" transform="rotate(-60 1073 216.8)" fill="#bfb7b8" stroke="#635c5d" stroke-width="1.8"/>
<ellipse cx="1058" cy="243" rx="7" ry="1.6" transform="rotate(-60 1058 243)" fill="#706869" stroke="#706869" stroke-width="1.0"/>
<ellipse cx="1077" cy="245" rx="9" ry="2.7" transform="rotate(-60 1077 245)" fill="#bfb7b8" stroke="#635c5d" stroke-width="1.8"/>
<ellipse cx="1060" cy="284.4" rx="7" ry="1.6" transform="rotate(-60 1060 284.4)" fill="#706869" stroke="#706869" stroke-width="1.0"/>
<path d="M821.6,332.8L865,245L899.5,199C899.9,197.2 899.3,194.4 901.8,188C904.3,181.6 909,170.8 914.5,160.5C920,150.2 928.5,135.6 935,126C941.5,116.4 949.2,108.2 953.5,103C957.8,97.8 958.2,96.8 960.5,95C962.8,93.2 966.2,92.5 967.4,92L996,93.2L1001.5,96L1005,93.3L1089,93.2C1089.8,93.3 1092.6,93.2 1093.5,94C1094.4,94.8 1094.4,97.3 1094.6,98L1048.8,178.4L1007.5,243C1007.2,247.1 1007.2,259.4 1005.6,267.5C1004,275.6 1002.1,283.5 998,291.9C993.9,300.3 987.2,310.5 981.2,318C975.3,325.5 967.1,332.9 962.5,336.9C957.9,340.9 955.2,341.3 953.8,342.2L863.8,337.5Z" fill="url(#pgrey)" stroke="#1d1714" stroke-width="2.7"/>
<path d="M899.5,199C899.9,197.2 899.3,194.4 901.8,188C904.3,181.6 909,170.8 914.5,160.5C920,150.2 928.5,135.6 935,126C941.5,116.4 949.2,108.2 953.5,103C957.8,97.8 958.2,96.8 960.5,95C962.8,93.2 966.2,92.5 967.4,92L994,93.2C994.8,93.4 997.6,93.6 998.5,94.3C999.4,95 999.3,96.7 999.5,97.2C996.8,102 989,116.6 983.4,126C977.8,135.4 971.9,145 966,153.6C960.1,162.2 954.8,167.2 947.8,177.7C940.8,188.2 927.7,210.3 923.7,216.8Z" fill="#d3cbcc"/>
<path d="M1004.7,94.4L1089,93.2L1094,97L1050.5,178.3L1007.5,242.5L923,236.6C923.3,235.4 923.7,233.3 924.8,229.4C925.9,225.5 926.1,219.8 929.4,213.3C932.7,206.8 939.4,196.5 944.4,190.3C949.4,184.1 956.8,178.4 959.3,176Z" fill="#d3cbcc"/>
<path d="M994,93.2C994.8,93.4 997.6,93.6 998.5,94.3C999.4,95 999.3,96.7 999.5,97.2C996.8,102 989,116.6 983.4,126C977.8,135.4 971.9,145 966,153.6C960.1,162.2 954.8,167.2 947.8,177.7C940.8,188.2 927.7,210.3 923.7,216.8L899.5,199" fill="none" stroke="#1d1714" stroke-width="2.7"/>
<path d="M923.7,216.8L923,236.6" fill="none" stroke="#1d1714" stroke-width="2.7"/>
<path d="M1004.7,94.4L959.3,176C956.8,178.4 949.4,184.1 944.4,190.3C939.4,196.5 932.7,206.8 929.4,213.3C926.1,219.8 925.9,225.5 924.8,229.4C923.7,233.3 923.3,235.4 923,236.6" fill="none" stroke="#1d1714" stroke-width="2.7"/>
<path d="M972,99L985,100C985.7,100.1 988.5,99.9 989,100.6C989.5,101.3 988.4,103.4 988.3,104C985.6,108.6 978.5,120.7 972,131.7C965.5,142.6 956.8,157.7 949,169.7C941.2,181.7 929.4,197.9 925.5,203.5C925.2,203.9 924.3,205.9 923.5,206C922.7,206.1 921,204.3 920.5,204L908.5,195C908.2,194.6 906.2,194.4 906.5,192.5C906.8,190.6 907.1,189.5 910,183.4C912.9,177.3 918,165.8 923.7,155.9C929.4,146 937.9,132.5 944.4,123.7C950.9,114.9 958.2,107.1 962.8,103C967.4,98.9 970.5,99.7 972,99Z" fill="url(#pgrey)" stroke="#1d1714" stroke-width="2.0"/>
<path d="M1011.5,100.7L1078.5,100.7C1079.2,100.8 1082.4,100.5 1083,101.3C1083.6,102.1 1082.2,104.8 1082,105.5L1050.5,165C1050.1,165.6 1049.2,167.9 1048,168.5C1046.8,169.1 1044.2,168.6 1043.5,168.6L975,168.5C974.2,168.3 970.5,168.4 970,167.5C969.5,166.6 971.7,163.8 972,163L1006.5,103C1006.8,102.7 1007.7,101.4 1008.5,101C1009.3,100.6 1011,100.8 1011.5,100.7Z" fill="#d3cbcc" stroke="#1d1714" stroke-width="2.0"/>
<ellipse cx="1039.8" cy="107.6" rx="15" ry="3" transform="rotate(2 1039.8 107.6)" fill="#d9d2d3" stroke="#6b6465" stroke-width="1.8"/>
<ellipse cx="1053.6" cy="115.6" rx="13.5" ry="3" transform="rotate(2 1053.6 115.6)" fill="#d9d2d3" stroke="#6b6465" stroke-width="1.8"/>
<ellipse cx="1010.5" cy="164" rx="8" ry="2.6" transform="rotate(2 1010.5 164)" fill="#9a9293" stroke="#6b6465" stroke-width="1.8"/>
<ellipse cx="1039.8" cy="163.3" rx="11" ry="2.8" transform="rotate(2 1039.8 163.3)" fill="#d9d2d3" stroke="#6b6465" stroke-width="1.8"/>
<path d="M959.3,176L1050.5,178.3" fill="none" stroke="#1d1714" stroke-width="2.7"/>
<path d="M964,184L1030,185.2C1030.9,185.3 1034.8,185.1 1035.5,186C1036.2,186.9 1034.2,189.8 1034,190.5L1009,229.5C1008.5,230.1 1007.3,232.4 1006,233C1004.7,233.6 1001.8,233 1001,233L938,230.7C936.9,230.5 932.7,230.4 931.5,229.5C930.3,228.6 930,227.9 930.6,225C931.2,222.1 932.5,217 935.2,212C937.9,207 942.9,199.4 946.7,195C950.5,190.6 955.1,187.3 958,185.5C960.9,183.7 963,184.2 964,184Z" fill="url(#pgrey)" stroke="#1d1714" stroke-width="2.0"/>
<path d="M923,236.6L1007.5,242.5" fill="none" stroke="#1d1714" stroke-width="2.7"/>
<path d="M923,236.6C919.6,240.5 909.4,250.8 902.5,260C895.6,269.2 887.2,281.9 881.9,291.9C876.6,301.9 873.6,312.4 870.6,320C867.6,327.6 864.9,334.6 863.8,337.5" fill="none" stroke="#1d1714" stroke-width="2.7"/>
<path d="M1048.8,178.4L1007.5,243" fill="none" stroke="#1d1714" stroke-width="2.7"/>
<path d="M924.7,397.5L953.8,342.2C954.1,353.9 955.1,389.5 955.6,412.5C956.1,435.5 956.1,408.8 956.5,480C956.9,551.2 957.1,771.7 958,840C958.9,908.3 961.1,881.7 961.7,890C959.2,895.5 952,912.5 946.7,923C941.4,933.5 932.8,948 930,953C929.7,934.2 928.7,908.2 928,840C927.3,771.8 926.1,617.5 925.6,543.8C925.1,470 924.9,421.9 924.7,397.5Z" fill="url(#ptan)" stroke="#1d1714" stroke-width="2.7"/>
<path d="M940.2,367C940.2,430.3 939.8,667.9 940,746.7C940.2,825.5 941.2,809.5 941.7,840C942.2,870.5 942.8,915 943,930" fill="none" stroke="#4a3b30" stroke-width="2.3" stroke-dasharray="10 5" stroke-linecap="butt"/>
<path d="M790.6,387.2L821.6,332.8L863.8,337.5L953.8,342.2L924.7,397.5L833.8,391.9Z" fill="url(#ptan)" stroke="#1d1714" stroke-width="2.7"/>
<path d="M863.8,337.5L833.8,391.9" fill="none" stroke="#1d1714" stroke-width="2.7"/>
<path d="M850.6,361.9L942.5,365.6" fill="none" stroke="#4a3b30" stroke-width="2.3" stroke-dasharray="10 5" stroke-linecap="butt"/>
<path d="M770,489L924.7,398C924.9,422.3 925.1,470.1 925.6,543.8C926.1,617.4 927.3,771.8 928,840C928.7,908.2 929.7,934.2 930,953C927.2,958 918,973.5 913,983C908,992.5 904.4,1002.7 900,1010C895.6,1017.3 893.9,1022 886.7,1026.7C879.5,1031.4 866.7,1035.8 856.7,1038C846.7,1040.2 836.2,1040.8 826.7,1040C817.2,1039.2 807.3,1036.3 800,1033C792.7,1029.7 786.6,1024.8 783,1020C779.4,1015.2 779.1,1006.7 778.3,1004C778,976.7 777.6,897 776.7,840C775.8,783 774.1,720.2 773,661.7C771.9,603.2 770.5,517.8 770,489Z" fill="url(#pcream)" stroke="#1d1714" stroke-width="2.7"/>
<path d="M899.4,473.4C899.5,488 899.7,499.9 900.3,561C900.9,622.1 901.9,768.5 903,840C904.1,911.5 906.1,965 906.7,990" fill="none" stroke="#1d1714" stroke-width="2.7"/>
<path d="M735,468C735.2,471.1 733.2,483 736,486.6C738.8,490.2 746.7,489 752,489.5C757.3,490 765.2,489.4 767.8,489.4L770,489C770.2,504.2 771,551.2 771.5,580C772,608.8 772.8,648.3 773,662C770.8,659.5 764.4,654.9 760,646.7C755.6,638.5 750.6,629.7 746.7,613C742.8,596.3 738.7,570.9 736.7,546.7C734.8,522.5 735.3,481.1 735,468Z" fill="url(#pcream)" stroke="#1d1714" stroke-width="2.7"/>
<path d="M790.6,388L828,392.2C823.6,396.2 809.7,407.2 801.9,416.2C794.1,425.2 786.6,436.9 781.2,446.2C775.9,455.6 772,465.3 770,472.5C768,479.7 769.2,486.6 769,489.4C766.2,489.4 757.5,490 752,489.5C746.5,489 738.8,489.9 736,486.6C733.2,483.4 735.2,472.8 735,470C735.3,468.7 734.6,466.6 737,462C739.4,457.4 744.2,450.1 749.4,442.5C754.6,434.9 761.1,425.3 768,416.2C774.9,407.2 786.8,392.7 790.6,388Z" fill="url(#pcream)" stroke="#1d1714" stroke-width="2.7"/>
<path d="M833.8,392.8L924.7,398.4C924.7,399.5 925.5,399.5 924.7,405C923.9,410.5 922.6,422.8 920,431.2C917.4,439.8 912.4,449.1 909,456C905.6,462.9 903.2,466.9 899.4,472.5C895.6,478.1 892.5,484.4 886.2,489.4C880,494.4 871.3,499.4 861.9,502.5C852.5,505.6 840,507.2 830,508C820,508.8 810.6,508.4 801.9,507.2C793.1,506 783,503.6 777.5,500.6C772,497.6 770.4,491.3 769,489.4C769.2,486.6 768,479.7 770,472.5C772,465.3 775.9,455.6 781.2,446.2C786.6,436.9 794.1,425.2 801.9,416.2C809.7,407.3 823.6,396.7 828,392.8Z" fill="url(#pcream)" stroke="#1d1714" stroke-width="2.7"/>
<path d="M897.5,395.6C896.9,398.4 894.7,405 893.8,412.5C892.8,420 891.6,432.2 891.9,440.6C892.2,449 894.2,457.5 895.6,463C897,468.5 899.5,471.7 900.3,473.4" fill="none" stroke="#1d1714" stroke-width="2.7"/>
<ellipse cx="836.2" cy="414" rx="5.3" ry="3.4" transform="rotate(0 836.2 414)" fill="#1f140f" stroke="#1f140f" stroke-width="1"/>
<ellipse cx="869.4" cy="420.9" rx="5.3" ry="3.4" transform="rotate(0 869.4 420.9)" fill="#1f140f" stroke="#1f140f" stroke-width="1"/>
<ellipse cx="839" cy="436.5" rx="5.3" ry="3.4" transform="rotate(0 839 436.5)" fill="#1f140f" stroke="#1f140f" stroke-width="1"/>
<ellipse cx="806.6" cy="443.8" rx="5.3" ry="3.4" transform="rotate(0 806.6 443.8)" fill="#1f140f" stroke="#1f140f" stroke-width="1"/>
<ellipse cx="868" cy="450.9" rx="5.3" ry="3.4" transform="rotate(0 868 450.9)" fill="#1f140f" stroke="#1f140f" stroke-width="1"/>
<ellipse cx="828.5" cy="465.4" rx="5.3" ry="3.4" transform="rotate(0 828.5 465.4)" fill="#1f140f" stroke="#1f140f" stroke-width="1"/>
<ellipse cx="796.2" cy="475.9" rx="5.3" ry="3.4" transform="rotate(0 796.2 475.9)" fill="#1f140f" stroke="#1f140f" stroke-width="1"/>
<ellipse cx="860.9" cy="479" rx="5.3" ry="3.4" transform="rotate(0 860.9 479)" fill="#1f140f" stroke="#1f140f" stroke-width="1"/>
<ellipse cx="824.8" cy="490.3" rx="5.3" ry="3.4" transform="rotate(0 824.8 490.3)" fill="#1f140f" stroke="#1f140f" stroke-width="1"/>
<path d="M1277.5,177.5L1315.5,95.5C1315.9,95.6 1317.5,95.2 1318,96C1318.5,96.8 1318.6,99.3 1318.8,100L1320.6,222.5L1322,430L1283,430C1282.7,407.6 1281.5,328.9 1281,295.6C1280.5,262.3 1280.6,249.7 1280,230C1279.4,210.3 1277.9,186.2 1277.5,177.5Z" fill="#d3cbcc" stroke="#1d1714" stroke-width="2.7"/>
<path d="M1239,243L1277.5,177.5C1277.9,186.2 1279.4,210.3 1280,230C1280.6,249.7 1280.5,262.3 1281,295.6C1281.5,328.9 1282.7,407.6 1283,430L1200,500L1189.7,488.8C1189.4,476.2 1188.6,436.4 1187.8,413.8C1187,391.1 1185.5,363 1185,352.8C1186.7,350.8 1189.9,347.1 1195,341C1200.1,334.9 1209.7,324.4 1215.6,316.2C1221.5,308.1 1227,300 1230.6,291.9C1234.2,283.8 1235.6,275.6 1237,267.5C1238.4,259.4 1238.7,247.1 1239,243Z" fill="url(#pgrey)" stroke="#1d1714" stroke-width="2.7"/>
<path d="M1239,243C1239.5,247.1 1241.1,251.2 1241.9,267.5C1242.7,283.8 1243.6,319.2 1243.8,341C1243.9,362.8 1243.1,388.5 1243,398" fill="none" stroke="#1d1714" stroke-width="2.7"/>
<path d="M1312.5,240C1310.5,244.3 1304,258.1 1300.3,266C1296.6,273.9 1293.1,281.4 1290.2,287.6C1287.3,293.8 1286.2,297.7 1283,303.4C1279.8,309.1 1275.2,314.9 1271,322C1266.8,329.1 1262,338 1258,346C1254,354 1249.4,364.8 1247,370C1244.6,375.2 1244.3,375.8 1243.8,377" fill="none" stroke="#1d1714" stroke-width="2.0"/>
<ellipse cx="1309.4" cy="141.9" rx="8" ry="1.6" transform="rotate(-60 1309.4 141.9)" fill="#706869" stroke="#706869" stroke-width="1.0"/>
<ellipse cx="1303.8" cy="162.5" rx="6" ry="1.6" transform="rotate(-60 1303.8 162.5)" fill="#706869" stroke="#706869" stroke-width="1.0"/>
<ellipse cx="1316" cy="158.8" rx="4" ry="1.6" transform="rotate(-60 1316 158.8)" fill="#706869" stroke="#706869" stroke-width="1.0"/>
<ellipse cx="1311.2" cy="186.9" rx="8" ry="1.6" transform="rotate(-60 1311.2 186.9)" fill="#706869" stroke="#706869" stroke-width="1.0"/>
<ellipse cx="1286" cy="196.2" rx="9" ry="1.6" transform="rotate(-60 1286 196.2)" fill="#706869" stroke="#706869" stroke-width="1.0"/>
<ellipse cx="1287.5" cy="206" rx="6" ry="1.6" transform="rotate(-60 1287.5 206)" fill="#706869" stroke="#706869" stroke-width="1.0"/>
<ellipse cx="1300" cy="220.6" rx="8.5" ry="2.7" transform="rotate(-60 1300 220.6)" fill="#bfb7b8" stroke="#635c5d" stroke-width="1.8"/>
<ellipse cx="1289.7" cy="246.9" rx="9" ry="2.7" transform="rotate(-60 1289.7 246.9)" fill="#bfb7b8" stroke="#635c5d" stroke-width="1.8"/>
<ellipse cx="1287.5" cy="258" rx="6" ry="1.6" transform="rotate(-60 1287.5 258)" fill="#706869" stroke="#706869" stroke-width="1.0"/>
<ellipse cx="1303" cy="252" rx="7" ry="1.6" transform="rotate(-60 1303 252)" fill="#706869" stroke="#706869" stroke-width="1.0"/>
<path d="M1045,346.4C1045,344.5 1044.7,338.8 1045,335C1045.3,331.2 1045.6,328 1047,323.4C1048.4,318.8 1050.4,313.9 1053.2,307.4C1056,300.9 1059.9,292.3 1064,284.4C1068.1,276.5 1072.8,268.4 1078,260C1083.2,251.6 1088.6,242.6 1095,233.8C1101.4,225.1 1109.6,214.5 1116.2,207.5C1122.9,200.5 1131.9,194.2 1135,191.6C1135.3,189.2 1135,183.6 1136.9,177.5C1138.8,171.4 1142.2,163.1 1146.2,155C1150.3,146.9 1156,136.9 1161.2,128.8C1166.5,120.6 1173,111.7 1178,106.2C1183,100.8 1187.8,98.1 1191.2,96C1194.7,93.9 1197.5,93.9 1198.8,93.5L1219,94.3L1226,97.3L1232.5,93.5L1312,92.8C1312.8,92.9 1315.9,92.6 1317,93.5C1318.1,94.4 1318.2,97.2 1318.5,98L1277.5,177.5L1239,243C1238.7,247.1 1238.4,259.4 1237,267.5C1235.6,275.6 1234.2,283.8 1230.6,291.9C1227,300 1221.5,308.1 1215.6,316.2C1209.7,324.4 1200.1,334.9 1195,341C1189.9,347.1 1186.7,350.8 1185,352.8L1087,350Z" fill="url(#pgrey)" stroke="#1d1714" stroke-width="2.7"/>
<path d="M1135,192C1135.3,189.6 1135,183.7 1136.9,177.5C1138.8,171.3 1142.2,163.1 1146.2,155C1150.3,146.9 1156,136.9 1161.2,128.8C1166.5,120.6 1173,111.7 1178,106.2C1183,100.8 1187.8,98.1 1191.2,96C1194.7,93.9 1197.5,93.9 1198.8,93.5L1217,94.2C1218.1,94.4 1222.2,94.7 1223.5,95.5C1224.8,96.3 1224.8,98.2 1225,98.8C1222.5,102.5 1216.2,111.9 1210,121.2C1203.8,130.6 1194.4,144.4 1187.5,155C1180.6,165.6 1174.4,175.9 1168.8,185C1163.1,194.1 1156.2,205.3 1153.8,209.4Z" fill="#d3cbcc"/>
<path d="M1232.5,95L1312,92.9L1317.5,97L1277.5,177.5L1239,243L1148,239.4C1148.2,238.3 1148.2,236.8 1149.5,233C1150.8,229.2 1152.4,223.7 1155.6,216.9C1158.8,210.2 1164.4,199.5 1168.8,192.5C1173.1,185.5 1179.7,177.7 1181.9,174.7Z" fill="#d3cbcc"/>
<path d="M1217,94.2C1218.1,94.4 1222.2,94.7 1223.5,95.5C1224.8,96.3 1224.8,98.2 1225,98.8C1222.5,102.5 1216.2,111.9 1210,121.2C1203.8,130.6 1194.4,144.4 1187.5,155C1180.6,165.6 1174.4,175.9 1168.8,185C1163.1,194.1 1156.2,205.3 1153.8,209.4L1135,192.5" fill="none" stroke="#1d1714" stroke-width="2.7"/>
<path d="M1153.8,209.4L1148,239.4" fill="none" stroke="#1d1714" stroke-width="2.7"/>
<path d="M1232.5,95L1181.9,174.7C1179.7,177.7 1173.1,185.5 1168.8,192.5C1164.4,199.5 1158.8,210.2 1155.6,216.9C1152.4,223.7 1150.8,229.2 1149.5,233C1148.2,236.8 1148.2,238.3 1148,239.4" fill="none" stroke="#1d1714" stroke-width="2.7"/>
<path d="M1196.9,100.6L1211,100.6C1211.7,100.7 1214.8,100.6 1215.3,101.3C1215.8,102 1214.2,104.4 1214,105C1211.2,109.6 1202.9,122.9 1196.9,132.5C1190.9,142.1 1184.4,152.2 1178,162.5C1171.6,172.8 1161.8,189.2 1158.5,194.5C1158.1,195 1156.9,197.3 1156,197.5C1155.1,197.7 1153.5,195.8 1153,195.5L1146.5,190.5C1146.2,190 1144.2,190.9 1144.4,187.5C1144.7,184.1 1145.5,176.7 1148,170C1150.5,163.3 1154.7,155.6 1159.4,147.5C1164.1,139.4 1171.2,128.1 1176.2,121.2C1181.2,114.4 1186,109.7 1189.4,106.2C1192.8,102.8 1195.7,101.5 1196.9,100.6Z" fill="url(#pgrey)" stroke="#1d1714" stroke-width="2.0"/>
<path d="M1239,99.7L1303,98.9C1303.8,99 1307.4,98.7 1308,99.5C1308.6,100.3 1306.8,103.2 1306.5,104L1280,164.5C1279.6,165.1 1278.7,167.4 1277.5,168C1276.3,168.6 1273.8,168 1273,168L1200,166.4C1199.1,166.2 1195.1,166.4 1194.5,165.5C1193.9,164.6 1196.2,161.8 1196.5,161L1234,102C1234.3,101.7 1235.2,100.4 1236,100C1236.8,99.6 1238.5,99.8 1239,99.7Z" fill="#d3cbcc" stroke="#1d1714" stroke-width="2.0"/>
<ellipse cx="1264.4" cy="106.2" rx="14" ry="3" transform="rotate(2 1264.4 106.2)" fill="#d9d2d3" stroke="#6b6465" stroke-width="1.8"/>
<ellipse cx="1279.4" cy="116.6" rx="12" ry="3" transform="rotate(2 1279.4 116.6)" fill="#d9d2d3" stroke="#6b6465" stroke-width="1.8"/>
<ellipse cx="1238" cy="162.5" rx="7" ry="2.6" transform="rotate(2 1238 162.5)" fill="#d9d2d3" stroke="#6b6465" stroke-width="1.8"/>
<ellipse cx="1266.2" cy="161.6" rx="11" ry="2.8" transform="rotate(2 1266.2 161.6)" fill="#d9d2d3" stroke="#6b6465" stroke-width="1.8"/>
<path d="M1181.9,174.7L1277.5,177.5" fill="none" stroke="#1d1714" stroke-width="2.7"/>
<path d="M1188,184L1259.5,185.8C1260.4,185.9 1264.3,185.6 1265,186.5C1265.7,187.4 1263.8,190.2 1263.5,191L1241,230C1240.5,230.6 1239.3,233.1 1238,233.7C1236.7,234.3 1233.8,233.6 1233,233.6L1166,230.3C1165,230.1 1160.9,230.3 1159.8,229C1158.7,227.7 1157.9,227 1159.4,222.5C1160.9,218 1165.2,208.1 1168.8,201.9C1172.3,195.7 1177.8,188.5 1181,185.5C1184.2,182.5 1186.8,184.2 1188,184Z" fill="url(#pgrey)" stroke="#1d1714" stroke-width="2.0"/>
<path d="M1148,239.4L1239,243" fill="none" stroke="#1d1714" stroke-width="2.7"/>
<path d="M1148,239.4C1145,242.5 1135.6,250.9 1129.7,258C1123.8,265.1 1117.6,274 1112.4,282C1107.2,290 1102.4,298.2 1098.6,306C1094.8,313.8 1091.3,321.7 1089.4,329C1087.5,336.3 1087.4,346.5 1087,350" fill="none" stroke="#1d1714" stroke-width="2.7"/>
<path d="M1277.5,177.5L1239,243" fill="none" stroke="#1d1714" stroke-width="2.7"/>
<path d="M1147.5,415.6L1185,352.8C1185.5,363 1187,391.1 1187.8,413.8C1188.6,436.4 1189.4,476.2 1189.7,488.8L1190,960L1161.5,965L1152.8,984C1152.7,981.7 1152.2,987.2 1151.9,970C1151.6,952.8 1151.2,951.2 1151,881C1150.8,810.8 1151.2,626.3 1150.6,548.8C1150,471.2 1148,437.8 1147.5,415.6Z" fill="url(#ptan)" stroke="#1d1714" stroke-width="2.7"/>
<path d="M1168,383L1168,560" fill="none" stroke="#4a3b30" stroke-width="2.3" stroke-dasharray="10 5" stroke-linecap="butt"/>
<path d="M1007.8,414.7L1045,346.4L1087,350L1185,352.8L1147.5,415.6L1055.6,414L1049,418Z" fill="url(#ptan)" stroke="#1d1714" stroke-width="2.7"/>
<path d="M1087,350L1055.6,414.7" fill="none" stroke="#1d1714" stroke-width="2.7"/>
<path d="M1029.4,376.2L1168,381" fill="none" stroke="#4a3b30" stroke-width="2.3" stroke-dasharray="10 5" stroke-linecap="butt"/>
<path d="M957,500L1147.5,416C1148,438.1 1150,471.2 1150.6,548.8C1151.2,626.2 1150.6,808.5 1151,881C1151.4,953.5 1152.5,966.8 1152.8,984C1151.7,986.5 1150.5,989.8 1146.2,998.8C1142,1007.8 1132.7,1028.6 1127.5,1038C1122.3,1047.4 1119.5,1047.6 1115.3,1055C1111.1,1062.4 1107.1,1073.2 1102.5,1082.5C1097.9,1091.8 1091.2,1104.8 1087.5,1111C1083.8,1117.2 1084.6,1116.4 1080,1120C1075.4,1123.6 1067.5,1129.4 1060,1132.5C1052.5,1135.6 1043.8,1137.9 1035,1138.8C1026.2,1139.6 1015.8,1139 1007.5,1137.5C999.2,1136 991.2,1133.8 985,1130C978.8,1126.2 973.3,1120.3 970,1115C966.7,1109.7 965.8,1100.8 965,1098C964.8,1081.7 964.3,1039.7 963.8,1000C963.2,960.3 962.2,911.7 961.6,860C961,808.3 960.7,735.8 960,690C959.3,644.2 957.7,602.5 957.2,585Z" fill="url(#pcream)" stroke="#1d1714" stroke-width="2.7"/>
<path d="M1085.6,568C1085.3,606.8 1083.8,752.3 1083.8,801C1083.7,849.7 1084.7,826.8 1085.3,860C1085.9,893.2 1087.1,958.2 1087.5,1000C1087.9,1041.8 1087.5,1092.5 1087.5,1111" fill="none" stroke="#1d1714" stroke-width="2.7"/>
<path d="M1110,489.7C1109.8,504.9 1109,529.1 1109,581C1109,632.9 1109.4,754.5 1110,801C1110.6,847.5 1111.7,826.8 1112.5,860C1113.3,893.2 1114.4,967.7 1115,1000C1115.6,1032.3 1115.8,1045 1116,1054" fill="none" stroke="#1d1714" stroke-width="2.7"/>
<path d="M1149.5,515C1147.5,519.1 1142.6,529.1 1137.5,539.4C1132.4,549.7 1123.4,568.1 1118.8,576.9C1114.1,585.6 1111,589.4 1109.4,591.9" fill="none" stroke="#1d1714" stroke-width="2.7"/>
<path d="M1149,903L1115.3,974.4" fill="none" stroke="#1d1714" stroke-width="2.7"/>
<path d="M919.7,566C919.9,567 917.6,569.6 920.6,572C923.6,574.4 932.1,578.5 938,580.5C943.9,582.5 953.2,583.4 956.2,584L957.2,585C957.7,602.5 959.5,659.8 960,690C960.5,720.2 960.4,753.3 960.5,766C957.3,759.6 946.7,740.2 941.2,727.5C935.8,714.8 931.4,705.6 928,690C924.6,674.4 922.1,652.5 920.6,633.8C919.1,615 918.9,588.8 918.8,577.5C918.6,566.2 919.5,567.9 919.7,566Z" fill="url(#pcream)" stroke="#1d1714" stroke-width="2.7"/>
<path d="M1007.8,415.6L1048,418.4C1045.8,422.6 1039.7,434.2 1035,443.8C1030.3,453.3 1023,468.7 1020,475.6C1017,482.5 1017.7,483.4 1017.2,485C1013.2,488.5 1000.1,498.6 993,506.2C985.9,513.9 979.4,521.5 974.4,530.6C969.4,539.7 965.9,552.1 963,561C960.1,569.9 958.2,580.2 957.2,584C954,583.4 944.1,582.5 938,580.5C931.9,578.5 923.7,574.8 920.6,572C917.5,569.2 919.7,565.3 919.5,564C920.5,560.3 923,549.6 925.6,541.9C928.2,534.1 929.9,527.8 935,517.5C940.1,507.2 944.4,497 956.5,480C968.6,463 999.2,426.3 1007.8,415.6Z" fill="url(#pcream)" stroke="#1d1714" stroke-width="2.7"/>
<path d="M1055.6,414.7L1147.5,416.6L1110,489.7L1017.2,485C1020.2,478.8 1028.6,459.2 1035,447.5C1041.4,435.8 1052.2,420.2 1055.6,414.7Z" fill="url(#pcream)" stroke="#1d1714" stroke-width="2.7"/>
<path d="M1017.2,486L1110,490.6C1109.7,495.5 1109.4,511.8 1108,520C1106.6,528.2 1103.4,535.1 1101.6,540C1099.8,544.9 1099.6,544.7 1096.9,549.4C1094.2,554.1 1090.3,562.1 1085.6,568C1080.9,573.9 1075.3,580.3 1068.8,585C1062.2,589.7 1055.6,593.4 1046.2,596.2C1036.9,599.1 1022.8,601.3 1012.5,601.9C1002.2,602.5 992.5,601.6 984.4,600C976.3,598.4 968.3,595.3 963.8,592.5C959.2,589.7 958.3,584.6 957.2,583C958.2,579.3 960.1,569.7 963,561C965.9,552.3 969.4,539.7 974.4,530.6C979.4,521.5 985.9,513.7 993,506.2C1000.1,498.8 1013.2,489.4 1017.2,486Z" fill="url(#pcream)" stroke="#1d1714" stroke-width="2.7"/>
<path d="M1081,490.6C1080.3,496.5 1077.2,516.1 1077,526.2C1076.8,536.4 1078.3,544.3 1080,551.2C1081.7,558.2 1085.8,565.2 1087,568" fill="none" stroke="#1d1714" stroke-width="2.7"/>
<ellipse cx="1019" cy="507.5" rx="5.2" ry="3.6" transform="rotate(0 1019 507.5)" fill="#f6ebc6" stroke="#2a201a" stroke-width="2.1"/>
<ellipse cx="1055.6" cy="515" rx="5.2" ry="3.6" transform="rotate(0 1055.6 515)" fill="#f6ebc6" stroke="#2a201a" stroke-width="2.1"/>
<ellipse cx="1021.9" cy="532.4" rx="5.2" ry="3.6" transform="rotate(0 1021.9 532.4)" fill="#f6ebc6" stroke="#2a201a" stroke-width="2.1"/>
<ellipse cx="990" cy="540" rx="5.2" ry="3.6" transform="rotate(0 990 540)" fill="#f6ebc6" stroke="#2a201a" stroke-width="2.1"/>
<ellipse cx="1051.9" cy="541.7" rx="5.2" ry="3.6" transform="rotate(0 1051.9 541.7)" fill="#f6ebc6" stroke="#2a201a" stroke-width="2.1"/>
<ellipse cx="1018" cy="561.3" rx="5.2" ry="3.6" transform="rotate(0 1018 561.3)" fill="#f6ebc6" stroke="#2a201a" stroke-width="2.1"/>
<ellipse cx="982" cy="569.2" rx="5.2" ry="3.6" transform="rotate(0 982 569.2)" fill="#f6ebc6" stroke="#2a201a" stroke-width="2.1"/>
<ellipse cx="1047.2" cy="573.6" rx="5.2" ry="3.6" transform="rotate(0 1047.2 573.6)" fill="#f6ebc6" stroke="#2a201a" stroke-width="2.1"/>
<ellipse cx="1010.6" cy="586" rx="5.2" ry="3.6" transform="rotate(0 1010.6 586)" fill="#f6ebc6" stroke="#2a201a" stroke-width="2.1"/>
<path d="M1506.5,180.5L1544,95.5C1544.4,95.6 1546,95.2 1546.5,96C1547,96.8 1546.9,99.3 1547,100C1546.9,125.6 1546.3,212.3 1546.6,253.4C1546.8,294.5 1547.9,322.4 1548.5,346.8C1549.1,371.2 1549.8,375 1550.3,400C1550.8,425 1552,473.7 1551.3,497C1550.6,520.3 1548.7,527.4 1546,540C1543.3,552.6 1539,561.6 1535,572.4C1531,583.2 1525.2,597.2 1522,604.7C1518.8,612.2 1516.8,615.5 1515.8,617.7C1515.6,599.4 1515.1,544.1 1514.7,507.8C1514.3,471.5 1514,430 1513.6,400C1513.1,370 1512.6,352.5 1512,328C1511.4,303.5 1510.9,277.6 1510,253C1509.1,228.4 1507.1,192.6 1506.5,180.5Z" fill="#d3cbcc" stroke="#1d1714" stroke-width="2.7"/>
<path d="M1471,242L1506.5,180.5C1507.1,192.6 1509.1,228.4 1510,253C1510.9,277.6 1511.4,303.5 1512,328C1512.6,352.5 1513.1,370 1513.6,400C1514,430 1514.3,471.5 1514.7,507.8C1515.1,544.1 1515.6,599.4 1515.8,617.7C1514.7,620.2 1511.8,626 1509.3,632.8C1506.8,639.6 1503.9,650 1500.7,658.6C1497.5,667.2 1493.7,674.6 1490,684.5C1486.3,694.4 1480.4,712.4 1478.5,718C1478.6,715 1479.1,727.8 1479,700C1478.9,672.2 1478.5,601 1478,551C1477.5,501 1476.3,434 1475.9,400C1475.5,366 1475.8,365 1475.6,346.8C1475.4,328.6 1475.5,308.2 1474.7,290.7C1473.9,273.2 1471.6,250.1 1471,242Z" fill="url(#pgrey)" stroke="#1d1714" stroke-width="2.7"/>
<path d="M1471,242C1471.7,244.6 1474.5,251.6 1475,257.5C1475.5,263.4 1475.4,269.6 1473.8,277.5C1472.1,285.4 1469,296.9 1465,305C1461,313.1 1455,320 1450,326C1445,332 1439.9,337 1435,341C1430.1,345 1422.9,348.5 1420.5,350C1420,355 1417.8,371.7 1417.3,380C1416.8,388.3 1418,371.5 1417.7,400C1417.4,428.5 1415.6,515.1 1415.6,551C1415.6,586.9 1417,590.7 1417.7,615.5C1418.4,640.3 1419.6,661.9 1420,700C1420.4,738.1 1420,820 1420,844C1422.5,841.7 1429,836.3 1434.8,830C1440.5,823.7 1448.9,814.9 1454.5,806.4C1460.1,797.9 1464.8,788.3 1468.4,778.7C1472,769.1 1474.2,757.3 1476,749C1477.8,740.7 1478.6,734.2 1479,729C1479.4,723.8 1478.6,719.8 1478.5,718C1478.6,715 1479.1,727.8 1479,700C1478.9,672.2 1478.5,601 1478,551C1477.5,501 1476.3,434 1475.9,400C1475.5,366 1475.8,365 1475.6,346.8C1475.4,328.6 1475.5,308.2 1474.7,290.7C1473.9,273.2 1471.6,250.1 1471,242Z" fill="#d3cbcc" stroke="#1d1714" stroke-width="2.7"/>
<path d="M1383,404.4L1400,380L1420.5,350C1420,355 1417.8,371.7 1417.3,380C1416.8,388.3 1418,371.5 1417.7,400C1417.4,428.5 1415.6,515.1 1415.6,551C1415.6,586.9 1417,590.7 1417.7,615.5C1418.4,640.3 1419.6,661.9 1420,700C1420.4,738.1 1420,820 1420,844C1418.2,848.9 1412.5,865.3 1409,873.5C1405.5,881.7 1402.2,887 1399.2,893.3C1396.2,899.5 1392.6,908 1391.3,911C1391.2,902.1 1390.9,892.9 1390.4,857.7C1390,822.5 1389.2,768 1388.6,700C1387.9,632 1387.4,499.3 1386.5,450C1385.6,400.7 1383.6,412 1383,404.4Z" fill="url(#pgrey)" stroke="#1d1714" stroke-width="2.7"/>
<path d="M1510,290.7C1508.5,296.9 1504.3,317.1 1500.9,328C1497.5,338.9 1493.3,347.6 1489.6,356C1485.8,364.4 1480.3,374.8 1478.4,378.5" fill="none" stroke="#1d1714" stroke-width="2.0"/>
<path d="M1513.6,413C1511.4,419.8 1505,441.7 1500.7,453.9C1496.4,466.1 1491.6,476.5 1487.8,486.2C1484,495.9 1479.6,507.7 1478,512" fill="none" stroke="#1d1714" stroke-width="2.0"/>
<path d="M1514.7,529.3C1512.7,535 1507.3,553 1502.8,563.8C1498.3,574.6 1491.8,585.7 1487.8,594C1483.8,602.3 1480.5,610.2 1479,613.4" fill="none" stroke="#1d1714" stroke-width="2.0"/>
<ellipse cx="1537.5" cy="140" rx="9" ry="1.6" transform="rotate(-60 1537.5 140)" fill="#706869" stroke="#706869" stroke-width="1.0"/>
<ellipse cx="1528" cy="162.5" rx="7" ry="1.6" transform="rotate(-60 1528 162.5)" fill="#706869" stroke="#706869" stroke-width="1.0"/>
<ellipse cx="1540" cy="167.5" rx="5" ry="1.6" transform="rotate(-60 1540 167.5)" fill="#706869" stroke="#706869" stroke-width="1.0"/>
<ellipse cx="1539.4" cy="185" rx="8" ry="1.6" transform="rotate(-60 1539.4 185)" fill="#706869" stroke="#706869" stroke-width="1.0"/>
<ellipse cx="1515.8" cy="195.5" rx="11" ry="1.6" transform="rotate(-60 1515.8 195.5)" fill="#706869" stroke="#706869" stroke-width="1.0"/>
<ellipse cx="1518.5" cy="205" rx="7" ry="1.6" transform="rotate(-60 1518.5 205)" fill="#706869" stroke="#706869" stroke-width="1.0"/>
<ellipse cx="1530.7" cy="212" rx="10" ry="2.7" transform="rotate(-60 1530.7 212)" fill="#bfb7b8" stroke="#635c5d" stroke-width="1.8"/>
<ellipse cx="1519.5" cy="243" rx="10" ry="2.7" transform="rotate(-60 1519.5 243)" fill="#bfb7b8" stroke="#635c5d" stroke-width="1.8"/>
<ellipse cx="1532.6" cy="251.5" rx="9" ry="2.7" transform="rotate(-60 1532.6 251.5)" fill="#bfb7b8" stroke="#635c5d" stroke-width="1.8"/>
<ellipse cx="1542" cy="266.5" rx="7" ry="1.6" transform="rotate(-60 1542 266.5)" fill="#706869" stroke="#706869" stroke-width="1.0"/>
<ellipse cx="1517.7" cy="290.7" rx="9" ry="1.6" transform="rotate(-60 1517.7 290.7)" fill="#706869" stroke="#706869" stroke-width="1.0"/>
<ellipse cx="1528.9" cy="294.5" rx="9" ry="1.6" transform="rotate(-60 1528.9 294.5)" fill="#706869" stroke="#706869" stroke-width="1.0"/>
<ellipse cx="1532.6" cy="311.3" rx="11" ry="2.7" transform="rotate(-60 1532.6 311.3)" fill="#bfb7b8" stroke="#635c5d" stroke-width="1.8"/>
<ellipse cx="1516.7" cy="322.5" rx="8" ry="1.6" transform="rotate(-60 1516.7 322.5)" fill="#706869" stroke="#706869" stroke-width="1.0"/>
<ellipse cx="1536.3" cy="365.5" rx="12" ry="1.6" transform="rotate(-60 1536.3 365.5)" fill="#706869" stroke="#706869" stroke-width="1.0"/>
<ellipse cx="1530.7" cy="393.5" rx="11" ry="2.7" transform="rotate(-60 1530.7 393.5)" fill="#bfb7b8" stroke="#635c5d" stroke-width="1.8"/>
<ellipse cx="1543.8" cy="391.6" rx="7" ry="1.6" transform="rotate(-60 1543.8 391.6)" fill="#706869" stroke="#706869" stroke-width="1.0"/>
<ellipse cx="1528.7" cy="408" rx="8" ry="1.6" transform="rotate(-60 1528.7 408)" fill="#706869" stroke="#706869" stroke-width="1.0"/>
<ellipse cx="1543.8" cy="405" rx="5" ry="1.6" transform="rotate(-60 1543.8 405)" fill="#706869" stroke="#706869" stroke-width="1.0"/>
<ellipse cx="1524.4" cy="421.6" rx="9" ry="2.7" transform="rotate(-60 1524.4 421.6)" fill="#bfb7b8" stroke="#635c5d" stroke-width="1.8"/>
<ellipse cx="1522" cy="443" rx="9" ry="1.6" transform="rotate(-60 1522 443)" fill="#706869" stroke="#706869" stroke-width="1.0"/>
<ellipse cx="1543.8" cy="453.9" rx="8" ry="1.6" transform="rotate(-60 1543.8 453.9)" fill="#706869" stroke="#706869" stroke-width="1.0"/>
<ellipse cx="1530.9" cy="484" rx="12" ry="1.6" transform="rotate(-60 1530.9 484)" fill="#706869" stroke="#706869" stroke-width="1.0"/>
<ellipse cx="1530.9" cy="507.8" rx="12" ry="2.7" transform="rotate(-60 1530.9 507.8)" fill="#bfb7b8" stroke="#635c5d" stroke-width="1.8"/>
<ellipse cx="1543.8" cy="503.4" rx="7" ry="1.6" transform="rotate(-60 1543.8 503.4)" fill="#706869" stroke="#706869" stroke-width="1.0"/>
<ellipse cx="1520" cy="548.7" rx="9" ry="1.6" transform="rotate(-60 1520 548.7)" fill="#706869" stroke="#706869" stroke-width="1.0"/>
<ellipse cx="1535" cy="544.4" rx="9" ry="2.7" transform="rotate(-60 1535 544.4)" fill="#bfb7b8" stroke="#635c5d" stroke-width="1.8"/>
<ellipse cx="1463.5" cy="337.4" rx="12" ry="1.6" transform="rotate(-60 1463.5 337.4)" fill="#706869" stroke="#706869" stroke-width="1.0"/>
<ellipse cx="1439.2" cy="363.6" rx="11" ry="1.6" transform="rotate(-60 1439.2 363.6)" fill="#706869" stroke="#706869" stroke-width="1.0"/>
<ellipse cx="1469" cy="374.8" rx="9" ry="1.6" transform="rotate(-60 1469 374.8)" fill="#706869" stroke="#706869" stroke-width="1.0"/>
<ellipse cx="1433.6" cy="386" rx="10" ry="2.7" transform="rotate(-60 1433.6 386)" fill="#bfb7b8" stroke="#635c5d" stroke-width="1.8"/>
<ellipse cx="1443" cy="401" rx="10" ry="2.7" transform="rotate(-60 1443 401)" fill="#bfb7b8" stroke="#635c5d" stroke-width="1.8"/>
<ellipse cx="1456" cy="404.7" rx="10" ry="1.6" transform="rotate(-60 1456 404.7)" fill="#706869" stroke="#706869" stroke-width="1.0"/>
<ellipse cx="1462" cy="423.7" rx="5" ry="1.6" transform="rotate(-60 1462 423.7)" fill="#706869" stroke="#706869" stroke-width="1.0"/>
<ellipse cx="1428.5" cy="432" rx="9" ry="2.7" transform="rotate(-60 1428.5 432)" fill="#bfb7b8" stroke="#635c5d" stroke-width="1.8"/>
<ellipse cx="1427" cy="449.6" rx="9" ry="2.7" transform="rotate(-60 1427 449.6)" fill="#bfb7b8" stroke="#635c5d" stroke-width="1.8"/>
<ellipse cx="1445.7" cy="442" rx="10" ry="2.7" transform="rotate(-60 1445.7 442)" fill="#bfb7b8" stroke="#635c5d" stroke-width="1.8"/>
<ellipse cx="1429.6" cy="471" rx="10" ry="1.6" transform="rotate(-60 1429.6 471)" fill="#706869" stroke="#706869" stroke-width="1.0"/>
<ellipse cx="1463" cy="475.4" rx="13" ry="2.7" transform="rotate(-60 1463 475.4)" fill="#bfb7b8" stroke="#635c5d" stroke-width="1.8"/>
<ellipse cx="1443.6" cy="490.5" rx="10" ry="1.6" transform="rotate(-60 1443.6 490.5)" fill="#706869" stroke="#706869" stroke-width="1.0"/>
<ellipse cx="1438" cy="514" rx="11" ry="2.7" transform="rotate(-60 1438 514)" fill="#bfb7b8" stroke="#635c5d" stroke-width="1.8"/>
<ellipse cx="1470.5" cy="517.5" rx="7" ry="1.6" transform="rotate(-60 1470.5 517.5)" fill="#706869" stroke="#706869" stroke-width="1.0"/>
<ellipse cx="1444.7" cy="546.5" rx="11" ry="2.7" transform="rotate(-60 1444.7 546.5)" fill="#bfb7b8" stroke="#635c5d" stroke-width="1.8"/>
<ellipse cx="1428.5" cy="557" rx="10" ry="2.7" transform="rotate(-60 1428.5 557)" fill="#bfb7b8" stroke="#635c5d" stroke-width="1.8"/>
<ellipse cx="1463" cy="550.9" rx="11" ry="2.7" transform="rotate(-60 1463 550.9)" fill="#bfb7b8" stroke="#635c5d" stroke-width="1.8"/>
<ellipse cx="1441.4" cy="576.7" rx="9" ry="1.6" transform="rotate(-60 1441.4 576.7)" fill="#706869" stroke="#706869" stroke-width="1.0"/>
<ellipse cx="1470.5" cy="585" rx="8" ry="1.6" transform="rotate(-60 1470.5 585)" fill="#706869" stroke="#706869" stroke-width="1.0"/>
<ellipse cx="1440" cy="594" rx="8" ry="1.6" transform="rotate(-60 1440 594)" fill="#706869" stroke="#706869" stroke-width="1.0"/>
<ellipse cx="1423" cy="602.6" rx="7" ry="1.6" transform="rotate(-60 1423 602.6)" fill="#706869" stroke="#706869" stroke-width="1.0"/>
<ellipse cx="1429.6" cy="619.8" rx="10" ry="1.6" transform="rotate(-60 1429.6 619.8)" fill="#706869" stroke="#706869" stroke-width="1.0"/>
<ellipse cx="1451" cy="615.5" rx="11" ry="2.7" transform="rotate(-60 1451 615.5)" fill="#bfb7b8" stroke="#635c5d" stroke-width="1.8"/>
<ellipse cx="1468.4" cy="615.5" rx="11" ry="2.7" transform="rotate(-60 1468.4 615.5)" fill="#bfb7b8" stroke="#635c5d" stroke-width="1.8"/>
<ellipse cx="1431.7" cy="665" rx="11" ry="1.6" transform="rotate(-60 1431.7 665)" fill="#706869" stroke="#706869" stroke-width="1.0"/>
<ellipse cx="1444.7" cy="660.8" rx="11" ry="1.6" transform="rotate(-60 1444.7 660.8)" fill="#706869" stroke="#706869" stroke-width="1.0"/>
<ellipse cx="1462" cy="658.6" rx="11" ry="2.7" transform="rotate(-60 1462 658.6)" fill="#bfb7b8" stroke="#635c5d" stroke-width="1.8"/>
<ellipse cx="1471" cy="662" rx="8" ry="1.6" transform="rotate(-60 1471 662)" fill="#706869" stroke="#706869" stroke-width="1.0"/>
<ellipse cx="1446.8" cy="688.8" rx="9" ry="1.6" transform="rotate(-60 1446.8 688.8)" fill="#706869" stroke="#706869" stroke-width="1.0"/>
<ellipse cx="1464" cy="688.8" rx="9" ry="1.6" transform="rotate(-60 1464 688.8)" fill="#706869" stroke="#706869" stroke-width="1.0"/>
<ellipse cx="1440.7" cy="697" rx="9" ry="1.6" transform="rotate(-60 1440.7 697)" fill="#706869" stroke="#706869" stroke-width="1.0"/>
<ellipse cx="1424" cy="725.4" rx="8" ry="1.6" transform="rotate(-60 1424 725.4)" fill="#706869" stroke="#706869" stroke-width="1.0"/>
<ellipse cx="1430.8" cy="749" rx="11" ry="2.7" transform="rotate(-60 1430.8 749)" fill="#bfb7b8" stroke="#635c5d" stroke-width="1.8"/>
<ellipse cx="1439.7" cy="761" rx="8" ry="1.6" transform="rotate(-60 1439.7 761)" fill="#706869" stroke="#706869" stroke-width="1.0"/>
<ellipse cx="1460.5" cy="772.8" rx="10" ry="1.6" transform="rotate(-60 1460.5 772.8)" fill="#706869" stroke="#706869" stroke-width="1.0"/>
<ellipse cx="1470.3" cy="727.4" rx="11" ry="1.6" transform="rotate(-60 1470.3 727.4)" fill="#706869" stroke="#706869" stroke-width="1.0"/>
<ellipse cx="1432.8" cy="808.4" rx="9" ry="1.6" transform="rotate(-60 1432.8 808.4)" fill="#706869" stroke="#706869" stroke-width="1.0"/>
<path d="M1243.4,400.3C1243.7,399.5 1242.9,400.4 1245.2,395.6C1247.5,390.8 1253.7,378.9 1257.4,371.3C1261.2,363.7 1264.3,358.7 1267.7,349.8C1271.1,340.9 1274.7,326.3 1278,318C1281.3,309.7 1284.2,306.8 1287.5,300C1290.8,293.2 1294,285 1297.5,277.5C1301,270 1305,262.1 1308.8,255C1312.5,247.9 1316.2,241.2 1320,235C1323.8,228.8 1327.3,222.9 1331.2,217.5C1335.2,212.1 1339.8,206.6 1343.8,202.5C1347.7,198.4 1353.1,194.6 1355,193C1355.3,191.2 1356.4,185.8 1357,182C1357.6,178.2 1357.4,175.3 1358.8,170C1360.1,164.7 1361.5,157.5 1365,150C1368.5,142.5 1374.4,132.6 1380,125C1385.6,117.4 1394.1,109.1 1398.8,104.4C1403.4,99.7 1405.2,98.9 1408,97C1410.8,95.1 1414.3,93.7 1415.6,93L1441,94.5L1447,97.5L1451.2,93L1540,92.8C1540.8,92.9 1543.9,92.6 1545,93.5C1546.1,94.4 1546.2,97.2 1546.5,98L1506.5,180.5L1471,242C1471.7,244.6 1474.5,251.6 1475,257.5C1475.5,263.4 1475.4,269.6 1473.8,277.5C1472.1,285.4 1469,296.9 1465,305C1461,313.1 1455,320 1450,326C1445,332 1439.9,337 1435,341C1430.1,345 1422.9,348.5 1420.5,350L1400,380L1383,404.4L1291,403.6Z" fill="url(#pgrey)" stroke="#1d1714" stroke-width="2.7"/>
<path d="M1356,192.8C1356.2,191 1356.5,185.8 1357,182C1357.5,178.2 1357.4,175.3 1358.8,170C1360.1,164.7 1361.5,157.5 1365,150C1368.5,142.5 1374.4,132.6 1380,125C1385.6,117.4 1394.1,109.1 1398.8,104.4C1403.4,99.7 1405.2,98.9 1408,97C1410.8,95.1 1414.3,93.7 1415.6,93L1439,94.3C1439.9,94.5 1443.4,94.9 1444.5,95.5C1445.6,96.1 1445.4,97.6 1445.6,98C1442.5,102.2 1433.2,112.9 1426.9,123C1420.6,133.1 1413.3,148.4 1408,158.8C1402.7,169.1 1398.4,177.9 1395,185C1391.6,192.1 1390.4,195.4 1387.5,201.2C1384.6,207.1 1379.2,216.9 1377.5,220L1376.2,240C1376,237.1 1376.9,227.9 1375,222.5C1373.1,217.1 1368.2,212.4 1365,207.5C1361.8,202.6 1357.5,195.2 1356,192.8Z" fill="#d3cbcc"/>
<path d="M1451.2,94L1540,92.9L1546,97L1506.5,180.5L1471,242L1376.2,240.6C1376.9,237.6 1377.1,229.5 1380,222.5C1382.9,215.5 1388.9,206.6 1393.8,198.8C1398.6,190.9 1406.5,179.5 1409,175.6Z" fill="#d3cbcc"/>
<path d="M1355,193C1356.7,195.4 1361.7,202.6 1365,207.5C1368.3,212.4 1373.2,217.3 1375,222.5C1376.8,227.7 1375.8,235.8 1376,238.5C1373.4,240 1365.5,243.5 1360.5,247.5C1355.5,251.5 1350.5,256.7 1346,262.5C1341.5,268.3 1337.3,275.8 1333.5,282.5C1329.7,289.2 1326,295.8 1323,302.5C1320,309.2 1317.5,315.6 1315.5,322.5C1313.5,329.4 1312.3,336.8 1311,344C1309.7,351.2 1308.4,362.1 1307.9,365.7L1267.7,350.7C1269.4,345.2 1274.7,326.4 1278,318C1281.3,309.6 1284.2,306.8 1287.5,300C1290.8,293.2 1294,285 1297.5,277.5C1301,270 1305,262.1 1308.8,255C1312.5,247.9 1316.2,241.2 1320,235C1323.8,228.8 1327.3,222.9 1331.2,217.5C1335.2,212.1 1339.8,206.6 1343.8,202.5C1347.7,198.4 1353.1,194.6 1355,193Z" fill="#d3cbcc"/>
<path d="M1376.2,241L1471,242C1471.7,244.6 1474.5,251.6 1475,257.5C1475.5,263.4 1475.4,269.6 1473.8,277.5C1472.1,285.4 1469,296.9 1465,305C1461,313.1 1455,320 1450,326C1445,332 1439.9,337 1435,341C1430.1,345 1422.9,348.5 1420.5,350L1318,349C1318.3,346.3 1318.4,339.5 1320,333C1321.6,326.5 1324.6,317.2 1327.5,310C1330.4,302.8 1333.8,296.7 1337.5,290C1341.2,283.3 1345.8,275.8 1350,270C1354.2,264.2 1358.1,259.8 1362.5,255C1366.9,250.2 1374,243.3 1376.2,241Z" fill="#d3cbcc"/>
<path d="M1439,94.3C1439.9,94.5 1443.4,94.9 1444.5,95.5C1445.6,96.1 1445.4,97.6 1445.6,98C1442.5,102.2 1433.2,112.9 1426.9,123C1420.6,133.1 1413.3,148.4 1408,158.8C1402.7,169.1 1398.4,177.9 1395,185C1391.6,192.1 1390.4,195.4 1387.5,201.2C1384.6,207.1 1379.2,216.9 1377.5,220" fill="none" stroke="#1d1714" stroke-width="2.7"/>
<path d="M1356,192.8C1357.5,195.2 1361.8,202.6 1365,207.5C1368.2,212.4 1373.1,217.1 1375,222.5C1376.9,227.9 1376,237.1 1376.2,240" fill="none" stroke="#1d1714" stroke-width="2.7"/>
<path d="M1417.5,100.6L1432,100.6C1432.7,100.8 1435.5,100.8 1436,101.5C1436.5,102.2 1435.4,104.4 1435.3,105C1432.3,109 1423.6,119.2 1417.5,128.8C1411.4,138.3 1404.1,151.9 1398.8,162.5C1393.4,173.1 1388.6,185.6 1385.6,192.5C1382.6,199.4 1381.3,202.1 1380.5,204C1380.1,204.6 1378.9,207.3 1378,207.5C1377.1,207.7 1375.5,205.4 1375,205C1373.8,202.8 1369.3,195.3 1368,192C1366.7,188.7 1366.2,189.6 1366.9,185C1367.7,180.4 1369.4,172.5 1372.5,164.4C1375.6,156.3 1380.6,145 1385.6,136.2C1390.6,127.5 1397.2,117.8 1402.5,111.9C1407.8,106 1415,102.5 1417.5,100.6Z" fill="url(#pgrey)" stroke="#1d1714" stroke-width="2.0"/>
<path d="M1451.2,94L1409,175.6C1406.5,179.5 1398.6,190.9 1393.8,198.8C1388.9,206.6 1382.9,215.6 1380,222.5C1377.1,229.4 1376.9,237.1 1376.2,240" fill="none" stroke="#1d1714" stroke-width="2.7"/>
<path d="M1458.5,98.8L1531,98.8C1531.8,98.9 1535.3,98.6 1536,99.5C1536.7,100.4 1535.2,103.2 1535,104L1508.5,165C1508.1,165.6 1507.2,168.2 1506,168.8C1504.8,169.4 1501.8,168.8 1501,168.8L1424,167.4C1423.1,167.2 1419.1,167.4 1418.5,166.5C1417.9,165.6 1420.2,162.8 1420.5,162L1453.5,101.5C1453.8,101.1 1454.7,99.7 1455.5,99.2C1456.3,98.7 1458,98.8 1458.5,98.8Z" fill="#d3cbcc" stroke="#1d1714" stroke-width="2.0"/>
<ellipse cx="1491.6" cy="106.2" rx="14" ry="3" transform="rotate(2 1491.6 106.2)" fill="#d9d2d3" stroke="#6b6465" stroke-width="1.8"/>
<ellipse cx="1506.6" cy="115.6" rx="12" ry="3" transform="rotate(2 1506.6 115.6)" fill="#d9d2d3" stroke="#6b6465" stroke-width="1.8"/>
<ellipse cx="1462.5" cy="162.5" rx="8" ry="2.6" transform="rotate(2 1462.5 162.5)" fill="#d9d2d3" stroke="#6b6465" stroke-width="1.8"/>
<ellipse cx="1492.5" cy="160.6" rx="12" ry="2.8" transform="rotate(2 1492.5 160.6)" fill="#d9d2d3" stroke="#6b6465" stroke-width="1.8"/>
<path d="M1409,175.6L1506.5,178.6" fill="none" stroke="#1d1714" stroke-width="2.7"/>
<path d="M1415,185L1489.5,186C1490.4,186.1 1494.3,186 1495,186.8C1495.7,187.6 1493.8,190.3 1493.5,191L1471.5,228.5C1471,229.2 1469.9,231.8 1468.5,232.5C1467.1,233.2 1463.9,232.8 1463,232.8L1390,232C1389,231.8 1385.1,232 1384,231C1382.9,230 1382.6,228.7 1383.3,226C1384,223.3 1385.6,219.1 1388,215C1390.4,210.9 1394.2,205.9 1397.5,201.2C1400.8,196.6 1405.1,189.7 1408,187C1410.9,184.3 1413.8,185.3 1415,185Z" fill="url(#pgrey)" stroke="#1d1714" stroke-width="2.0"/>
<path d="M1376.2,240.6L1471.2,241.9" fill="none" stroke="#1d1714" stroke-width="2.7"/>
<path d="M1506.5,180.5L1471,242" fill="none" stroke="#1d1714" stroke-width="2.7"/>
<path d="M1375,238.5C1372.6,240 1365.3,243.5 1360.5,247.5C1355.7,251.5 1350.5,256.7 1346,262.5C1341.5,268.3 1337.3,275.8 1333.5,282.5C1329.7,289.2 1326,295.8 1323,302.5C1320,309.2 1317.5,315.6 1315.5,322.5C1313.5,329.4 1312.3,336.8 1311,344C1309.7,351.2 1308.4,362.1 1307.9,365.7" fill="none" stroke="#1d1714" stroke-width="2.0"/>
<path d="M1376.2,242.5C1374,244.6 1367.1,250.4 1362.5,255C1357.9,259.6 1352.9,264.2 1348.5,270C1344.1,275.8 1339.7,283.3 1336,290C1332.3,296.7 1329.2,302.8 1326.5,310C1323.8,317.2 1321.4,326.5 1320,333C1318.6,339.5 1318.3,346.3 1318,349" fill="none" stroke="#1d1714" stroke-width="2.0"/>
<path d="M1318,349L1420.5,350" fill="none" stroke="#1d1714" stroke-width="2.7"/>
<path d="M1267.7,350.7L1307.9,365.7C1306.5,368.7 1302.2,377.3 1299.4,383.5C1296.6,389.7 1292.4,399.8 1291,403" fill="none" stroke="#1d1714" stroke-width="2.7"/>
<path d="M1353.8,205.6C1354.8,206.8 1357.6,209.7 1360,212.5C1362.4,215.3 1366.7,220.8 1368,222.5C1368.2,223.4 1369.3,226.1 1369,228C1368.7,229.9 1366.7,232.8 1366.2,233.8C1364.2,235.4 1358.5,239.4 1354,243.8C1349.5,248.1 1344,254 1339.5,260C1335,266 1330.7,273.3 1327,280C1323.3,286.7 1320.2,293.3 1317.5,300C1314.8,306.7 1312.8,311.7 1311,320C1309.2,328.3 1307.7,345 1307,350C1306.9,350.8 1307.2,353.8 1306.5,354.5C1305.8,355.2 1303.6,354.1 1303,354L1281,346C1280.5,345.7 1278.2,345.2 1278,344C1277.8,342.8 1279.2,339.8 1279.5,339C1280.9,335.5 1285.2,324.5 1288,318C1290.8,311.5 1293.7,305.8 1296.5,300C1299.3,294.2 1301.4,289.7 1305,283C1308.6,276.3 1313.7,267.2 1318,260C1322.3,252.8 1327,246.3 1331,240C1335,233.7 1338.2,227.7 1342,222C1345.8,216.3 1351.8,208.3 1353.8,205.6Z" fill="url(#pgrey)" stroke="#1d1714" stroke-width="2.0"/>
<path d="M1377,248.8L1462.5,248C1463.2,248.3 1466.1,248.8 1467,250C1467.9,251.2 1467.8,254.2 1468,255C1468,257.5 1468.9,264.2 1468,270C1467.1,275.8 1465.5,282.7 1462.5,290C1459.5,297.3 1454.6,306.7 1450,313.8C1445.4,320.8 1439.6,327.6 1435,332.5C1430.4,337.4 1424.6,341.5 1422.5,343.3L1331,343.3C1330.2,343.1 1327,343.1 1326,342C1325,340.9 1324.9,337.8 1324.7,337C1324.8,335.8 1324.6,333.9 1325.5,330C1326.4,326.1 1328,319.6 1330,313.8C1332,307.9 1334.4,301.2 1337.5,295C1340.6,288.8 1344.6,282.1 1348.8,276.2C1352.9,270.4 1357.8,264.6 1362.5,260C1367.2,255.4 1374.6,250.6 1377,248.8Z" fill="#d3cbcc" stroke="#1d1714" stroke-width="2.0"/>
<ellipse cx="1406.2" cy="255.2" rx="12" ry="2.4" transform="rotate(2 1406.2 255.2)" fill="#7f7778" stroke="#7f7778" stroke-width="0.8"/>
<ellipse cx="1400.6" cy="283" rx="14.5" ry="2.8" transform="rotate(2 1400.6 283)" fill="#7f7778" stroke="#7f7778" stroke-width="0.8"/>
<ellipse cx="1428" cy="297" rx="13" ry="3" transform="rotate(2 1428 297)" fill="#c4bcbd" stroke="#6b6465" stroke-width="1.6"/>
<ellipse cx="1410" cy="315" rx="16" ry="3.2" transform="rotate(2 1410 315)" fill="#c4bcbd" stroke="#6b6465" stroke-width="1.6"/>
<ellipse cx="1426.2" cy="322.5" rx="13" ry="2.6" transform="rotate(2 1426.2 322.5)" fill="#7f7778" stroke="#7f7778" stroke-width="0.8"/>
<ellipse cx="1457.5" cy="268" rx="6" ry="2.2" transform="rotate(2 1457.5 268)" fill="#7f7778" stroke="#7f7778" stroke-width="0.8"/>
<ellipse cx="1452.5" cy="285" rx="9" ry="2.6" transform="rotate(2 1452.5 285)" fill="#c4bcbd" stroke="#6b6465" stroke-width="1.6"/>
<ellipse cx="1366.2" cy="280.6" rx="11" ry="2.7" transform="rotate(-45 1366.2 280.6)" fill="#bfb7b8" stroke="#635c5d" stroke-width="1.8"/>
<ellipse cx="1372.5" cy="307.5" rx="11" ry="2.7" transform="rotate(-55 1372.5 307.5)" fill="#bfb7b8" stroke="#635c5d" stroke-width="1.8"/>
<ellipse cx="1345" cy="310" rx="10" ry="1.6" transform="rotate(-60 1345 310)" fill="#706869" stroke="#706869" stroke-width="1.0"/>
<ellipse cx="1342.5" cy="335" rx="6" ry="1.6" transform="rotate(-60 1342.5 335)" fill="#706869" stroke="#706869" stroke-width="1.0"/>
<ellipse cx="1367.5" cy="336" rx="6" ry="1.6" transform="rotate(-60 1367.5 336)" fill="#706869" stroke="#706869" stroke-width="1.0"/>
<path d="M1349.4,472.8L1383,404.4C1383.7,419.1 1386,443.2 1386.9,492.5C1387.8,541.8 1388,639.1 1388.6,700C1389.2,760.9 1390,822.5 1390.4,857.7C1390.9,892.9 1391.2,902.1 1391.3,911C1390,915.3 1385.7,929.4 1383.4,936.7C1381.1,944 1380.4,947 1377.5,955C1374.6,963 1369.2,976.8 1366,985C1362.8,993.2 1359.3,1000.8 1358,1004C1357.5,995.8 1355.7,1005.7 1355,955C1354.3,904.3 1354.3,767.7 1353.8,700C1353.3,632.3 1352.7,586.6 1352,548.8C1351.3,510.9 1349.8,485.5 1349.4,472.8Z" fill="url(#ptan)" stroke="#1d1714" stroke-width="2.7"/>
<path d="M1369,437C1369.2,471 1369.7,597.2 1370,641C1370.3,684.8 1370,656.8 1370.6,700C1371.2,743.2 1372.9,858.7 1373.5,900C1374.1,941.3 1374.2,940 1374.3,948" fill="none" stroke="#4a3b30" stroke-width="2.3" stroke-dasharray="10 5" stroke-linecap="butt"/>
<path d="M1204,471.9C1204.8,469.7 1205.7,464.7 1208.8,458.8C1211.8,452.8 1216.7,445.9 1222.5,436.2C1228.3,426.6 1239.9,406.5 1243.4,400.6L1291,403.6L1383,404.4L1349.4,472.8L1255.6,470L1249,476.5Z" fill="url(#ptan)" stroke="#1d1714" stroke-width="2.7"/>
<path d="M1289,403.4C1285.6,408.6 1274,424.5 1268.8,434.4C1263.5,444.2 1260.2,455.9 1257.5,462.5C1254.8,469.1 1253.6,471.9 1252.8,473.8" fill="none" stroke="#1d1714" stroke-width="2.7"/>
<path d="M1272.5,435.3L1368,435.3" fill="none" stroke="#4a3b30" stroke-width="2.3" stroke-dasharray="10 5" stroke-linecap="butt"/>
<path d="M1156,600L1349.4,473C1349.8,485.6 1351.3,510.9 1352,548.8C1352.7,586.6 1353.3,632.3 1353.8,700C1354.3,767.7 1354.3,904.3 1355,955C1355.7,1005.7 1357.5,995.8 1358,1004C1355,1010.4 1347.2,1027.3 1340,1042.5C1332.8,1057.7 1320.8,1080.4 1315,1095C1309.2,1109.6 1308.3,1119.2 1305,1130C1301.7,1140.8 1297.5,1152.5 1295,1160C1292.5,1167.5 1291.7,1170.4 1290,1175C1288.3,1179.6 1287.9,1183.3 1285,1187.5C1282.1,1191.7 1278.3,1195.8 1272.5,1200C1266.7,1204.2 1257.9,1209.6 1250,1212.5C1242.1,1215.4 1232.9,1217.1 1225,1217.5C1217.1,1217.9 1210,1217.1 1202.5,1215C1195,1212.9 1185.8,1208.8 1180,1205C1174.2,1201.2 1170.2,1197.8 1167.5,1192.5C1164.8,1187.2 1164.4,1176.2 1163.8,1173C1163.3,1144.2 1161.8,1048.7 1161.2,1000C1160.7,951.3 1160.9,914.2 1160.6,881C1160.3,847.8 1160.3,839.2 1159.7,801C1159.1,762.8 1157.4,676.8 1156.9,652Z" fill="url(#pcream)" stroke="#1d1714" stroke-width="2.7"/>
<path d="M1285.3,635C1285.5,676 1285.9,820.2 1286.2,881C1286.6,941.8 1286.9,963.5 1287.5,1000C1288.1,1036.5 1289.4,1071.2 1290,1100C1290.6,1128.8 1291,1160.4 1291.2,1172.5" fill="none" stroke="#1d1714" stroke-width="2.7"/>
<path d="M1311.9,549.7C1311.7,561.4 1310.7,564.8 1310.6,620C1310.5,675.2 1311.2,817.7 1311.5,881C1311.8,944.3 1311.9,964.5 1312.5,1000C1313.1,1035.5 1314.6,1078.1 1315,1093.8" fill="none" stroke="#1d1714" stroke-width="2.7"/>
<path d="M1349.4,485C1348.5,495.6 1346.2,528.8 1343.8,548.8C1341.2,568.8 1337.5,589.6 1334.4,605C1331.3,620.4 1328.8,631 1325,641C1321.2,651 1313.8,661 1311.5,665" fill="none" stroke="#1d1714" stroke-width="2.7"/>
<path d="M1355.6,751.2C1353.4,757.5 1347.8,776.2 1342.5,788.8C1337.2,801.2 1328.9,817 1323.8,826.2C1318.6,835.5 1313.5,841 1311.5,844" fill="none" stroke="#1d1714" stroke-width="2.7"/>
<path d="M1356,900C1355,902.8 1352.6,909.6 1349.9,917C1347.2,924.4 1344.2,930.8 1340,944.6C1335.8,958.4 1329.6,987.9 1325,1000C1320.4,1012.1 1314.6,1014.6 1312.5,1017.5" fill="none" stroke="#1d1714" stroke-width="2.7"/>
<path d="M1116,632C1116.6,634.1 1115.1,641.2 1119.4,644.4C1123.7,647.6 1136,650.1 1141.9,651C1147.8,651.9 1152.8,650.2 1155,650L1156,652C1156.6,676.8 1159.1,769.2 1159.7,801C1160.3,832.8 1159.7,836 1159.7,843C1158.9,842.4 1158.9,844.7 1155,839.4C1151.1,834.1 1141.6,821.2 1136.2,811.2C1130.9,801.2 1126.4,795.6 1123,779.4C1119.6,763.1 1116.9,733.6 1115.6,713.8C1114.3,693.9 1115.2,673.6 1115.3,660C1115.4,646.4 1115.9,636.7 1116,632Z" fill="url(#pcream)" stroke="#1d1714" stroke-width="2.7"/>
<path d="M1204,472.8L1247.2,478.4C1245.2,482 1239.2,492 1235,500C1230.8,508 1225.2,518.8 1221.9,526.2C1218.6,533.8 1216.4,541.9 1215.3,545C1211.7,548.8 1200.5,559.1 1193.8,567.5C1187,575.9 1180.3,586.2 1175,595.6C1169.7,605 1165,616.2 1161.9,623.8C1158.8,631.3 1157.2,636.6 1156.2,641C1155.3,645.4 1156,648.5 1156,650C1153.7,650.2 1148,651.9 1141.9,651C1135.8,650.1 1123.7,647.2 1119.4,644.4C1115.1,641.6 1116.6,635.7 1116,634C1116.5,630.7 1116.8,622.4 1118.8,614.4C1120.8,606.4 1122.7,597.2 1128,586.2C1133.3,575.3 1143.4,560.6 1150.6,548.8C1157.8,536.9 1165,525 1171.2,515C1177.5,505 1182.5,495.8 1188,488.8C1193.5,481.7 1201.3,475.5 1204,472.8Z" fill="url(#pcream)" stroke="#1d1714" stroke-width="2.7"/>
<path d="M1255.6,471L1349.4,473.8C1346.9,479.4 1340.7,494.8 1334.4,507.5C1328.2,520.2 1315.7,542.7 1311.9,549.7L1215.3,546C1218.1,538.3 1225.2,512.5 1231.9,500C1238.6,487.5 1251.6,475.8 1255.6,471Z" fill="url(#pcream)" stroke="#1d1714" stroke-width="2.7"/>
<path d="M1215.3,547L1311.9,550.6C1311.2,556.5 1310.5,574.7 1308,586.2C1305.5,597.8 1300.7,611.5 1296.9,620C1293.1,628.5 1287.7,633.6 1285.3,637C1282.9,640.4 1286.1,637.5 1282.5,640.6C1278.9,643.7 1270.9,651.7 1263.8,655.6C1256.6,659.5 1248.2,662.1 1239.4,664C1230.7,665.9 1220.3,666.9 1211.2,666.9C1202.2,666.9 1192.8,665.6 1185,664C1177.2,662.4 1169.2,659.8 1164.4,657.5C1159.6,655.2 1157.4,651.2 1156,650C1156,648.5 1155.3,645.4 1156.2,641C1157.2,636.6 1158.8,631.3 1161.9,623.8C1165,616.2 1169.7,605 1175,595.6C1180.3,586.2 1187,575.6 1193.8,567.5C1200.5,559.4 1211.7,550.4 1215.3,547Z" fill="url(#pcream)" stroke="#1d1714" stroke-width="2.7"/>
<path d="M1285.6,551.6C1284.7,555.8 1280.9,568 1280,576.9C1279.1,585.8 1279.1,595.1 1280,605C1280.9,614.9 1284.7,630.8 1285.6,636" fill="none" stroke="#1d1714" stroke-width="2.7"/>
<ellipse cx="1228.4" cy="566.2" rx="5.2" ry="3.6" transform="rotate(0 1228.4 566.2)" fill="#f6ebc6" stroke="#2a201a" stroke-width="2.1"/>
<ellipse cx="1260.3" cy="573" rx="5.2" ry="3.6" transform="rotate(0 1260.3 573)" fill="#f6ebc6" stroke="#2a201a" stroke-width="2.1"/>
<ellipse cx="1228.4" cy="592.8" rx="5.2" ry="3.6" transform="rotate(0 1228.4 592.8)" fill="#f6ebc6" stroke="#2a201a" stroke-width="2.1"/>
<ellipse cx="1195.2" cy="600.8" rx="5.2" ry="3.6" transform="rotate(0 1195.2 600.8)" fill="#f6ebc6" stroke="#2a201a" stroke-width="2.1"/>
<ellipse cx="1260.3" cy="604" rx="5.2" ry="3.6" transform="rotate(0 1260.3 604)" fill="#f6ebc6" stroke="#2a201a" stroke-width="2.1"/>
<ellipse cx="1222.7" cy="620.4" rx="5.2" ry="3.6" transform="rotate(0 1222.7 620.4)" fill="#f6ebc6" stroke="#2a201a" stroke-width="2.1"/>
<ellipse cx="1185.2" cy="630.3" rx="5.2" ry="3.6" transform="rotate(0 1185.2 630.3)" fill="#f6ebc6" stroke="#2a201a" stroke-width="2.1"/>
<ellipse cx="1254.6" cy="636.3" rx="5.2" ry="3.6" transform="rotate(0 1254.6 636.3)" fill="#f6ebc6" stroke="#2a201a" stroke-width="2.1"/>
<ellipse cx="1215.7" cy="648.3" rx="5.2" ry="3.6" transform="rotate(0 1215.7 648.3)" fill="#f6ebc6" stroke="#2a201a" stroke-width="2.1"/>
<text x="81.2" y="42.8" font-size="27" textLength="248" lengthAdjust="spacingAndGlyphs">Ray initial (dividing)</text>
<text x="140.2" y="75.6" font-size="27" textLength="313.6" lengthAdjust="spacingAndGlyphs">Fusiform initial (dividing)</text>
<text x="1430.2" y="46.6" font-size="27" textLength="173" lengthAdjust="spacingAndGlyphs">Xylem ray cell</text>
<text x="1580.7" y="529" font-size="27" textLength="109" lengthAdjust="spacingAndGlyphs">Tracheid</text>
<text x="1580.2" y="602.3" font-size="27" textLength="78.5" lengthAdjust="spacingAndGlyphs">Xylem</text>
<text x="1580.2" y="638" font-size="27" textLength="154.6" lengthAdjust="spacingAndGlyphs">parenchyma</text>
<text x="1579.7" y="673.4" font-size="27" textLength="44.5" lengthAdjust="spacingAndGlyphs">cell</text>
<text x="1582" y="739.5" font-size="27" textLength="79" lengthAdjust="spacingAndGlyphs">Vessel</text>
<text x="1582.2" y="775" font-size="27" textLength="105" lengthAdjust="spacingAndGlyphs">element</text>
<text x="1580.7" y="837" font-size="27" textLength="123.6" lengthAdjust="spacingAndGlyphs">Immature</text>
<text x="1580.7" y="871.7" font-size="27" textLength="76.7" lengthAdjust="spacingAndGlyphs">xylem</text>
<text x="1581.2" y="907" font-size="27" textLength="105" lengthAdjust="spacingAndGlyphs">element</text>
<text x="1758.2" y="708" font-size="27" textLength="137" lengthAdjust="spacingAndGlyphs">Secondary</text>
<text x="1758.2" y="744.5" font-size="27" textLength="79" lengthAdjust="spacingAndGlyphs">xylem</text>
<text x="851.2" y="1179.4" font-size="27" textLength="149.8" lengthAdjust="spacingAndGlyphs">Companion</text>
<text x="851.2" y="1214.4" font-size="27" textLength="45" lengthAdjust="spacingAndGlyphs">cell</text>
<text x="1100.2" y="1257.8" font-size="27" textLength="97.8" lengthAdjust="spacingAndGlyphs">Phloem</text>
<text x="1100.2" y="1292.8" font-size="27" textLength="89" lengthAdjust="spacingAndGlyphs">ray cell</text>
<text x="1221.5" y="1257.8" font-size="27" textLength="136.3" lengthAdjust="spacingAndGlyphs">Sieve-tube</text>
<text x="1221.5" y="1292.8" font-size="27" textLength="105.4" lengthAdjust="spacingAndGlyphs">element</text>
<text x="1168.2" y="1332.4" font-size="27" textLength="134" lengthAdjust="spacingAndGlyphs">Secondary</text>
<text x="1168.2" y="1369" font-size="27" textLength="99.6" lengthAdjust="spacingAndGlyphs">phloem</text>
<text x="1329.8" y="1123.7" font-size="27" textLength="97.8" lengthAdjust="spacingAndGlyphs">Phloem</text>
<text x="1329.8" y="1160.5" font-size="27" textLength="158.7" lengthAdjust="spacingAndGlyphs">parenchyma</text>
<text x="1329.8" y="1194.8" font-size="27" textLength="44.5" lengthAdjust="spacingAndGlyphs">cell</text>
<path d="M110,51.7L71.7,111.7" fill="none" stroke="#1d1714" stroke-width="2.6" stroke-linecap="butt"/>
<path d="M155,80L133,111.7" fill="none" stroke="#1d1714" stroke-width="2.6" stroke-linecap="butt"/>
<path d="M1443.6,59.4L1412.5,121" fill="none" stroke="#1d1714" stroke-width="2.6" stroke-linecap="butt"/>
<path d="M1536,522.8L1574,522.8" fill="none" stroke="#1d1714" stroke-width="2.6" stroke-linecap="butt"/>
<path d="M1496,631.7L1574,631.7" fill="none" stroke="#1d1714" stroke-width="2.6" stroke-linecap="butt"/>
<path d="M1452.6,750L1574,750" fill="none" stroke="#1d1714" stroke-width="2.6" stroke-linecap="butt"/>
<path d="M1401,865.6L1574,865.6" fill="none" stroke="#1d1714" stroke-width="2.6" stroke-linecap="butt"/>
<path d="M916.5,953L916.5,1153.6" fill="none" stroke="#1d1714" stroke-width="2.6" stroke-linecap="butt"/>
<path d="M1135.3,753L1141.8,1227.5" fill="none" stroke="#1d1714" stroke-width="2.6" stroke-linecap="butt"/>
<path d="M1266,1182L1266,1231.6" fill="none" stroke="#1d1714" stroke-width="2.6" stroke-linecap="butt"/>
<path d="M1336.2,1005L1336.2,1096" fill="none" stroke="#1d1714" stroke-width="2.6" stroke-linecap="butt"/>
<path d="M1714.7,503H1746.8V910.7H1712.7" fill="none" stroke="#5a5556" stroke-width="2" stroke-linecap="butt" stroke-linejoin="miter"/>
<path d="M1093.4,1284V1306H1387.3V1284" fill="none" stroke="#5a5556" stroke-width="2" stroke-linecap="butt" stroke-linejoin="miter"/>
</g>
</svg>
</body></html>
